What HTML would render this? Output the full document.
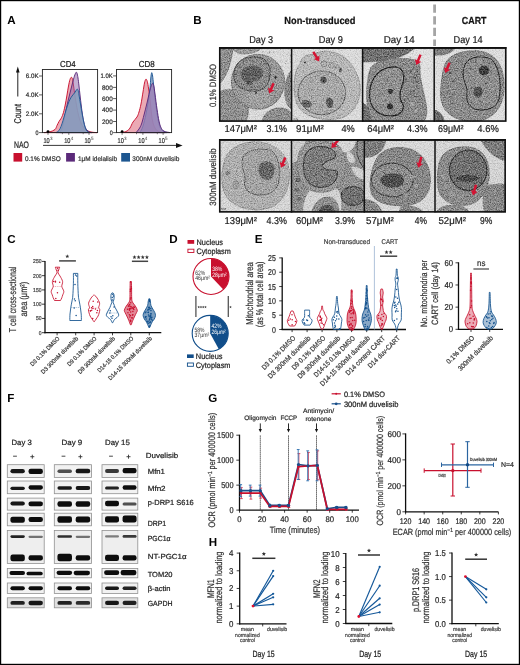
<!DOCTYPE html><html><head><meta charset="utf-8"><style>html,body{margin:0;padding:0;background:#fff;overflow:hidden;}svg{display:block;will-change:transform;}text{font-family:"Liberation Sans", sans-serif;text-rendering:geometricPrecision;}</style></head><body>
<svg width="520" height="665" viewBox="0 0 520 665">
<rect x="0.00" y="0.00" width="520.00" height="665.00" fill="#fff" stroke="none" stroke-width="1"/>
<text x="7.2" y="23.8" font-size="11.6" font-weight="bold" fill="#000">A</text>
<line x1="17.80" y1="71.00" x2="17.80" y2="96.50" stroke="#222" stroke-width="1"/>
<path d="M16.0,72.6 L17.8,66.4 L19.6,72.6 Z" fill="#111"/>
<text x="20.90" y="113.80" font-size="9.8" fill="#222" stroke="#222" stroke-width="0.22" text-anchor="middle" textLength="19.60" lengthAdjust="spacingAndGlyphs" transform="rotate(-90 20.90 113.80)" dy="0">Count</text>
<path d="M44,132.6 C45.00,132.47 48.17,132.32 50.00,131.80 C51.83,131.28 53.83,130.55 55.00,129.50 C56.17,128.45 56.33,126.83 57.00,125.50 C57.67,124.17 58.33,122.67 59.00,121.50 C59.67,120.33 60.33,119.75 61.00,118.50 C61.67,117.25 62.33,116.08 63.00,114.00 C63.67,111.92 64.33,109.17 65.00,106.00 C65.67,102.83 66.42,98.33 67.00,95.00 C67.58,91.67 68.00,88.58 68.50,86.00 C69.00,83.42 69.52,80.95 70.00,79.50 C70.48,78.05 70.97,77.30 71.40,77.30 C71.83,77.30 72.23,78.05 72.60,79.50 C72.97,80.95 73.20,83.25 73.60,86.00 C74.00,88.75 74.43,92.33 75.00,96.00 C75.57,99.67 76.33,104.50 77.00,108.00 C77.67,111.50 78.33,114.50 79.00,117.00 C79.67,119.50 80.17,121.17 81.00,123.00 C81.83,124.83 82.83,126.67 84.00,128.00 C85.17,129.33 86.67,130.30 88.00,131.00 C89.33,131.70 90.50,131.93 92.00,132.20 C93.50,132.47 96.17,132.53 97.00,132.60 Z" fill="rgba(200,16,46,0.36)" stroke="#c8102e" stroke-width="0.95" stroke-linejoin="round"/>
<path d="M60,132.6 C60.33,131.83 61.33,130.10 62.00,128.00 C62.67,125.90 63.33,123.00 64.00,120.00 C64.67,117.00 65.33,113.17 66.00,110.00 C66.67,106.83 67.33,103.83 68.00,101.00 C68.67,98.17 69.33,95.67 70.00,93.00 C70.67,90.33 71.33,87.58 72.00,85.00 C72.67,82.42 73.42,79.45 74.00,77.50 C74.58,75.55 75.13,74.17 75.50,73.30 C75.87,72.43 75.95,72.32 76.20,72.30 C76.45,72.28 76.70,72.25 77.00,73.20 C77.30,74.15 77.67,75.87 78.00,78.00 C78.33,80.13 78.67,83.17 79.00,86.00 C79.33,88.83 79.62,91.67 80.00,95.00 C80.38,98.33 80.88,102.67 81.30,106.00 C81.72,109.33 82.05,112.17 82.50,115.00 C82.95,117.83 83.42,120.67 84.00,123.00 C84.58,125.33 85.17,127.50 86.00,129.00 C86.83,130.50 88.00,131.40 89.00,132.00 C90.00,132.60 91.50,132.50 92.00,132.60 Z" fill="rgba(140,95,165,0.5)" stroke="#5b2a7a" stroke-width="0.95" stroke-linejoin="round"/>
<path d="M56,132.6 C56.50,132.25 58.17,131.52 59.00,130.50 C59.83,129.48 60.33,128.17 61.00,126.50 C61.67,124.83 62.33,122.67 63.00,120.50 C63.67,118.33 64.33,115.75 65.00,113.50 C65.67,111.25 66.33,109.00 67.00,107.00 C67.67,105.00 68.33,103.08 69.00,101.50 C69.67,99.92 70.33,98.62 71.00,97.50 C71.67,96.38 72.33,95.67 73.00,94.80 C73.67,93.93 74.42,93.13 75.00,92.30 C75.58,91.47 76.12,90.32 76.50,89.80 C76.88,89.28 77.02,89.08 77.30,89.20 C77.58,89.32 77.92,89.53 78.20,90.50 C78.48,91.47 78.62,92.75 79.00,95.00 C79.38,97.25 80.00,101.00 80.50,104.00 C81.00,107.00 81.50,110.17 82.00,113.00 C82.50,115.83 83.00,118.67 83.50,121.00 C84.00,123.33 84.42,125.33 85.00,127.00 C85.58,128.67 86.17,130.07 87.00,131.00 C87.83,131.93 89.50,132.33 90.00,132.60 Z" fill="rgba(135,158,190,0.88)" stroke="#1f5896" stroke-width="0.95" stroke-linejoin="round"/>
<path d="M122,132.6 C122.83,132.33 125.67,131.77 127.00,131.00 C128.33,130.23 129.00,129.50 130.00,128.00 C131.00,126.50 131.83,123.83 133.00,122.00 C134.17,120.17 136.00,118.67 137.00,117.00 C138.00,115.33 138.33,114.17 139.00,112.00 C139.67,109.83 140.33,107.33 141.00,104.00 C141.67,100.67 142.42,95.50 143.00,92.00 C143.58,88.50 144.02,85.13 144.50,83.00 C144.98,80.87 145.43,79.45 145.90,79.20 C146.37,78.95 146.87,80.03 147.30,81.50 C147.73,82.97 148.13,85.75 148.50,88.00 C148.87,90.25 149.17,92.33 149.50,95.00 C149.83,97.67 150.17,100.83 150.50,104.00 C150.83,107.17 151.08,110.83 151.50,114.00 C151.92,117.17 152.25,120.42 153.00,123.00 C153.75,125.58 154.83,128.00 156.00,129.50 C157.17,131.00 158.50,131.48 160.00,132.00 C161.50,132.52 164.17,132.50 165.00,132.60 Z" fill="rgba(200,16,46,0.36)" stroke="#c8102e" stroke-width="0.95" stroke-linejoin="round"/>
<path d="M140,132.6 C140.50,131.50 142.00,129.10 143.00,126.00 C144.00,122.90 145.08,118.33 146.00,114.00 C146.92,109.67 147.83,104.33 148.50,100.00 C149.17,95.67 149.62,91.67 150.00,88.00 C150.38,84.33 150.52,80.55 150.80,78.00 C151.08,75.45 151.40,73.03 151.70,72.70 C152.00,72.37 152.30,74.12 152.60,76.00 C152.90,77.88 153.18,81.17 153.50,84.00 C153.82,86.83 154.08,89.33 154.50,93.00 C154.92,96.67 155.42,101.67 156.00,106.00 C156.58,110.33 157.33,115.50 158.00,119.00 C158.67,122.50 159.17,125.00 160.00,127.00 C160.83,129.00 161.83,130.07 163.00,131.00 C164.17,131.93 166.33,132.33 167.00,132.60 Z" fill="rgba(120,150,190,0.8)" stroke="#1f5896" stroke-width="0.95" stroke-linejoin="round"/>
<path d="M136,132.6 C136.50,132.00 138.08,130.43 139.00,129.00 C139.92,127.57 140.67,126.33 141.50,124.00 C142.33,121.67 143.08,118.50 144.00,115.00 C144.92,111.50 146.08,106.83 147.00,103.00 C147.92,99.17 148.83,94.75 149.50,92.00 C150.17,89.25 150.52,87.92 151.00,86.50 C151.48,85.08 151.95,83.67 152.40,83.50 C152.85,83.33 153.27,83.75 153.70,85.50 C154.13,87.25 154.45,90.08 155.00,94.00 C155.55,97.92 156.33,104.50 157.00,109.00 C157.67,113.50 158.33,117.92 159.00,121.00 C159.67,124.08 160.17,125.80 161.00,127.50 C161.83,129.20 162.50,130.35 164.00,131.20 C165.50,132.05 169.00,132.37 170.00,132.60 Z" fill="rgba(160,125,180,0.72)" stroke="#5b2a7a" stroke-width="0.95" stroke-linejoin="round"/>
<rect x="42.40" y="69.50" width="55.20" height="63.10" fill="none" stroke="#222" stroke-width="0.9"/>
<text x="60.00" y="66.80" font-size="8.7" fill="#222" stroke="#222" stroke-width="0.22" textLength="15.70" lengthAdjust="spacingAndGlyphs">CD4</text>
<line x1="39.00" y1="76.00" x2="42.40" y2="76.00" stroke="#333" stroke-width="0.8"/>
<text x="38.60" y="78.20" font-size="6.4" fill="#333" stroke="#333" stroke-width="0.22" text-anchor="end" textLength="12.80" lengthAdjust="spacingAndGlyphs">6.0K</text>
<line x1="39.00" y1="94.90" x2="42.40" y2="94.90" stroke="#333" stroke-width="0.8"/>
<text x="38.60" y="97.10" font-size="6.4" fill="#333" stroke="#333" stroke-width="0.22" text-anchor="end" textLength="12.80" lengthAdjust="spacingAndGlyphs">4.0K</text>
<line x1="39.00" y1="113.80" x2="42.40" y2="113.80" stroke="#333" stroke-width="0.8"/>
<text x="38.60" y="116.00" font-size="6.4" fill="#333" stroke="#333" stroke-width="0.22" text-anchor="end" textLength="12.80" lengthAdjust="spacingAndGlyphs">2.0K</text>
<line x1="39.00" y1="132.60" x2="42.40" y2="132.60" stroke="#333" stroke-width="0.8"/>
<text x="38.60" y="134.80" font-size="6.4" fill="#333" stroke="#333" stroke-width="0.22" text-anchor="end" textLength="3.00" lengthAdjust="spacingAndGlyphs">0</text>
<line x1="48.00" y1="132.60" x2="48.00" y2="134.80" stroke="#333" stroke-width="0.7"/>
<line x1="68.80" y1="132.60" x2="68.80" y2="134.80" stroke="#333" stroke-width="0.7"/>
<line x1="89.00" y1="132.60" x2="89.00" y2="134.80" stroke="#333" stroke-width="0.7"/>
<line x1="62.40" y1="132.60" x2="62.40" y2="134.20" stroke="#333" stroke-width="0.6"/>
<line x1="83.20" y1="132.60" x2="83.20" y2="134.20" stroke="#333" stroke-width="0.6"/>
<text x="43.40" y="143.10" font-size="7.0" fill="#333" stroke="#333" stroke-width="0.22" textLength="6.30" lengthAdjust="spacingAndGlyphs">10</text>
<text x="49.90" y="140.0" font-size="4.6" fill="#333">3</text>
<text x="64.20" y="143.10" font-size="7.0" fill="#333" stroke="#333" stroke-width="0.22" textLength="6.30" lengthAdjust="spacingAndGlyphs">10</text>
<text x="70.70" y="140.0" font-size="4.6" fill="#333">4</text>
<text x="84.40" y="143.10" font-size="7.0" fill="#333" stroke="#333" stroke-width="0.22" textLength="6.30" lengthAdjust="spacingAndGlyphs">10</text>
<text x="90.90" y="140.0" font-size="4.6" fill="#333">5</text>
<circle cx="48.0" cy="131.6" r="1.4" fill="#000"/>
<rect x="116.50" y="69.50" width="55.10" height="63.10" fill="none" stroke="#222" stroke-width="0.9"/>
<text x="138.80" y="66.80" font-size="8.7" fill="#222" stroke="#222" stroke-width="0.22" textLength="16.00" lengthAdjust="spacingAndGlyphs">CD8</text>
<line x1="113.10" y1="75.90" x2="116.50" y2="75.90" stroke="#333" stroke-width="0.8"/>
<text x="112.70" y="78.10" font-size="6.4" fill="#333" stroke="#333" stroke-width="0.22" text-anchor="end" textLength="12.20" lengthAdjust="spacingAndGlyphs">1.0K</text>
<line x1="113.10" y1="87.40" x2="116.50" y2="87.40" stroke="#333" stroke-width="0.8"/>
<text x="112.70" y="89.60" font-size="6.4" fill="#333" stroke="#333" stroke-width="0.22" text-anchor="end" textLength="10.60" lengthAdjust="spacingAndGlyphs">800</text>
<line x1="113.10" y1="98.60" x2="116.50" y2="98.60" stroke="#333" stroke-width="0.8"/>
<text x="112.70" y="100.80" font-size="6.4" fill="#333" stroke="#333" stroke-width="0.22" text-anchor="end" textLength="10.60" lengthAdjust="spacingAndGlyphs">600</text>
<line x1="113.10" y1="110.10" x2="116.50" y2="110.10" stroke="#333" stroke-width="0.8"/>
<text x="112.70" y="112.30" font-size="6.4" fill="#333" stroke="#333" stroke-width="0.22" text-anchor="end" textLength="10.60" lengthAdjust="spacingAndGlyphs">400</text>
<line x1="113.10" y1="121.50" x2="116.50" y2="121.50" stroke="#333" stroke-width="0.8"/>
<text x="112.70" y="123.70" font-size="6.4" fill="#333" stroke="#333" stroke-width="0.22" text-anchor="end" textLength="10.60" lengthAdjust="spacingAndGlyphs">200</text>
<line x1="113.10" y1="132.60" x2="116.50" y2="132.60" stroke="#333" stroke-width="0.8"/>
<text x="112.70" y="134.80" font-size="6.4" fill="#333" stroke="#333" stroke-width="0.22" text-anchor="end" textLength="3.00" lengthAdjust="spacingAndGlyphs">0</text>
<line x1="122.10" y1="132.60" x2="122.10" y2="134.80" stroke="#333" stroke-width="0.7"/>
<line x1="142.90" y1="132.60" x2="142.90" y2="134.80" stroke="#333" stroke-width="0.7"/>
<line x1="163.10" y1="132.60" x2="163.10" y2="134.80" stroke="#333" stroke-width="0.7"/>
<line x1="136.50" y1="132.60" x2="136.50" y2="134.20" stroke="#333" stroke-width="0.6"/>
<line x1="157.30" y1="132.60" x2="157.30" y2="134.20" stroke="#333" stroke-width="0.6"/>
<text x="117.50" y="143.10" font-size="7.0" fill="#333" stroke="#333" stroke-width="0.22" textLength="6.30" lengthAdjust="spacingAndGlyphs">10</text>
<text x="124.00" y="140.0" font-size="4.6" fill="#333">3</text>
<text x="138.30" y="143.10" font-size="7.0" fill="#333" stroke="#333" stroke-width="0.22" textLength="6.30" lengthAdjust="spacingAndGlyphs">10</text>
<text x="144.80" y="140.0" font-size="4.6" fill="#333">4</text>
<text x="158.50" y="143.10" font-size="7.0" fill="#333" stroke="#333" stroke-width="0.22" textLength="6.30" lengthAdjust="spacingAndGlyphs">10</text>
<text x="165.00" y="140.0" font-size="4.6" fill="#333">5</text>
<circle cx="122.1" cy="131.6" r="1.4" fill="#000"/>
<text x="14.00" y="148.00" font-size="9.4" fill="#222" stroke="#222" stroke-width="0.22" textLength="15.00" lengthAdjust="spacingAndGlyphs">NAO</text>
<line x1="43.00" y1="145.40" x2="177.00" y2="145.40" stroke="#222" stroke-width="0.9"/>
<path d="M176,142.9 L182.6,145.4 L176,147.9 Z" fill="#111"/>
<rect x="13.50" y="153.00" width="8.70" height="8.60" fill="#c8102e" stroke="none" stroke-width="1"/>
<text x="25.00" y="160.50" font-size="6.7" fill="#333" stroke="#333" stroke-width="0.22" textLength="35.70" lengthAdjust="spacingAndGlyphs">0.1% DMSO</text>
<rect x="66.10" y="153.00" width="8.80" height="8.60" fill="#5b2a7a" stroke="none" stroke-width="1"/>
<text x="78.00" y="160.50" font-size="6.7" fill="#333" stroke="#333" stroke-width="0.22" textLength="39.00" lengthAdjust="spacingAndGlyphs">1μM idelalisib</text>
<rect x="121.20" y="153.00" width="8.80" height="8.60" fill="#1d5690" stroke="none" stroke-width="1"/>
<text x="132.30" y="160.50" font-size="6.7" fill="#333" stroke="#333" stroke-width="0.22" textLength="47.10" lengthAdjust="spacingAndGlyphs">300nM duvelisib</text>
<text x="193.2" y="23.6" font-size="11.6" font-weight="bold" fill="#000">B</text>
<text x="284.30" y="23.60" font-size="10.2" font-weight="bold" fill="#111" stroke="#111" stroke-width="0.22" textLength="71.10" lengthAdjust="spacingAndGlyphs">Non-transduced</text>
<text x="461.80" y="23.60" font-size="10.2" font-weight="bold" fill="#111" stroke="#111" stroke-width="0.22" textLength="24.70" lengthAdjust="spacingAndGlyphs">CART</text>
<line x1="434.60" y1="4.60" x2="434.60" y2="46.00" stroke="#a5a5a5" stroke-width="2.8" stroke-dasharray="8.2 3.4"/>
<text x="249.20" y="42.60" font-size="10.0" fill="#222" stroke="#222" stroke-width="0.22" textLength="23.90" lengthAdjust="spacingAndGlyphs">Day 3</text>
<text x="318.80" y="42.60" font-size="10.0" fill="#222" stroke="#222" stroke-width="0.22" textLength="24.00" lengthAdjust="spacingAndGlyphs">Day 9</text>
<text x="383.80" y="42.60" font-size="10.0" fill="#222" stroke="#222" stroke-width="0.22" textLength="30.90" lengthAdjust="spacingAndGlyphs">Day 14</text>
<text x="453.50" y="42.60" font-size="10.0" fill="#222" stroke="#222" stroke-width="0.22" textLength="29.10" lengthAdjust="spacingAndGlyphs">Day 14</text>
<text x="215.60" y="85.45" font-size="9.2" fill="#333" stroke="#333" stroke-width="0.22" text-anchor="middle" textLength="43.30" lengthAdjust="spacingAndGlyphs" transform="rotate(-90 215.60 85.45)" dy="0">0.1% DMSO</text>
<text x="215.60" y="177.00" font-size="9.2" fill="#333" stroke="#333" stroke-width="0.22" text-anchor="middle" textLength="57.40" lengthAdjust="spacingAndGlyphs" transform="rotate(-90 215.60 177.00)" dy="0">300nM duvelisib</text>
<text x="224.60" y="132.40" font-size="10.0" fill="#222" stroke="#222" stroke-width="0.22" textLength="32.30" lengthAdjust="spacingAndGlyphs">147μM²</text>
<text x="266.50" y="132.40" font-size="10.0" fill="#222" stroke="#222" stroke-width="0.22" textLength="20.40" lengthAdjust="spacingAndGlyphs">3.1%</text>
<text x="296.00" y="132.40" font-size="10.0" fill="#222" stroke="#222" stroke-width="0.22" textLength="27.70" lengthAdjust="spacingAndGlyphs">91μM²</text>
<text x="341.50" y="132.40" font-size="10.0" fill="#222" stroke="#222" stroke-width="0.22" textLength="13.30" lengthAdjust="spacingAndGlyphs">4%</text>
<text x="367.20" y="132.40" font-size="10.0" fill="#222" stroke="#222" stroke-width="0.22" textLength="26.80" lengthAdjust="spacingAndGlyphs">64μM²</text>
<text x="407.00" y="132.40" font-size="10.0" fill="#222" stroke="#222" stroke-width="0.22" textLength="20.70" lengthAdjust="spacingAndGlyphs">4.3%</text>
<text x="438.00" y="132.40" font-size="10.0" fill="#222" stroke="#222" stroke-width="0.22" textLength="25.50" lengthAdjust="spacingAndGlyphs">69μM²</text>
<text x="477.30" y="132.40" font-size="10.0" fill="#222" stroke="#222" stroke-width="0.22" textLength="21.50" lengthAdjust="spacingAndGlyphs">4.6%</text>
<text x="224.60" y="223.50" font-size="10.0" fill="#222" stroke="#222" stroke-width="0.22" textLength="32.30" lengthAdjust="spacingAndGlyphs">139μM²</text>
<text x="266.50" y="223.50" font-size="10.0" fill="#222" stroke="#222" stroke-width="0.22" textLength="20.40" lengthAdjust="spacingAndGlyphs">4.3%</text>
<text x="296.00" y="223.50" font-size="10.0" fill="#222" stroke="#222" stroke-width="0.22" textLength="27.00" lengthAdjust="spacingAndGlyphs">60μM²</text>
<text x="335.00" y="223.50" font-size="10.0" fill="#222" stroke="#222" stroke-width="0.22" textLength="20.00" lengthAdjust="spacingAndGlyphs">3.9%</text>
<text x="366.00" y="223.50" font-size="10.0" fill="#222" stroke="#222" stroke-width="0.22" textLength="27.80" lengthAdjust="spacingAndGlyphs">57μM²</text>
<text x="414.80" y="223.50" font-size="10.0" fill="#222" stroke="#222" stroke-width="0.22" textLength="12.20" lengthAdjust="spacingAndGlyphs">4%</text>
<text x="438.50" y="223.50" font-size="10.0" fill="#222" stroke="#222" stroke-width="0.22" textLength="27.50" lengthAdjust="spacingAndGlyphs">52μM²</text>
<text x="480.00" y="223.50" font-size="10.0" fill="#222" stroke="#222" stroke-width="0.22" textLength="12.30" lengthAdjust="spacingAndGlyphs">9%</text>
<defs>
<filter id="emtex" x="0" y="0" width="100%" height="100%" filterUnits="objectBoundingBox" color-interpolation-filters="sRGB">
 <feGaussianBlur in="SourceGraphic" stdDeviation="0.45" result="b"/>
 <feTurbulence type="fractalNoise" baseFrequency="0.85" numOctaves="2" seed="7" result="n"/>
 <feColorMatrix in="n" type="matrix" values="1.45 0 0 0 -0.225  1.45 0 0 0 -0.225  1.45 0 0 0 -0.225  0 0 0 0 1" result="g"/>
 <feBlend in="g" in2="b" mode="soft-light" result="bl"/>
 <feComposite in="bl" in2="SourceAlpha" operator="in"/>
</filter>
</defs>
<clipPath id="c1"><rect x="219" y="47" width="72.60000000000002" height="74.8"/></clipPath>
<clipPath id="c2"><rect x="291.6" y="47" width="71.0" height="74.8"/></clipPath>
<clipPath id="c3"><rect x="362.6" y="47" width="71.59999999999997" height="74.8"/></clipPath>
<clipPath id="c4"><rect x="434.2" y="47" width="72.30000000000001" height="74.8"/></clipPath>
<clipPath id="c5"><rect x="219" y="139" width="72.5" height="73.6"/></clipPath>
<clipPath id="c6"><rect x="291.5" y="139" width="72.80000000000001" height="73.6"/></clipPath>
<clipPath id="c7"><rect x="364.3" y="139" width="70.69999999999999" height="73.6"/></clipPath>
<clipPath id="c8"><rect x="435" y="139" width="70.89999999999998" height="73.6"/></clipPath>
<g clip-path="url(#c1)"><g filter="url(#emtex)">
<rect x="218.00" y="46.00" width="74.60" height="76.80" fill="#dadada" stroke="none" stroke-width="1"/>
<g opacity="0.6">
<circle cx="280.5" cy="47.6" r="0.44" fill="#8a8a8a"/>
<circle cx="268.5" cy="63.9" r="0.64" fill="#8a8a8a"/>
<circle cx="287.9" cy="49.0" r="0.51" fill="#8a8a8a"/>
<circle cx="262.9" cy="52.0" r="0.55" fill="#8a8a8a"/>
<circle cx="262.8" cy="51.6" r="0.62" fill="#8a8a8a"/>
<circle cx="277.8" cy="52.1" r="0.59" fill="#8a8a8a"/>
<circle cx="285.5" cy="47.1" r="0.70" fill="#8a8a8a"/>
<circle cx="282.2" cy="54.8" r="0.38" fill="#8a8a8a"/>
<circle cx="289.8" cy="54.7" r="0.35" fill="#8a8a8a"/>
<circle cx="264.8" cy="66.5" r="0.60" fill="#8a8a8a"/>
<circle cx="285.4" cy="63.8" r="0.57" fill="#8a8a8a"/>
<circle cx="290.2" cy="55.7" r="0.58" fill="#8a8a8a"/>
<circle cx="286.1" cy="61.2" r="0.73" fill="#8a8a8a"/>
<circle cx="278.7" cy="63.2" r="0.32" fill="#8a8a8a"/>
<circle cx="268.6" cy="53.7" r="0.34" fill="#8a8a8a"/>
<circle cx="268.8" cy="49.3" r="0.44" fill="#8a8a8a"/>
<circle cx="280.4" cy="55.4" r="0.49" fill="#8a8a8a"/>
<circle cx="268.1" cy="53.1" r="0.77" fill="#8a8a8a"/>
<circle cx="280.8" cy="61.0" r="0.39" fill="#8a8a8a"/>
<circle cx="283.1" cy="50.8" r="0.49" fill="#8a8a8a"/>
<circle cx="290.7" cy="61.7" r="0.58" fill="#8a8a8a"/>
<circle cx="281.9" cy="66.4" r="0.69" fill="#8a8a8a"/>
<circle cx="268.6" cy="47.7" r="0.46" fill="#8a8a8a"/>
<circle cx="269.8" cy="51.9" r="0.77" fill="#8a8a8a"/>
<circle cx="287.4" cy="54.2" r="0.63" fill="#8a8a8a"/>
<circle cx="273.5" cy="68.0" r="0.53" fill="#8a8a8a"/>
<circle cx="269.7" cy="52.7" r="0.58" fill="#8a8a8a"/>
<circle cx="269.6" cy="60.4" r="0.75" fill="#8a8a8a"/>
<circle cx="273.6" cy="52.0" r="0.80" fill="#8a8a8a"/>
<circle cx="276.8" cy="49.1" r="0.32" fill="#8a8a8a"/>
<circle cx="265.2" cy="61.4" r="0.70" fill="#8a8a8a"/>
<circle cx="274.2" cy="48.5" r="0.49" fill="#8a8a8a"/>
<circle cx="290.9" cy="59.2" r="0.79" fill="#8a8a8a"/>
<circle cx="287.0" cy="47.3" r="0.66" fill="#8a8a8a"/>
<circle cx="281.8" cy="59.4" r="0.43" fill="#8a8a8a"/>
<circle cx="280.6" cy="49.6" r="0.52" fill="#8a8a8a"/>
<circle cx="275.2" cy="68.9" r="0.74" fill="#8a8a8a"/>
<circle cx="269.6" cy="58.5" r="0.39" fill="#8a8a8a"/>
<circle cx="288.5" cy="67.0" r="0.45" fill="#8a8a8a"/>
<circle cx="280.5" cy="61.0" r="0.38" fill="#8a8a8a"/>
</g>
<path d="M219,47 L233,47 C232,58 229,70 224,78 C222,81 220,83 219,84 Z" fill="#8f8f8f" stroke="#6a6a6a" stroke-width="0.7"/>
<path d="M230,46 L263,46 C260,51 252,54 244,54 C238,54 233,51 230,46 Z" fill="#9a9a9a" stroke="#707070" stroke-width="0.6"/>
<path d="M219,92 C225,88 238,89 245,96 C250,102 249,113 246,122 L219,122 Z" fill="#909090" stroke="#707070" stroke-width="0.7"/>
<path d="M262,122 C263,114 270,108 280,108 C287,108 292,112 292,115 L292,122 Z" fill="#8e8e8e" stroke="#707070" stroke-width="0.7"/>
<path d="M292,70 C287,74 284,86 285,96 C286,104 289,108 292,109 Z" fill="#888" stroke="#666" stroke-width="0.6"/>
<ellipse cx="258" cy="81.8" rx="26.6" ry="27.4" fill="#989898" stroke="#707070" stroke-width="0.8"/>
<path d="M248,90 C255,88 266,89 270,95 C272,101 268,106 262,107 C255,108 249,104 247,99 Z" fill="#a2a2a2"/>
<path d="M236,66 C239,59 249,56 258,57 C266,58 271,65 270,74 C270,82 266,89 257,91 C247,92 238,88 235,81 C233,76 234,70 236,66 Z" fill="#8c8c8c" stroke="#3e3e3e" stroke-width="0.9"/>
<clipPath id="nc1"><path d="M236,66 C239,59 249,56 258,57 C266,58 271,65 270,74 C270,82 266,89 257,91 C247,92 238,88 235,81 C233,76 234,70 236,66 Z"/></clipPath><g clip-path="url(#nc1)" opacity="0.55">
<circle cx="262.2" cy="75.4" r="0.95" fill="#555"/>
<circle cx="256.2" cy="73.6" r="0.48" fill="#777"/>
<circle cx="266.5" cy="85.9" r="0.62" fill="#555"/>
<circle cx="242.9" cy="76.4" r="0.46" fill="#4a4a4a"/>
<circle cx="264.2" cy="91.2" r="0.77" fill="#666"/>
<circle cx="238.8" cy="73.1" r="0.78" fill="#777"/>
<circle cx="253.5" cy="77.8" r="1.08" fill="#666"/>
<circle cx="260.4" cy="70.4" r="0.87" fill="#777"/>
<circle cx="250.2" cy="74.6" r="0.48" fill="#666"/>
<circle cx="236.4" cy="56.8" r="0.79" fill="#666"/>
<circle cx="234.3" cy="81.5" r="0.44" fill="#555"/>
<circle cx="267.5" cy="86.9" r="0.45" fill="#666"/>
<circle cx="244.3" cy="73.5" r="0.78" fill="#4a4a4a"/>
<circle cx="243.0" cy="73.0" r="0.68" fill="#555"/>
<circle cx="237.6" cy="71.5" r="0.70" fill="#4a4a4a"/>
<circle cx="266.0" cy="58.0" r="0.86" fill="#555"/>
<circle cx="236.2" cy="82.2" r="0.96" fill="#555"/>
<circle cx="243.2" cy="62.8" r="0.71" fill="#4a4a4a"/>
<circle cx="240.8" cy="72.7" r="1.01" fill="#555"/>
<circle cx="250.4" cy="87.0" r="0.79" fill="#555"/>
<circle cx="258.1" cy="75.5" r="0.41" fill="#555"/>
<circle cx="268.3" cy="86.6" r="0.52" fill="#4a4a4a"/>
<circle cx="251.8" cy="87.1" r="1.03" fill="#666"/>
<circle cx="248.0" cy="91.5" r="0.59" fill="#4a4a4a"/>
<circle cx="244.6" cy="81.1" r="0.91" fill="#4a4a4a"/>
<circle cx="239.7" cy="66.7" r="1.08" fill="#555"/>
<circle cx="261.7" cy="58.1" r="0.81" fill="#666"/>
<circle cx="236.1" cy="74.3" r="1.00" fill="#555"/>
<circle cx="256.0" cy="80.3" r="0.56" fill="#555"/>
<circle cx="268.8" cy="76.5" r="0.81" fill="#555"/>
<circle cx="256.9" cy="71.1" r="0.81" fill="#777"/>
<circle cx="268.6" cy="63.4" r="0.90" fill="#666"/>
<circle cx="243.8" cy="60.7" r="0.85" fill="#4a4a4a"/>
<circle cx="245.7" cy="83.1" r="0.45" fill="#4a4a4a"/>
<circle cx="257.0" cy="76.3" r="0.47" fill="#666"/>
<circle cx="252.7" cy="60.8" r="0.64" fill="#555"/>
<circle cx="266.5" cy="69.3" r="0.51" fill="#777"/>
<circle cx="256.6" cy="91.5" r="0.86" fill="#555"/>
<circle cx="258.7" cy="76.0" r="1.05" fill="#555"/>
<circle cx="268.7" cy="60.8" r="0.48" fill="#555"/>
<circle cx="261.5" cy="61.6" r="0.60" fill="#666"/>
<circle cx="260.6" cy="63.3" r="0.84" fill="#777"/>
<circle cx="252.7" cy="65.0" r="1.04" fill="#555"/>
<circle cx="237.4" cy="71.2" r="0.59" fill="#555"/>
<circle cx="246.3" cy="60.7" r="1.09" fill="#666"/>
<circle cx="261.4" cy="75.9" r="0.70" fill="#555"/>
<circle cx="238.1" cy="90.0" r="0.88" fill="#666"/>
<circle cx="254.2" cy="86.0" r="0.81" fill="#666"/>
<circle cx="249.9" cy="57.5" r="0.66" fill="#555"/>
<circle cx="267.3" cy="63.6" r="0.57" fill="#555"/>
<circle cx="247.1" cy="76.2" r="1.01" fill="#666"/>
<circle cx="268.3" cy="64.5" r="0.51" fill="#666"/>
<circle cx="266.6" cy="56.9" r="0.92" fill="#777"/>
<circle cx="262.9" cy="70.8" r="0.87" fill="#666"/>
<circle cx="243.9" cy="84.3" r="0.48" fill="#555"/>
<circle cx="265.8" cy="64.0" r="0.97" fill="#4a4a4a"/>
<circle cx="246.9" cy="85.5" r="1.01" fill="#666"/>
<circle cx="234.9" cy="63.0" r="0.63" fill="#555"/>
<circle cx="269.8" cy="66.0" r="0.85" fill="#4a4a4a"/>
<circle cx="259.1" cy="86.4" r="0.63" fill="#555"/>
</g>
<path d="M241,72 C244,66 253,65 259,67 C265,70 264,77 258,80 C252,83 245,82 242,79 Z" fill="#5e5e5e"/>
<path d="M246,82 C249,80 253,81 253,84 C251,86 247,86 246,82 Z" fill="#5e5e5e"/>
<circle cx="275.5" cy="77.5" r="1.2" fill="#222"/><circle cx="256" cy="93" r="1" fill="#333"/>
</g>
<g transform="translate(269.2 93.5) rotate(23)"><path d="M0,0 L-3.5,-5.0 L-1.25,-4.5 L-1.25,-11.2 L1.25,-11.2 L1.25,-4.5 L3.5,-5.0 Z" fill="#d41433"/></g>
</g>
<g clip-path="url(#c2)"><g filter="url(#emtex)">
<rect x="290.60" y="46.00" width="73.00" height="76.80" fill="#dadada" stroke="none" stroke-width="1"/>
<path d="M300,64 C301,57 307,54 312,55 C318,51 328,50 336,53 C348,57 356,68 359.5,82 C362,97 357,111 343,117.5 C328,122 308,119 299,108 C293,99 293,82 296,72 C297,68 298,66 300,64 Z" fill="#b8b8b8" stroke="#8a8a8a" stroke-width="0.7"/>
<ellipse cx="321.8" cy="92.8" rx="23.8" ry="21.9" fill="#ababab" stroke="#555" stroke-width="0.8"/>
<clipPath id="nc2"><path d="M298,92.8 A23.8,21.9 0 1 0 345.6,92.8 A23.8,21.9 0 1 0 298,92.8 Z"/></clipPath><g clip-path="url(#nc2)" opacity="0.6">
<circle cx="303.5" cy="113.7" r="0.52" fill="#949494"/>
<circle cx="299.8" cy="97.2" r="0.64" fill="#949494"/>
<circle cx="318.9" cy="114.3" r="0.48" fill="#7e7e7e"/>
<circle cx="307.1" cy="73.0" r="0.71" fill="#7e7e7e"/>
<circle cx="342.4" cy="94.7" r="0.90" fill="#7e7e7e"/>
<circle cx="333.4" cy="79.7" r="0.70" fill="#7e7e7e"/>
<circle cx="342.2" cy="98.4" r="0.86" fill="#8a8a8a"/>
<circle cx="332.5" cy="84.2" r="0.62" fill="#949494"/>
<circle cx="313.7" cy="101.7" r="0.79" fill="#8a8a8a"/>
<circle cx="318.2" cy="112.4" r="0.87" fill="#8a8a8a"/>
<circle cx="327.5" cy="84.2" r="0.78" fill="#8a8a8a"/>
<circle cx="312.6" cy="80.2" r="0.95" fill="#7e7e7e"/>
<circle cx="329.4" cy="91.5" r="0.71" fill="#8a8a8a"/>
<circle cx="322.5" cy="105.9" r="1.07" fill="#7e7e7e"/>
<circle cx="306.1" cy="74.7" r="0.76" fill="#7e7e7e"/>
<circle cx="327.7" cy="75.1" r="1.07" fill="#8a8a8a"/>
<circle cx="330.3" cy="80.9" r="0.54" fill="#8a8a8a"/>
<circle cx="300.2" cy="114.3" r="0.83" fill="#8a8a8a"/>
<circle cx="319.9" cy="110.0" r="0.80" fill="#7e7e7e"/>
<circle cx="331.4" cy="92.8" r="0.57" fill="#7e7e7e"/>
<circle cx="331.0" cy="110.3" r="1.00" fill="#8a8a8a"/>
<circle cx="335.4" cy="80.6" r="0.96" fill="#7e7e7e"/>
<circle cx="322.9" cy="73.2" r="0.57" fill="#8a8a8a"/>
<circle cx="319.9" cy="106.3" r="0.87" fill="#7e7e7e"/>
<circle cx="326.6" cy="112.8" r="1.02" fill="#7e7e7e"/>
<circle cx="337.1" cy="110.2" r="0.70" fill="#7e7e7e"/>
<circle cx="319.4" cy="78.0" r="1.00" fill="#949494"/>
<circle cx="310.4" cy="81.9" r="0.85" fill="#7e7e7e"/>
<circle cx="321.3" cy="81.5" r="0.71" fill="#7e7e7e"/>
<circle cx="311.7" cy="83.0" r="0.62" fill="#7e7e7e"/>
<circle cx="301.9" cy="77.6" r="0.67" fill="#8a8a8a"/>
<circle cx="331.9" cy="73.8" r="0.69" fill="#7e7e7e"/>
<circle cx="320.4" cy="73.7" r="0.98" fill="#949494"/>
<circle cx="341.4" cy="96.7" r="0.89" fill="#7e7e7e"/>
<circle cx="316.3" cy="71.3" r="0.65" fill="#949494"/>
<circle cx="339.0" cy="113.0" r="0.69" fill="#7e7e7e"/>
<circle cx="333.3" cy="106.2" r="1.03" fill="#949494"/>
<circle cx="308.5" cy="90.2" r="0.42" fill="#949494"/>
<circle cx="330.1" cy="106.1" r="0.91" fill="#949494"/>
<circle cx="342.1" cy="114.2" r="0.77" fill="#949494"/>
<circle cx="326.4" cy="100.2" r="0.46" fill="#949494"/>
<circle cx="304.5" cy="91.3" r="0.44" fill="#949494"/>
<circle cx="313.7" cy="91.0" r="0.64" fill="#949494"/>
<circle cx="311.4" cy="112.9" r="0.70" fill="#8a8a8a"/>
<circle cx="320.6" cy="104.0" r="0.44" fill="#949494"/>
<circle cx="308.8" cy="74.0" r="1.07" fill="#8a8a8a"/>
<circle cx="334.2" cy="112.8" r="0.54" fill="#8a8a8a"/>
<circle cx="327.8" cy="81.5" r="0.73" fill="#8a8a8a"/>
<circle cx="325.1" cy="80.6" r="0.89" fill="#949494"/>
<circle cx="306.1" cy="97.7" r="0.92" fill="#8a8a8a"/>
<circle cx="335.3" cy="78.2" r="0.62" fill="#7e7e7e"/>
<circle cx="299.2" cy="84.7" r="0.87" fill="#949494"/>
<circle cx="317.0" cy="102.5" r="0.45" fill="#7e7e7e"/>
<circle cx="337.9" cy="81.7" r="0.89" fill="#949494"/>
<circle cx="338.8" cy="97.4" r="0.48" fill="#7e7e7e"/>
<circle cx="335.6" cy="86.3" r="0.70" fill="#949494"/>
<circle cx="301.3" cy="99.5" r="0.41" fill="#949494"/>
<circle cx="337.5" cy="75.6" r="1.07" fill="#7e7e7e"/>
<circle cx="340.8" cy="91.2" r="0.51" fill="#8a8a8a"/>
<circle cx="333.2" cy="113.5" r="0.59" fill="#7e7e7e"/>
<circle cx="335.2" cy="91.5" r="0.98" fill="#7e7e7e"/>
<circle cx="310.9" cy="108.5" r="0.98" fill="#8a8a8a"/>
<circle cx="311.4" cy="90.8" r="0.93" fill="#7e7e7e"/>
<circle cx="327.3" cy="87.7" r="0.42" fill="#949494"/>
<circle cx="306.7" cy="80.3" r="0.96" fill="#949494"/>
<circle cx="311.4" cy="97.2" r="1.02" fill="#7e7e7e"/>
<circle cx="298.5" cy="112.7" r="0.46" fill="#7e7e7e"/>
<circle cx="317.5" cy="95.4" r="0.57" fill="#949494"/>
<circle cx="329.0" cy="92.6" r="0.96" fill="#8a8a8a"/>
<circle cx="312.1" cy="88.8" r="0.57" fill="#7e7e7e"/>
</g>
<path d="M320.5,79 C321,76.5 325,76 326.5,78.5 C327.5,81 325.5,83.5 323,83.2 C321,83 320,81 320.5,79 Z" fill="#505050"/>
<path d="M326.5,99 C328,96.5 332,97.5 333,101 C334,105 332,108.5 329,108 C326.5,107.5 325.5,102 326.5,99 Z" fill="#575757"/>
<path d="M302,101 C305,99 310,100 312,104 C312,107 309,108 305,107.5 C302.5,106 301.5,103 302,101 Z" fill="#636363"/>
<circle cx="324" cy="64" r="3" fill="#b0b0b0" stroke="#6e6e6e" stroke-width="0.6"/><circle cx="331.5" cy="65.5" r="2.8" fill="#b0b0b0" stroke="#777" stroke-width="0.6"/><circle cx="337.5" cy="67" r="1.8" fill="#b0b0b0" stroke="#777" stroke-width="0.5"/>
<ellipse cx="340.5" cy="70" rx="1.6" ry="2.6" fill="#666"/><circle cx="305" cy="62.5" r="0.9" fill="#222"/>
<path d="M293,119 L298,119 L297,121" stroke="#555" stroke-width="0.6" fill="none"/>
</g>
<g transform="translate(319.2 61.4) rotate(-32)"><path d="M0,0 L-3.5,-5.0 L-1.25,-4.5 L-1.25,-11.2 L1.25,-11.2 L1.25,-4.5 L3.5,-5.0 Z" fill="#d41433"/></g>
</g>
<g clip-path="url(#c3)"><g filter="url(#emtex)">
<rect x="361.60" y="46.00" width="73.60" height="76.80" fill="#e0e0e0" stroke="none" stroke-width="1"/>
<path d="M362,46 L416,46 C412,52 402,57 392,59 C384,61 376,62 362,62 Z" fill="#727272" stroke="#555" stroke-width="0.6"/>
<g opacity="0.5">
<circle cx="392.7" cy="53.2" r="0.57" fill="#4a4a4a"/>
<circle cx="384.7" cy="56.7" r="0.47" fill="#4a4a4a"/>
<circle cx="398.8" cy="50.5" r="0.43" fill="#4a4a4a"/>
<circle cx="369.2" cy="49.5" r="0.36" fill="#4a4a4a"/>
<circle cx="390.3" cy="56.9" r="0.39" fill="#4a4a4a"/>
<circle cx="374.0" cy="53.3" r="0.66" fill="#4a4a4a"/>
<circle cx="412.8" cy="53.8" r="0.44" fill="#4a4a4a"/>
<circle cx="368.1" cy="49.5" r="0.41" fill="#4a4a4a"/>
<circle cx="372.2" cy="47.2" r="0.57" fill="#4a4a4a"/>
<circle cx="377.0" cy="59.7" r="0.58" fill="#4a4a4a"/>
<circle cx="398.6" cy="48.6" r="0.73" fill="#4a4a4a"/>
<circle cx="388.0" cy="58.3" r="0.59" fill="#4a4a4a"/>
<circle cx="386.9" cy="52.7" r="0.39" fill="#4a4a4a"/>
<circle cx="365.6" cy="59.2" r="0.54" fill="#4a4a4a"/>
<circle cx="404.9" cy="52.2" r="0.34" fill="#4a4a4a"/>
<circle cx="395.1" cy="47.7" r="0.37" fill="#4a4a4a"/>
<circle cx="391.7" cy="50.9" r="0.80" fill="#4a4a4a"/>
<circle cx="369.0" cy="56.9" r="0.60" fill="#4a4a4a"/>
<circle cx="403.3" cy="49.9" r="0.56" fill="#4a4a4a"/>
<circle cx="386.0" cy="52.8" r="0.73" fill="#4a4a4a"/>
<circle cx="413.5" cy="51.0" r="0.61" fill="#4a4a4a"/>
<circle cx="394.1" cy="56.6" r="0.77" fill="#4a4a4a"/>
<circle cx="373.6" cy="49.7" r="0.63" fill="#4a4a4a"/>
<circle cx="371.0" cy="49.3" r="0.34" fill="#4a4a4a"/>
<circle cx="363.1" cy="52.9" r="0.60" fill="#4a4a4a"/>
<circle cx="377.9" cy="50.0" r="0.65" fill="#4a4a4a"/>
<circle cx="398.9" cy="52.9" r="0.64" fill="#4a4a4a"/>
<circle cx="410.1" cy="57.2" r="0.61" fill="#4a4a4a"/>
<circle cx="396.7" cy="59.1" r="0.51" fill="#4a4a4a"/>
<circle cx="390.8" cy="55.4" r="0.75" fill="#4a4a4a"/>
</g>
<path d="M372,66 C380,59 396,57 410,59 C418,60 421,64 420,70 C420,80 424,92 426,104 C428,114 426,122 420,123 L371,123 C367,112 366,96 367,86 C368,76 369,70 372,66 Z" fill="#8b8b8b" stroke="#6a6a6a" stroke-width="0.7"/>
<path d="M362,102 C367,104 371,111 372,123 L362,123 Z" fill="#6e6e6e"/>
<path d="M373,80 C377,71 387,66 396,67 C403,68 405,75 403,83 C400,91 398,98 403,104 C405,110 400,116 390,116 C380,116 372,110 370,100 C369,93 370,86 373,80 Z" fill="#939393" stroke="#222" stroke-width="1.2"/>
<clipPath id="nc3"><path d="M373,80 C377,71 387,66 396,67 C403,68 405,75 403,83 C400,91 398,98 403,104 C405,110 400,116 390,116 C380,116 372,110 370,100 C369,93 370,86 373,80 Z"/></clipPath><g clip-path="url(#nc3)" opacity="0.55">
<circle cx="398.8" cy="69.6" r="0.52" fill="#777"/>
<circle cx="390.4" cy="108.0" r="1.04" fill="#4a4a4a"/>
<circle cx="373.5" cy="101.1" r="0.89" fill="#777"/>
<circle cx="387.0" cy="91.2" r="0.46" fill="#555"/>
<circle cx="401.0" cy="103.5" r="0.82" fill="#555"/>
<circle cx="372.3" cy="115.1" r="0.99" fill="#555"/>
<circle cx="405.0" cy="100.3" r="0.59" fill="#555"/>
<circle cx="396.5" cy="74.9" r="0.76" fill="#4a4a4a"/>
<circle cx="402.0" cy="75.3" r="0.81" fill="#4a4a4a"/>
<circle cx="403.9" cy="90.0" r="0.69" fill="#777"/>
<circle cx="393.1" cy="109.7" r="0.63" fill="#4a4a4a"/>
<circle cx="379.4" cy="114.2" r="0.97" fill="#555"/>
<circle cx="385.4" cy="82.0" r="0.63" fill="#4a4a4a"/>
<circle cx="400.1" cy="108.1" r="0.40" fill="#4a4a4a"/>
<circle cx="383.9" cy="75.6" r="0.65" fill="#4a4a4a"/>
<circle cx="391.5" cy="104.8" r="0.54" fill="#666"/>
<circle cx="402.4" cy="88.3" r="0.89" fill="#555"/>
<circle cx="370.0" cy="98.1" r="0.96" fill="#666"/>
<circle cx="380.2" cy="66.7" r="0.69" fill="#666"/>
<circle cx="404.7" cy="112.6" r="0.72" fill="#555"/>
<circle cx="392.3" cy="73.9" r="1.05" fill="#777"/>
<circle cx="387.3" cy="79.9" r="0.98" fill="#4a4a4a"/>
<circle cx="377.8" cy="94.1" r="0.67" fill="#666"/>
<circle cx="400.1" cy="80.1" r="0.95" fill="#4a4a4a"/>
<circle cx="381.2" cy="106.2" r="0.59" fill="#555"/>
<circle cx="379.2" cy="81.2" r="0.81" fill="#4a4a4a"/>
<circle cx="400.1" cy="88.8" r="0.74" fill="#777"/>
<circle cx="388.9" cy="93.7" r="0.72" fill="#777"/>
<circle cx="400.3" cy="116.0" r="0.57" fill="#4a4a4a"/>
<circle cx="377.4" cy="105.6" r="0.43" fill="#4a4a4a"/>
<circle cx="394.4" cy="107.4" r="0.67" fill="#666"/>
<circle cx="386.8" cy="67.9" r="0.75" fill="#777"/>
<circle cx="400.3" cy="110.6" r="0.71" fill="#4a4a4a"/>
<circle cx="369.6" cy="73.4" r="1.01" fill="#666"/>
<circle cx="371.7" cy="105.9" r="0.59" fill="#4a4a4a"/>
<circle cx="392.4" cy="109.4" r="1.00" fill="#4a4a4a"/>
<circle cx="403.3" cy="98.0" r="1.02" fill="#4a4a4a"/>
<circle cx="400.4" cy="67.8" r="0.45" fill="#777"/>
<circle cx="404.9" cy="104.1" r="0.70" fill="#555"/>
<circle cx="396.4" cy="101.9" r="0.47" fill="#666"/>
<circle cx="394.0" cy="112.1" r="0.43" fill="#555"/>
<circle cx="379.6" cy="85.1" r="0.50" fill="#4a4a4a"/>
<circle cx="389.4" cy="106.4" r="0.52" fill="#555"/>
<circle cx="390.9" cy="85.5" r="0.88" fill="#4a4a4a"/>
<circle cx="401.9" cy="73.3" r="0.72" fill="#777"/>
<circle cx="385.5" cy="100.0" r="1.03" fill="#4a4a4a"/>
<circle cx="401.4" cy="100.6" r="0.51" fill="#4a4a4a"/>
<circle cx="403.0" cy="116.4" r="0.61" fill="#4a4a4a"/>
<circle cx="393.9" cy="89.3" r="0.61" fill="#4a4a4a"/>
<circle cx="399.7" cy="71.4" r="0.67" fill="#777"/>
<circle cx="389.7" cy="116.6" r="0.61" fill="#4a4a4a"/>
<circle cx="378.9" cy="94.9" r="0.88" fill="#555"/>
<circle cx="401.8" cy="104.0" r="0.98" fill="#777"/>
<circle cx="396.9" cy="77.7" r="0.96" fill="#666"/>
<circle cx="391.9" cy="97.7" r="0.87" fill="#666"/>
<circle cx="391.6" cy="112.1" r="0.85" fill="#777"/>
<circle cx="397.4" cy="67.7" r="0.66" fill="#666"/>
<circle cx="372.2" cy="81.1" r="0.92" fill="#666"/>
<circle cx="376.2" cy="106.1" r="1.01" fill="#777"/>
<circle cx="388.1" cy="112.6" r="0.98" fill="#777"/>
<circle cx="401.9" cy="114.2" r="1.08" fill="#777"/>
<circle cx="395.9" cy="83.3" r="0.48" fill="#555"/>
<circle cx="374.1" cy="115.3" r="1.00" fill="#4a4a4a"/>
<circle cx="403.8" cy="107.0" r="0.66" fill="#4a4a4a"/>
<circle cx="369.5" cy="93.4" r="0.72" fill="#777"/>
<circle cx="390.0" cy="107.9" r="1.06" fill="#555"/>
<circle cx="393.3" cy="90.0" r="0.83" fill="#777"/>
<circle cx="401.9" cy="77.3" r="0.44" fill="#4a4a4a"/>
<circle cx="401.7" cy="81.4" r="0.69" fill="#666"/>
<circle cx="370.6" cy="67.9" r="1.10" fill="#555"/>
<circle cx="372.5" cy="111.3" r="0.49" fill="#4a4a4a"/>
<circle cx="382.4" cy="114.4" r="0.89" fill="#4a4a4a"/>
<circle cx="390.1" cy="103.1" r="1.02" fill="#555"/>
<circle cx="399.0" cy="97.4" r="1.06" fill="#777"/>
<circle cx="370.2" cy="84.9" r="0.71" fill="#666"/>
<circle cx="399.8" cy="71.1" r="0.88" fill="#777"/>
<circle cx="371.2" cy="80.1" r="1.08" fill="#4a4a4a"/>
<circle cx="372.3" cy="76.8" r="0.85" fill="#555"/>
<circle cx="370.8" cy="83.0" r="1.09" fill="#666"/>
<circle cx="371.5" cy="105.0" r="0.55" fill="#666"/>
</g>
<circle cx="390.5" cy="91.5" r="2.4" fill="#333"/><circle cx="390" cy="106.5" r="3" fill="#2e2e2e"/>
<g opacity="0.6">
<circle cx="417.0" cy="75.5" r="0.96" fill="#3a3a3a"/>
<circle cx="416.6" cy="87.1" r="0.67" fill="#3a3a3a"/>
<circle cx="419.7" cy="99.6" r="0.82" fill="#3a3a3a"/>
<circle cx="416.8" cy="71.5" r="1.02" fill="#3a3a3a"/>
<circle cx="406.1" cy="79.5" r="0.97" fill="#3a3a3a"/>
<circle cx="413.4" cy="68.5" r="0.66" fill="#3a3a3a"/>
<circle cx="406.0" cy="81.5" r="0.57" fill="#3a3a3a"/>
<circle cx="405.0" cy="82.3" r="0.72" fill="#3a3a3a"/>
<circle cx="413.5" cy="82.5" r="0.63" fill="#3a3a3a"/>
<circle cx="413.8" cy="91.3" r="1.05" fill="#3a3a3a"/>
<circle cx="414.5" cy="77.7" r="0.89" fill="#3a3a3a"/>
<circle cx="404.5" cy="100.0" r="1.01" fill="#3a3a3a"/>
<circle cx="410.8" cy="71.5" r="0.93" fill="#3a3a3a"/>
<circle cx="411.1" cy="96.8" r="0.69" fill="#3a3a3a"/>
<circle cx="406.4" cy="72.0" r="0.87" fill="#3a3a3a"/>
<circle cx="413.4" cy="90.8" r="0.73" fill="#3a3a3a"/>
<circle cx="413.6" cy="77.4" r="0.80" fill="#3a3a3a"/>
<circle cx="410.9" cy="93.4" r="0.57" fill="#3a3a3a"/>
<circle cx="414.5" cy="96.1" r="0.83" fill="#3a3a3a"/>
<circle cx="417.8" cy="81.8" r="1.03" fill="#3a3a3a"/>
<circle cx="410.6" cy="94.5" r="0.74" fill="#3a3a3a"/>
<circle cx="415.7" cy="78.0" r="0.69" fill="#3a3a3a"/>
<circle cx="408.1" cy="98.5" r="0.91" fill="#3a3a3a"/>
<circle cx="411.6" cy="70.9" r="0.55" fill="#3a3a3a"/>
<circle cx="410.9" cy="91.8" r="0.72" fill="#3a3a3a"/>
</g>
<circle cx="412" cy="104" r="2.5" fill="#a9a9a9" stroke="#777" stroke-width="0.5"/><circle cx="416" cy="111" r="2.2" fill="#a9a9a9" stroke="#777" stroke-width="0.5"/>
</g>
<g transform="translate(416.3 65) rotate(22)"><path d="M0,0 L-3.5,-5.0 L-1.25,-4.5 L-1.25,-11.2 L1.25,-11.2 L1.25,-4.5 L3.5,-5.0 Z" fill="#d41433"/></g>
</g>
<g clip-path="url(#c4)"><g filter="url(#emtex)">
<rect x="433.20" y="46.00" width="74.30" height="76.80" fill="#dcdcdc" stroke="none" stroke-width="1"/>
<path d="M434,46 L457,46 C455,51 448,55 440,55.5 L434,55.5 Z" fill="#7b7b7b"/>
<path d="M446,62 C452,53 466,50 478,51 C494,52 503,64 504,82 C505,100 499,115 483,120 C467,124 451,119 444,108 C440,100 440,92 441,86 C442,76 443,68 446,62 Z" fill="#8c8c8c" stroke="#6a6a6a" stroke-width="0.7"/>
<path d="M466,63 C469,57 482,55 491,59 C499,65 502,84 499,99 C497,108 486,112 475,109 C468,106 466,100 467,93 C468,87 463,81 463,75 C463,70 464,66 466,63 Z" fill="#8f8f8f" stroke="#262626" stroke-width="1.0"/>
<clipPath id="nc4"><path d="M466,63 C469,57 482,55 491,59 C499,65 502,84 499,99 C497,108 486,112 475,109 C468,106 466,100 467,93 C468,87 463,81 463,75 C463,70 464,66 466,63 Z"/></clipPath><g clip-path="url(#nc4)" opacity="0.55">
<circle cx="467.1" cy="58.4" r="1.07" fill="#777"/>
<circle cx="488.1" cy="78.4" r="1.01" fill="#4a4a4a"/>
<circle cx="495.9" cy="96.1" r="1.08" fill="#777"/>
<circle cx="475.7" cy="87.9" r="0.55" fill="#4a4a4a"/>
<circle cx="470.7" cy="61.2" r="0.99" fill="#777"/>
<circle cx="466.5" cy="70.9" r="0.56" fill="#4a4a4a"/>
<circle cx="495.0" cy="110.5" r="0.97" fill="#555"/>
<circle cx="485.8" cy="92.5" r="0.89" fill="#555"/>
<circle cx="469.0" cy="95.1" r="0.62" fill="#777"/>
<circle cx="475.7" cy="65.3" r="0.50" fill="#4a4a4a"/>
<circle cx="464.7" cy="97.2" r="1.08" fill="#555"/>
<circle cx="491.1" cy="67.3" r="0.69" fill="#777"/>
<circle cx="468.1" cy="72.8" r="0.63" fill="#555"/>
<circle cx="496.5" cy="63.9" r="0.93" fill="#555"/>
<circle cx="488.3" cy="70.5" r="0.86" fill="#4a4a4a"/>
<circle cx="485.7" cy="78.6" r="0.55" fill="#555"/>
<circle cx="475.5" cy="61.3" r="0.87" fill="#4a4a4a"/>
<circle cx="482.6" cy="72.6" r="0.55" fill="#555"/>
<circle cx="462.3" cy="72.2" r="0.55" fill="#666"/>
<circle cx="491.8" cy="71.5" r="0.48" fill="#4a4a4a"/>
<circle cx="491.1" cy="65.0" r="0.67" fill="#666"/>
<circle cx="481.5" cy="102.5" r="0.96" fill="#555"/>
<circle cx="477.5" cy="97.3" r="0.71" fill="#4a4a4a"/>
<circle cx="497.9" cy="104.1" r="0.80" fill="#4a4a4a"/>
<circle cx="489.7" cy="78.8" r="0.48" fill="#555"/>
<circle cx="499.7" cy="64.8" r="1.06" fill="#4a4a4a"/>
<circle cx="494.4" cy="107.4" r="0.46" fill="#555"/>
<circle cx="471.5" cy="88.6" r="0.77" fill="#4a4a4a"/>
<circle cx="496.0" cy="97.5" r="0.56" fill="#666"/>
<circle cx="465.0" cy="91.1" r="0.77" fill="#666"/>
<circle cx="497.3" cy="74.9" r="0.91" fill="#666"/>
<circle cx="471.2" cy="63.3" r="0.54" fill="#666"/>
<circle cx="491.6" cy="92.4" r="0.52" fill="#4a4a4a"/>
<circle cx="480.1" cy="87.1" r="0.81" fill="#777"/>
<circle cx="495.7" cy="90.8" r="0.51" fill="#555"/>
<circle cx="480.3" cy="91.0" r="0.96" fill="#555"/>
<circle cx="475.7" cy="59.2" r="0.72" fill="#555"/>
<circle cx="464.2" cy="102.4" r="0.45" fill="#555"/>
<circle cx="486.0" cy="83.9" r="0.72" fill="#555"/>
<circle cx="479.5" cy="101.2" r="0.86" fill="#777"/>
<circle cx="485.6" cy="83.6" r="1.07" fill="#4a4a4a"/>
<circle cx="466.0" cy="106.3" r="0.64" fill="#555"/>
<circle cx="481.7" cy="64.8" r="0.57" fill="#4a4a4a"/>
<circle cx="500.6" cy="84.9" r="0.83" fill="#777"/>
<circle cx="476.5" cy="71.1" r="0.69" fill="#777"/>
<circle cx="488.5" cy="58.0" r="0.84" fill="#777"/>
<circle cx="464.6" cy="60.4" r="0.87" fill="#777"/>
<circle cx="471.8" cy="103.5" r="1.08" fill="#666"/>
<circle cx="475.0" cy="88.2" r="0.50" fill="#777"/>
<circle cx="474.1" cy="92.4" r="0.86" fill="#666"/>
<circle cx="485.2" cy="108.5" r="0.62" fill="#4a4a4a"/>
<circle cx="487.1" cy="73.7" r="0.49" fill="#555"/>
<circle cx="487.2" cy="79.1" r="0.65" fill="#777"/>
<circle cx="474.0" cy="109.2" r="0.64" fill="#4a4a4a"/>
<circle cx="469.5" cy="112.0" r="0.51" fill="#777"/>
<circle cx="494.9" cy="60.8" r="0.94" fill="#555"/>
<circle cx="487.8" cy="105.0" r="0.83" fill="#4a4a4a"/>
<circle cx="468.0" cy="65.3" r="0.88" fill="#666"/>
<circle cx="490.1" cy="57.5" r="0.66" fill="#666"/>
<circle cx="499.8" cy="89.8" r="0.93" fill="#4a4a4a"/>
<circle cx="471.1" cy="68.6" r="1.08" fill="#4a4a4a"/>
<circle cx="497.3" cy="66.1" r="0.87" fill="#4a4a4a"/>
<circle cx="480.0" cy="71.1" r="0.67" fill="#4a4a4a"/>
<circle cx="499.7" cy="101.6" r="0.96" fill="#666"/>
<circle cx="496.0" cy="58.0" r="0.74" fill="#777"/>
<circle cx="483.6" cy="60.8" r="0.99" fill="#555"/>
<circle cx="473.1" cy="98.5" r="0.59" fill="#666"/>
<circle cx="494.4" cy="60.2" r="1.04" fill="#4a4a4a"/>
<circle cx="496.5" cy="108.0" r="0.69" fill="#4a4a4a"/>
<circle cx="481.6" cy="68.4" r="1.10" fill="#777"/>
<circle cx="470.8" cy="73.2" r="0.47" fill="#777"/>
<circle cx="492.9" cy="62.8" r="0.60" fill="#4a4a4a"/>
<circle cx="489.1" cy="62.9" r="0.89" fill="#4a4a4a"/>
<circle cx="486.0" cy="106.6" r="0.41" fill="#666"/>
<circle cx="494.6" cy="86.3" r="0.91" fill="#4a4a4a"/>
<circle cx="466.3" cy="71.4" r="0.61" fill="#555"/>
<circle cx="471.3" cy="91.4" r="0.84" fill="#555"/>
<circle cx="466.3" cy="106.6" r="0.82" fill="#555"/>
<circle cx="486.6" cy="87.8" r="0.90" fill="#777"/>
<circle cx="478.7" cy="90.0" r="0.57" fill="#4a4a4a"/>
</g>
<ellipse cx="484" cy="70.5" rx="5.2" ry="5" fill="#3c3c3c"/><ellipse cx="478" cy="92" rx="4.6" ry="5.3" fill="#515151"/>
<g opacity="0.6">
<circle cx="448.7" cy="90.7" r="0.71" fill="#555"/>
<circle cx="452.2" cy="103.0" r="0.73" fill="#555"/>
<circle cx="460.7" cy="83.8" r="0.41" fill="#555"/>
<circle cx="462.5" cy="63.9" r="0.63" fill="#555"/>
<circle cx="452.5" cy="94.1" r="0.61" fill="#555"/>
<circle cx="446.4" cy="72.4" r="0.79" fill="#555"/>
<circle cx="447.1" cy="87.0" r="0.85" fill="#555"/>
<circle cx="447.7" cy="77.1" r="0.60" fill="#555"/>
<circle cx="457.9" cy="97.7" r="0.81" fill="#555"/>
<circle cx="464.6" cy="82.6" r="0.51" fill="#555"/>
<circle cx="447.7" cy="92.8" r="0.97" fill="#555"/>
<circle cx="445.7" cy="70.7" r="0.87" fill="#555"/>
<circle cx="462.7" cy="75.6" r="0.59" fill="#555"/>
<circle cx="453.0" cy="97.1" r="0.68" fill="#555"/>
<circle cx="445.7" cy="89.8" r="0.57" fill="#555"/>
<circle cx="462.2" cy="64.1" r="0.79" fill="#555"/>
<circle cx="450.5" cy="96.4" r="0.66" fill="#555"/>
<circle cx="453.0" cy="80.9" r="0.97" fill="#555"/>
<circle cx="451.8" cy="70.0" r="0.82" fill="#555"/>
<circle cx="452.3" cy="96.3" r="0.56" fill="#555"/>
<circle cx="446.7" cy="80.3" r="0.66" fill="#555"/>
<circle cx="464.9" cy="69.8" r="0.58" fill="#555"/>
<circle cx="447.1" cy="76.1" r="0.58" fill="#555"/>
<circle cx="453.9" cy="92.9" r="0.50" fill="#555"/>
<circle cx="453.9" cy="81.2" r="0.84" fill="#555"/>
<circle cx="463.2" cy="88.4" r="0.66" fill="#555"/>
<circle cx="457.8" cy="96.0" r="0.43" fill="#555"/>
<circle cx="458.4" cy="79.5" r="0.71" fill="#555"/>
<circle cx="460.0" cy="68.9" r="0.42" fill="#555"/>
<circle cx="462.0" cy="91.2" r="0.66" fill="#555"/>
</g>
<circle cx="450" cy="73" r="1" fill="#222"/>
<path d="M434,110 C439,110 444,115 445,123 L434,123 Z" fill="#6b6b6b"/>
</g>
<g transform="translate(445.2 73) rotate(23)"><path d="M0,0 L-3.5,-5.0 L-1.25,-4.5 L-1.25,-11.2 L1.25,-11.2 L1.25,-4.5 L3.5,-5.0 Z" fill="#d41433"/></g>
</g>
<g clip-path="url(#c5)"><g filter="url(#emtex)">
<rect x="218.00" y="138.00" width="74.50" height="75.60" fill="#d5d5d5" stroke="none" stroke-width="1"/>
<path d="M223,166 C225,151 237,143 252,142 C268,141 283,148 288,164 C292,180 288,197 274,206 C260,213 238,210 228,199 C221,190 221,177 223,166 Z" fill="#afafaf" stroke="#8e8e8e" stroke-width="0.7"/>
<path d="M243,157 C248,149 262,147 272,151 C279,157 280,168 279,180 C278,190 270,196 258,195 C248,194 243,188 245,180 C246,174 240,167 243,157 Z" fill="#a5a5a5" stroke="#555" stroke-width="0.8"/>
<clipPath id="nc5"><path d="M243,157 C248,149 262,147 272,151 C279,157 280,168 279,180 C278,190 270,196 258,195 C248,194 243,188 245,180 C246,174 240,167 243,157 Z"/></clipPath><g clip-path="url(#nc5)" opacity="0.55">
<circle cx="245.2" cy="158.6" r="0.85" fill="#8e8e8e"/>
<circle cx="255.7" cy="174.8" r="0.82" fill="#7a7a7a"/>
<circle cx="258.4" cy="165.2" r="0.71" fill="#888"/>
<circle cx="263.5" cy="172.9" r="0.68" fill="#7a7a7a"/>
<circle cx="251.4" cy="194.1" r="0.42" fill="#888"/>
<circle cx="260.5" cy="166.0" r="0.79" fill="#8e8e8e"/>
<circle cx="271.8" cy="181.5" r="0.55" fill="#7a7a7a"/>
<circle cx="251.7" cy="191.9" r="0.74" fill="#888"/>
<circle cx="245.6" cy="150.6" r="0.52" fill="#7a7a7a"/>
<circle cx="258.2" cy="151.3" r="0.88" fill="#8e8e8e"/>
<circle cx="267.4" cy="181.8" r="0.78" fill="#8e8e8e"/>
<circle cx="276.5" cy="188.7" r="0.90" fill="#7a7a7a"/>
<circle cx="266.1" cy="185.9" r="0.76" fill="#888"/>
<circle cx="280.4" cy="185.8" r="0.57" fill="#8e8e8e"/>
<circle cx="241.1" cy="174.1" r="0.66" fill="#7a7a7a"/>
<circle cx="245.3" cy="190.3" r="0.45" fill="#8e8e8e"/>
<circle cx="281.0" cy="182.2" r="0.77" fill="#8e8e8e"/>
<circle cx="273.8" cy="150.6" r="1.08" fill="#7a7a7a"/>
<circle cx="243.0" cy="169.8" r="0.76" fill="#888"/>
<circle cx="276.0" cy="185.2" r="0.85" fill="#888"/>
<circle cx="271.5" cy="153.3" r="0.75" fill="#888"/>
<circle cx="274.1" cy="172.4" r="0.61" fill="#888"/>
<circle cx="253.2" cy="181.8" r="0.64" fill="#7a7a7a"/>
<circle cx="276.7" cy="188.5" r="0.58" fill="#7a7a7a"/>
<circle cx="279.2" cy="160.4" r="0.84" fill="#7a7a7a"/>
<circle cx="261.9" cy="171.6" r="0.52" fill="#7a7a7a"/>
<circle cx="246.3" cy="179.3" r="0.90" fill="#7a7a7a"/>
<circle cx="253.8" cy="192.3" r="0.43" fill="#888"/>
<circle cx="243.3" cy="193.5" r="0.94" fill="#8e8e8e"/>
<circle cx="266.7" cy="184.6" r="0.69" fill="#7a7a7a"/>
<circle cx="241.2" cy="190.6" r="0.78" fill="#7a7a7a"/>
<circle cx="279.2" cy="170.7" r="0.96" fill="#7a7a7a"/>
<circle cx="256.6" cy="169.2" r="0.88" fill="#888"/>
<circle cx="258.0" cy="170.7" r="0.54" fill="#7a7a7a"/>
<circle cx="245.9" cy="189.2" r="0.62" fill="#8e8e8e"/>
<circle cx="280.0" cy="153.4" r="0.66" fill="#7a7a7a"/>
<circle cx="244.4" cy="158.8" r="0.49" fill="#8e8e8e"/>
<circle cx="250.2" cy="151.7" r="0.60" fill="#8e8e8e"/>
<circle cx="275.4" cy="167.5" r="1.07" fill="#888"/>
<circle cx="273.4" cy="192.8" r="0.90" fill="#888"/>
<circle cx="271.3" cy="171.4" r="0.76" fill="#8e8e8e"/>
<circle cx="276.0" cy="171.4" r="0.46" fill="#8e8e8e"/>
<circle cx="260.7" cy="194.4" r="0.55" fill="#8e8e8e"/>
<circle cx="242.0" cy="160.8" r="0.82" fill="#7a7a7a"/>
<circle cx="267.6" cy="161.0" r="0.41" fill="#888"/>
<circle cx="257.7" cy="190.2" r="0.91" fill="#8e8e8e"/>
<circle cx="255.0" cy="166.6" r="0.80" fill="#888"/>
<circle cx="254.9" cy="161.1" r="0.67" fill="#8e8e8e"/>
<circle cx="271.3" cy="160.7" r="1.09" fill="#7a7a7a"/>
<circle cx="265.1" cy="153.3" r="0.47" fill="#8e8e8e"/>
</g>
<path d="M259,166 C261,160 271,160 274,166 C276,172 273,180 267,180 C261,180 257,173 259,166 Z" fill="#666"/>
<ellipse cx="228" cy="173" rx="2.5" ry="2.5" fill="#8a8a8a"/><ellipse cx="236" cy="185" rx="3" ry="4" fill="#a0a0a0" stroke="#888" stroke-width="0.6"/>
<path d="M221,209 L226,209" stroke="#444" stroke-width="0.8"/>
</g>
<g transform="translate(281 167.7) rotate(23)"><path d="M0,0 L-3.5,-5.0 L-1.25,-4.5 L-1.25,-11.2 L1.25,-11.2 L1.25,-4.5 L3.5,-5.0 Z" fill="#d41433"/></g>
</g>
<g clip-path="url(#c6)"><g filter="url(#emtex)">
<rect x="290.50" y="138.00" width="74.80" height="75.60" fill="#919191" stroke="none" stroke-width="1"/>
<path d="M291,139 L306,139 C304,146 302,152 300,158 C297,162 293,163 291,163 Z" fill="#c9c9c9"/>
<path d="M326,139 L356,139 C356,144 353,150 348,152 C343,153 336,151 331,148 C328,146 326,142 326,139 Z" fill="#d6d6d6"/>
<path d="M347,151 C350,151 354,155 355,160 C355,163 352,164 349,162 C347,159 346,155 347,151 Z" fill="#d0d0d0"/>
<path d="M351,167 C356,166 362,169 365,172 L365,179 C360,180 354,176 351,167 Z" fill="#d0d0d0"/>
<path d="M303,213 C303,203 306,193 312,188 C320,184 332,185 338,190 C342,195 342,205 341,213 Z" fill="#d2d2d2"/>
<path d="M312,213 C313,204 320,197 328,197 C335,197 339,204 339,213 Z" fill="#8e8e8e" stroke="#666" stroke-width="0.6"/>
<path d="M318,213 C319,207 324,204 329,205 C334,206 335,210 335,213 Z" fill="#555"/>
<path d="M300,150 C305,142 318,139 330,141 C342,144 346,156 345,168 C344,180 338,190 326,192 C312,194 302,188 299,176 C297,166 297,157 300,150 Z" fill="#979797" stroke="#707070" stroke-width="0.6"/>
<path d="M305,156 C307,148 317,145 326,147 C334,149 337,154 335,158 C330,160 324,162 322,166 C324,170 331,170 337,171 C339,178 334,185 325,187 C314,189 306,183 304,173 C303,167 303,161 305,156 Z" fill="#7e7e7e" stroke="#2e2e2e" stroke-width="0.9"/>
<clipPath id="nc6"><path d="M305,156 C307,148 317,145 326,147 C334,149 337,154 335,158 C330,160 324,162 322,166 C324,170 331,170 337,171 C339,178 334,185 325,187 C314,189 306,183 304,173 C303,167 303,161 305,156 Z"/></clipPath><g clip-path="url(#nc6)" opacity="0.55">
<circle cx="331.6" cy="159.9" r="1.06" fill="#666"/>
<circle cx="310.2" cy="167.4" r="0.75" fill="#555"/>
<circle cx="304.4" cy="176.4" r="0.96" fill="#4a4a4a"/>
<circle cx="308.4" cy="184.3" r="0.50" fill="#777"/>
<circle cx="308.9" cy="188.6" r="0.92" fill="#777"/>
<circle cx="324.4" cy="167.3" r="0.76" fill="#4a4a4a"/>
<circle cx="328.5" cy="158.2" r="0.97" fill="#777"/>
<circle cx="314.9" cy="149.8" r="0.69" fill="#777"/>
<circle cx="331.7" cy="176.9" r="0.88" fill="#555"/>
<circle cx="324.5" cy="156.7" r="0.86" fill="#666"/>
<circle cx="329.0" cy="170.7" r="0.52" fill="#4a4a4a"/>
<circle cx="308.3" cy="175.0" r="0.42" fill="#555"/>
<circle cx="309.9" cy="164.4" r="0.69" fill="#4a4a4a"/>
<circle cx="327.9" cy="163.1" r="0.94" fill="#4a4a4a"/>
<circle cx="334.4" cy="177.4" r="0.44" fill="#666"/>
<circle cx="321.7" cy="169.7" r="1.10" fill="#4a4a4a"/>
<circle cx="321.9" cy="158.8" r="0.52" fill="#777"/>
<circle cx="322.7" cy="174.7" r="1.01" fill="#777"/>
<circle cx="325.0" cy="153.5" r="0.57" fill="#777"/>
<circle cx="311.1" cy="187.8" r="0.61" fill="#777"/>
<circle cx="328.4" cy="175.4" r="0.74" fill="#4a4a4a"/>
<circle cx="315.6" cy="186.1" r="0.96" fill="#777"/>
<circle cx="313.4" cy="170.2" r="0.78" fill="#4a4a4a"/>
<circle cx="332.5" cy="187.0" r="0.96" fill="#777"/>
<circle cx="304.5" cy="187.0" r="0.46" fill="#4a4a4a"/>
<circle cx="326.6" cy="177.9" r="0.55" fill="#777"/>
<circle cx="336.6" cy="175.6" r="0.50" fill="#666"/>
<circle cx="311.7" cy="174.5" r="0.77" fill="#666"/>
<circle cx="304.9" cy="163.2" r="0.90" fill="#555"/>
<circle cx="327.5" cy="151.0" r="1.08" fill="#666"/>
<circle cx="317.6" cy="186.1" r="1.01" fill="#4a4a4a"/>
<circle cx="326.4" cy="178.3" r="0.60" fill="#777"/>
<circle cx="326.3" cy="184.9" r="0.46" fill="#666"/>
<circle cx="322.3" cy="176.8" r="1.06" fill="#666"/>
<circle cx="318.0" cy="181.9" r="1.05" fill="#555"/>
<circle cx="338.9" cy="162.5" r="0.75" fill="#777"/>
<circle cx="334.6" cy="145.4" r="0.80" fill="#555"/>
<circle cx="336.4" cy="159.7" r="0.72" fill="#4a4a4a"/>
<circle cx="335.0" cy="150.9" r="0.75" fill="#777"/>
<circle cx="309.9" cy="150.0" r="0.51" fill="#4a4a4a"/>
<circle cx="326.3" cy="176.6" r="0.41" fill="#777"/>
<circle cx="331.5" cy="170.0" r="0.93" fill="#666"/>
<circle cx="325.0" cy="173.1" r="0.68" fill="#4a4a4a"/>
<circle cx="321.6" cy="148.8" r="0.87" fill="#666"/>
<circle cx="338.3" cy="166.0" r="1.06" fill="#555"/>
<circle cx="312.4" cy="155.4" r="0.93" fill="#777"/>
<circle cx="313.9" cy="176.8" r="0.41" fill="#777"/>
<circle cx="327.9" cy="147.7" r="0.48" fill="#777"/>
<circle cx="308.7" cy="175.2" r="1.05" fill="#777"/>
<circle cx="327.9" cy="173.1" r="1.06" fill="#777"/>
<circle cx="325.1" cy="154.6" r="0.49" fill="#666"/>
<circle cx="319.4" cy="188.5" r="0.66" fill="#4a4a4a"/>
<circle cx="330.3" cy="180.3" r="0.98" fill="#666"/>
<circle cx="327.5" cy="171.2" r="0.95" fill="#4a4a4a"/>
<circle cx="322.0" cy="160.9" r="1.04" fill="#555"/>
<circle cx="305.2" cy="169.1" r="0.75" fill="#666"/>
<circle cx="308.9" cy="182.6" r="0.71" fill="#666"/>
<circle cx="328.8" cy="166.5" r="1.03" fill="#4a4a4a"/>
<circle cx="332.1" cy="165.0" r="0.76" fill="#4a4a4a"/>
<circle cx="323.3" cy="169.6" r="0.87" fill="#777"/>
<circle cx="329.0" cy="162.4" r="0.97" fill="#666"/>
<circle cx="323.8" cy="147.0" r="0.64" fill="#555"/>
<circle cx="322.5" cy="147.7" r="1.03" fill="#4a4a4a"/>
<circle cx="304.1" cy="163.0" r="0.94" fill="#4a4a4a"/>
<circle cx="316.5" cy="184.2" r="0.71" fill="#4a4a4a"/>
<circle cx="316.5" cy="175.0" r="0.86" fill="#666"/>
<circle cx="326.5" cy="160.3" r="0.52" fill="#4a4a4a"/>
<circle cx="322.0" cy="177.0" r="0.56" fill="#555"/>
<circle cx="330.2" cy="188.1" r="0.72" fill="#4a4a4a"/>
<circle cx="322.1" cy="181.2" r="0.57" fill="#777"/>
</g>
<path d="M358,139 L365,139 L365,168 C361,166 358,160 357,152 C357,146 357,142 358,139 Z" fill="#8a8a8a" stroke="#333" stroke-width="0.8"/>
<ellipse cx="353" cy="196" rx="12" ry="9.5" fill="#737373" stroke="#333" stroke-width="0.9"/>
<clipPath id="nc7"><path d="M341,196 A12,9.5 0 1 0 365,196 A12,9.5 0 1 0 341,196 Z"/></clipPath><g clip-path="url(#nc7)" opacity="0.55">
<circle cx="344.7" cy="189.8" r="1.01" fill="#555"/>
<circle cx="341.8" cy="199.2" r="0.83" fill="#555"/>
<circle cx="346.8" cy="187.3" r="0.82" fill="#4a4a4a"/>
<circle cx="355.3" cy="200.1" r="0.43" fill="#555"/>
<circle cx="350.7" cy="190.7" r="0.55" fill="#555"/>
<circle cx="344.4" cy="205.9" r="0.56" fill="#777"/>
<circle cx="354.9" cy="201.5" r="0.97" fill="#666"/>
<circle cx="348.2" cy="188.9" r="0.86" fill="#666"/>
<circle cx="350.9" cy="191.5" r="0.79" fill="#666"/>
<circle cx="356.0" cy="194.5" r="0.75" fill="#777"/>
<circle cx="363.6" cy="199.4" r="0.95" fill="#777"/>
<circle cx="357.7" cy="194.2" r="0.61" fill="#666"/>
<circle cx="359.1" cy="195.5" r="0.99" fill="#777"/>
<circle cx="361.6" cy="188.9" r="0.72" fill="#555"/>
<circle cx="354.5" cy="205.4" r="0.79" fill="#666"/>
<circle cx="350.3" cy="191.1" r="0.63" fill="#555"/>
<circle cx="363.1" cy="202.9" r="0.46" fill="#666"/>
<circle cx="342.2" cy="193.5" r="0.82" fill="#555"/>
<circle cx="362.0" cy="189.8" r="0.93" fill="#666"/>
<circle cx="352.5" cy="203.4" r="0.63" fill="#555"/>
<circle cx="346.1" cy="189.8" r="0.92" fill="#4a4a4a"/>
<circle cx="362.9" cy="199.9" r="0.89" fill="#4a4a4a"/>
<circle cx="363.0" cy="197.0" r="0.94" fill="#4a4a4a"/>
<circle cx="352.2" cy="199.0" r="0.62" fill="#777"/>
<circle cx="353.3" cy="195.9" r="0.47" fill="#4a4a4a"/>
<circle cx="359.3" cy="192.4" r="0.54" fill="#777"/>
<circle cx="350.9" cy="197.3" r="0.55" fill="#666"/>
<circle cx="341.4" cy="197.1" r="0.81" fill="#4a4a4a"/>
<circle cx="348.1" cy="189.9" r="0.56" fill="#666"/>
<circle cx="353.0" cy="199.1" r="0.88" fill="#777"/>
<circle cx="359.3" cy="195.8" r="0.91" fill="#4a4a4a"/>
<circle cx="352.1" cy="200.7" r="0.65" fill="#666"/>
<circle cx="358.3" cy="195.8" r="1.04" fill="#555"/>
<circle cx="353.6" cy="202.8" r="0.45" fill="#555"/>
<circle cx="359.3" cy="194.2" r="0.99" fill="#666"/>
<circle cx="342.6" cy="189.0" r="0.55" fill="#4a4a4a"/>
<circle cx="350.0" cy="198.4" r="0.87" fill="#4a4a4a"/>
<circle cx="356.8" cy="186.3" r="0.77" fill="#4a4a4a"/>
<circle cx="341.3" cy="196.6" r="0.59" fill="#777"/>
<circle cx="341.4" cy="202.3" r="0.87" fill="#666"/>
</g>
<ellipse cx="298" cy="180" rx="2.6" ry="2.2" fill="#666"/><ellipse cx="297" cy="190" rx="2.5" ry="2" fill="#666"/><ellipse cx="299" cy="199" rx="2" ry="2" fill="#666"/>
</g>
<g transform="translate(331.4 148) rotate(41)"><path d="M0,0 L-3.5,-5.0 L-1.25,-4.5 L-1.25,-11.2 L1.25,-11.2 L1.25,-4.5 L3.5,-5.0 Z" fill="#d41433"/></g>
</g>
<g clip-path="url(#c7)"><g filter="url(#emtex)">
<rect x="363.30" y="138.00" width="72.70" height="75.60" fill="#d8d8d8" stroke="none" stroke-width="1"/>
<path d="M364,139 L386,139 C386,147 380,154 372,157 L364,158 Z" fill="#7d7d7d"/>
<path d="M377,158 C382,149 395,146 406,148 C419,150 428,160 430,175 C432,191 425,202 410,205 C395,207 378,205 372,195 C368,186 371,168 377,158 Z" fill="#888" stroke="#666" stroke-width="0.7"/>
<ellipse cx="392.3" cy="180.1" rx="20.8" ry="16.8" fill="#909090" stroke="#2e2e2e" stroke-width="0.9"/>
<clipPath id="nc8"><path d="M371.5,180.1 A20.8,16.8 0 1 0 413.1,180.1 A20.8,16.8 0 1 0 371.5,180.1 Z"/></clipPath><g clip-path="url(#nc8)" opacity="0.55">
<circle cx="375.6" cy="166.3" r="0.50" fill="#666"/>
<circle cx="397.7" cy="171.6" r="0.65" fill="#4a4a4a"/>
<circle cx="374.4" cy="195.6" r="0.72" fill="#666"/>
<circle cx="413.6" cy="170.7" r="0.88" fill="#555"/>
<circle cx="399.1" cy="192.2" r="0.93" fill="#555"/>
<circle cx="388.4" cy="175.8" r="0.73" fill="#555"/>
<circle cx="401.2" cy="165.8" r="0.99" fill="#777"/>
<circle cx="395.3" cy="192.2" r="0.47" fill="#555"/>
<circle cx="380.9" cy="193.6" r="0.88" fill="#4a4a4a"/>
<circle cx="382.7" cy="194.4" r="0.88" fill="#777"/>
<circle cx="409.7" cy="182.2" r="0.42" fill="#777"/>
<circle cx="371.7" cy="170.0" r="0.50" fill="#4a4a4a"/>
<circle cx="410.9" cy="173.2" r="0.79" fill="#4a4a4a"/>
<circle cx="400.1" cy="181.4" r="0.67" fill="#666"/>
<circle cx="405.0" cy="186.4" r="0.45" fill="#777"/>
<circle cx="373.3" cy="177.9" r="0.99" fill="#777"/>
<circle cx="397.0" cy="183.9" r="0.82" fill="#777"/>
<circle cx="372.3" cy="172.3" r="1.09" fill="#4a4a4a"/>
<circle cx="380.8" cy="181.8" r="0.66" fill="#666"/>
<circle cx="400.2" cy="185.5" r="0.46" fill="#777"/>
<circle cx="405.3" cy="187.2" r="0.46" fill="#666"/>
<circle cx="387.3" cy="189.7" r="0.51" fill="#4a4a4a"/>
<circle cx="384.6" cy="166.6" r="0.40" fill="#777"/>
<circle cx="390.1" cy="188.9" r="0.47" fill="#555"/>
<circle cx="379.1" cy="178.3" r="0.79" fill="#4a4a4a"/>
<circle cx="375.4" cy="166.0" r="0.79" fill="#777"/>
<circle cx="408.1" cy="163.4" r="0.69" fill="#555"/>
<circle cx="402.2" cy="182.0" r="1.09" fill="#666"/>
<circle cx="395.6" cy="168.8" r="0.67" fill="#666"/>
<circle cx="382.6" cy="172.1" r="0.50" fill="#666"/>
<circle cx="389.7" cy="177.3" r="0.74" fill="#555"/>
<circle cx="386.5" cy="195.1" r="0.90" fill="#4a4a4a"/>
<circle cx="396.5" cy="169.6" r="0.47" fill="#777"/>
<circle cx="371.3" cy="176.5" r="0.99" fill="#4a4a4a"/>
<circle cx="405.6" cy="174.2" r="0.63" fill="#666"/>
<circle cx="383.9" cy="183.5" r="0.89" fill="#4a4a4a"/>
<circle cx="384.5" cy="195.8" r="1.08" fill="#777"/>
<circle cx="402.6" cy="184.5" r="1.08" fill="#666"/>
<circle cx="385.0" cy="172.5" r="0.95" fill="#777"/>
<circle cx="375.9" cy="182.2" r="0.81" fill="#666"/>
<circle cx="400.3" cy="181.7" r="1.07" fill="#4a4a4a"/>
<circle cx="411.5" cy="170.1" r="0.96" fill="#555"/>
<circle cx="406.2" cy="190.1" r="0.69" fill="#4a4a4a"/>
<circle cx="377.0" cy="173.3" r="0.58" fill="#666"/>
<circle cx="401.8" cy="189.8" r="0.45" fill="#4a4a4a"/>
<circle cx="396.0" cy="181.2" r="1.05" fill="#4a4a4a"/>
<circle cx="394.4" cy="189.9" r="0.65" fill="#555"/>
<circle cx="375.7" cy="171.4" r="0.87" fill="#666"/>
<circle cx="398.8" cy="164.5" r="1.09" fill="#4a4a4a"/>
<circle cx="412.6" cy="174.3" r="0.96" fill="#555"/>
<circle cx="371.5" cy="171.8" r="0.76" fill="#666"/>
<circle cx="390.2" cy="176.3" r="0.94" fill="#666"/>
<circle cx="385.8" cy="163.8" r="0.47" fill="#4a4a4a"/>
<circle cx="410.6" cy="165.9" r="0.98" fill="#666"/>
<circle cx="386.0" cy="174.7" r="0.95" fill="#4a4a4a"/>
<circle cx="386.0" cy="166.3" r="0.91" fill="#4a4a4a"/>
<circle cx="384.7" cy="173.2" r="0.97" fill="#555"/>
<circle cx="372.0" cy="174.7" r="0.48" fill="#666"/>
<circle cx="411.0" cy="188.2" r="0.76" fill="#666"/>
<circle cx="385.2" cy="177.5" r="0.72" fill="#4a4a4a"/>
<circle cx="398.1" cy="169.3" r="0.86" fill="#4a4a4a"/>
<circle cx="372.3" cy="183.9" r="0.54" fill="#4a4a4a"/>
<circle cx="387.7" cy="187.0" r="0.54" fill="#555"/>
<circle cx="395.8" cy="190.2" r="0.78" fill="#777"/>
<circle cx="385.0" cy="178.6" r="0.58" fill="#4a4a4a"/>
<circle cx="393.7" cy="184.7" r="0.82" fill="#4a4a4a"/>
<circle cx="396.2" cy="174.8" r="0.99" fill="#666"/>
<circle cx="406.0" cy="187.0" r="0.61" fill="#555"/>
<circle cx="399.9" cy="173.6" r="0.57" fill="#555"/>
<circle cx="378.9" cy="186.6" r="0.76" fill="#4a4a4a"/>
<circle cx="396.6" cy="182.5" r="0.70" fill="#4a4a4a"/>
<circle cx="398.3" cy="186.6" r="0.85" fill="#666"/>
<circle cx="394.9" cy="179.6" r="0.50" fill="#777"/>
<circle cx="407.2" cy="184.1" r="1.01" fill="#555"/>
<circle cx="391.8" cy="169.6" r="0.67" fill="#4a4a4a"/>
<circle cx="388.6" cy="179.7" r="0.90" fill="#4a4a4a"/>
<circle cx="392.0" cy="165.8" r="0.42" fill="#666"/>
<circle cx="383.6" cy="172.3" r="0.78" fill="#666"/>
<circle cx="404.6" cy="182.2" r="0.94" fill="#4a4a4a"/>
<circle cx="394.6" cy="166.8" r="0.48" fill="#777"/>
</g>
<path d="M380,180 C382,174 392,172 401,175 C406,177 405,185 398,187 C390,189 382,187 380,180 Z" fill="#4d4d4d"/>
<path d="M364,199 C372,199 380,204 383,213 L364,213 Z" fill="#868686"/>
<path d="M401,206 C411,204 420,207 425,213 L398,213 Z" fill="#868686"/>
<circle cx="412" cy="177" r="2.6" fill="#9c9c9c" stroke="#777" stroke-width="0.5"/><circle cx="416" cy="186" r="2.6" fill="#9c9c9c" stroke="#777" stroke-width="0.5"/><circle cx="406" cy="195" r="2.4" fill="#9c9c9c" stroke="#777" stroke-width="0.5"/>
</g>
<g transform="translate(418.3 167.7) rotate(16)"><path d="M0,0 L-3.5,-5.0 L-1.25,-4.5 L-1.25,-11.2 L1.25,-11.2 L1.25,-4.5 L3.5,-5.0 Z" fill="#d41433"/></g>
</g>
<g clip-path="url(#c8)"><g filter="url(#emtex)">
<rect x="434.00" y="138.00" width="72.90" height="75.60" fill="#d4d4d4" stroke="none" stroke-width="1"/>
<path d="M480,139 L506,139 L506,161 C498,160 488,154 480,139 Z" fill="#7d7d7d"/>
<path d="M486,186 C493,183 506,184 506,184 L506,213 L484,213 C482,204 482,192 486,186 Z" fill="#888"/>
<path d="M436,213 C438,206 448,203 462,206 C468,208 470,213 470,213 Z" fill="#8a8a8a"/>
<path d="M440,160 C444,150 456,146 468,147 C480,148 488,156 489,170 C490,184 486,196 474,203 C462,208 446,205 440,194 C436,186 437,170 440,160 Z" fill="#8b8b8b" stroke="#666" stroke-width="0.7"/>
<path d="M449.5,170.3 A18.7,20.1 0 1 0 486.9,170.3 A18.7,20.1 0 1 0 449.5,170.3 Z" fill="#727272" stroke="#222" stroke-width="1.0"/>
<clipPath id="nc9"><path d="M449.5,170.3 A18.7,20.1 0 1 0 486.9,170.3 A18.7,20.1 0 1 0 449.5,170.3 Z"/></clipPath><g clip-path="url(#nc9)" opacity="0.55">
<circle cx="469.6" cy="181.0" r="0.93" fill="#555"/>
<circle cx="469.8" cy="190.6" r="0.47" fill="#5e5e5e"/>
<circle cx="477.6" cy="162.2" r="1.10" fill="#555"/>
<circle cx="459.0" cy="185.4" r="0.46" fill="#4a4a4a"/>
<circle cx="478.5" cy="159.7" r="0.97" fill="#5e5e5e"/>
<circle cx="475.2" cy="185.3" r="0.83" fill="#555"/>
<circle cx="455.3" cy="155.7" r="0.54" fill="#4a4a4a"/>
<circle cx="479.6" cy="173.4" r="0.77" fill="#5e5e5e"/>
<circle cx="469.5" cy="163.3" r="0.89" fill="#555"/>
<circle cx="470.8" cy="189.0" r="0.76" fill="#5e5e5e"/>
<circle cx="480.0" cy="155.6" r="0.93" fill="#555"/>
<circle cx="483.9" cy="190.7" r="1.01" fill="#4a4a4a"/>
<circle cx="475.7" cy="155.4" r="0.50" fill="#555"/>
<circle cx="480.5" cy="181.2" r="0.87" fill="#555"/>
<circle cx="454.4" cy="175.9" r="0.84" fill="#555"/>
<circle cx="466.2" cy="176.0" r="1.02" fill="#4a4a4a"/>
<circle cx="464.3" cy="180.7" r="0.89" fill="#555"/>
<circle cx="466.3" cy="170.0" r="0.81" fill="#5e5e5e"/>
<circle cx="452.5" cy="189.9" r="0.84" fill="#5e5e5e"/>
<circle cx="462.6" cy="152.6" r="0.77" fill="#4a4a4a"/>
<circle cx="485.8" cy="183.8" r="0.75" fill="#555"/>
<circle cx="480.5" cy="163.8" r="0.80" fill="#5e5e5e"/>
<circle cx="481.4" cy="182.3" r="1.03" fill="#4a4a4a"/>
<circle cx="450.7" cy="175.7" r="0.99" fill="#4a4a4a"/>
<circle cx="453.7" cy="185.2" r="0.71" fill="#4a4a4a"/>
<circle cx="486.7" cy="167.5" r="1.10" fill="#4a4a4a"/>
<circle cx="482.5" cy="162.4" r="1.01" fill="#555"/>
<circle cx="452.5" cy="164.8" r="0.46" fill="#5e5e5e"/>
<circle cx="483.3" cy="156.8" r="0.68" fill="#555"/>
<circle cx="476.6" cy="181.0" r="0.70" fill="#4a4a4a"/>
<circle cx="475.7" cy="150.0" r="0.73" fill="#4a4a4a"/>
<circle cx="471.6" cy="171.3" r="0.71" fill="#4a4a4a"/>
<circle cx="475.4" cy="183.5" r="1.09" fill="#555"/>
<circle cx="475.4" cy="169.6" r="0.56" fill="#4a4a4a"/>
<circle cx="476.8" cy="154.2" r="0.62" fill="#555"/>
<circle cx="454.2" cy="181.7" r="0.93" fill="#4a4a4a"/>
<circle cx="473.4" cy="177.8" r="0.45" fill="#5e5e5e"/>
<circle cx="449.3" cy="176.7" r="0.71" fill="#5e5e5e"/>
<circle cx="457.1" cy="180.7" r="1.04" fill="#5e5e5e"/>
<circle cx="475.1" cy="185.3" r="0.46" fill="#4a4a4a"/>
<circle cx="454.3" cy="155.0" r="0.91" fill="#555"/>
<circle cx="485.6" cy="162.9" r="0.50" fill="#555"/>
<circle cx="473.5" cy="160.2" r="0.82" fill="#5e5e5e"/>
<circle cx="472.1" cy="181.9" r="0.88" fill="#5e5e5e"/>
<circle cx="482.3" cy="158.4" r="0.82" fill="#4a4a4a"/>
<circle cx="477.4" cy="162.1" r="0.44" fill="#4a4a4a"/>
<circle cx="467.8" cy="154.6" r="0.75" fill="#5e5e5e"/>
<circle cx="451.7" cy="186.4" r="0.41" fill="#555"/>
<circle cx="484.5" cy="155.4" r="1.00" fill="#5e5e5e"/>
<circle cx="465.0" cy="172.4" r="0.52" fill="#555"/>
<circle cx="485.3" cy="181.6" r="0.41" fill="#4a4a4a"/>
<circle cx="449.5" cy="158.8" r="1.05" fill="#555"/>
<circle cx="468.3" cy="175.8" r="0.75" fill="#555"/>
<circle cx="465.1" cy="166.5" r="0.85" fill="#5e5e5e"/>
<circle cx="472.4" cy="161.4" r="0.62" fill="#5e5e5e"/>
<circle cx="484.0" cy="189.9" r="0.51" fill="#555"/>
<circle cx="463.8" cy="176.0" r="0.98" fill="#5e5e5e"/>
<circle cx="473.4" cy="162.7" r="0.71" fill="#4a4a4a"/>
<circle cx="451.2" cy="153.5" r="0.70" fill="#555"/>
<circle cx="472.3" cy="152.3" r="0.87" fill="#5e5e5e"/>
<circle cx="477.1" cy="154.9" r="0.90" fill="#5e5e5e"/>
<circle cx="449.4" cy="170.4" r="0.64" fill="#5e5e5e"/>
<circle cx="478.8" cy="179.6" r="0.52" fill="#4a4a4a"/>
<circle cx="477.5" cy="185.8" r="0.91" fill="#4a4a4a"/>
<circle cx="478.3" cy="151.2" r="0.96" fill="#555"/>
<circle cx="468.9" cy="160.8" r="1.08" fill="#5e5e5e"/>
<circle cx="451.9" cy="168.7" r="0.65" fill="#555"/>
<circle cx="481.7" cy="156.8" r="0.51" fill="#4a4a4a"/>
<circle cx="483.0" cy="177.6" r="0.48" fill="#5e5e5e"/>
<circle cx="468.3" cy="151.8" r="1.00" fill="#4a4a4a"/>
<circle cx="450.7" cy="164.9" r="1.04" fill="#4a4a4a"/>
<circle cx="484.4" cy="185.2" r="0.79" fill="#5e5e5e"/>
<circle cx="477.1" cy="167.2" r="0.63" fill="#555"/>
<circle cx="483.8" cy="163.1" r="0.98" fill="#5e5e5e"/>
<circle cx="463.2" cy="170.6" r="1.03" fill="#4a4a4a"/>
<circle cx="457.5" cy="171.1" r="0.43" fill="#555"/>
<circle cx="451.6" cy="169.1" r="0.60" fill="#555"/>
<circle cx="461.4" cy="172.7" r="0.41" fill="#4a4a4a"/>
<circle cx="460.1" cy="182.2" r="0.92" fill="#4a4a4a"/>
<circle cx="466.6" cy="174.3" r="0.75" fill="#4a4a4a"/>
</g>
<path d="M455,178 C462,174 472,174 481,178 C474,182 462,183 455,178 Z" fill="#444"/>
<circle cx="452" cy="194" r="2.5" fill="#9a9a9a"/><circle cx="446" cy="186" r="2.5" fill="#999"/><circle cx="443" cy="176" r="2.2" fill="#999"/>
</g>
<g transform="translate(472.9 195.5) rotate(16)"><path d="M0,0 L-3.5,-5.0 L-1.25,-4.5 L-1.25,-11.2 L1.25,-11.2 L1.25,-4.5 L3.5,-5.0 Z" fill="#d41433"/></g>
</g>
<rect x="219.75" y="47.90" width="286.00" height="73.15" fill="none" stroke="#111" stroke-width="1.6"/>
<line x1="219.00" y1="47.90" x2="506.50" y2="47.90" stroke="#111" stroke-width="1.8"/>
<line x1="291.60" y1="47.00" x2="291.60" y2="121.80" stroke="#111" stroke-width="1.5"/>
<line x1="362.60" y1="47.00" x2="362.60" y2="121.80" stroke="#111" stroke-width="1.5"/>
<line x1="434.20" y1="47.00" x2="434.20" y2="121.80" stroke="#111" stroke-width="1.5"/>
<rect x="219.75" y="139.90" width="285.40" height="71.95" fill="none" stroke="#111" stroke-width="1.6"/>
<line x1="219.00" y1="139.90" x2="505.90" y2="139.90" stroke="#111" stroke-width="1.8"/>
<line x1="291.50" y1="139.00" x2="291.50" y2="212.60" stroke="#111" stroke-width="1.5"/>
<line x1="364.30" y1="139.00" x2="364.30" y2="212.60" stroke="#111" stroke-width="1.5"/>
<line x1="435.00" y1="139.00" x2="435.00" y2="212.60" stroke="#111" stroke-width="1.5"/>
<text x="7.2" y="243.3" font-size="11.6" font-weight="bold" fill="#000">C</text>
<line x1="45.00" y1="260.90" x2="45.00" y2="333.30" stroke="#0e0e0e" stroke-width="1.3"/>
<line x1="44.40" y1="332.70" x2="161.30" y2="332.70" stroke="#0e0e0e" stroke-width="1.3"/>
<line x1="42.00" y1="332.70" x2="45.00" y2="332.70" stroke="#0e0e0e" stroke-width="0.8"/>
<text x="41.50" y="334.70" font-size="5.7" fill="#444" stroke="#444" stroke-width="0.22" text-anchor="end" textLength="2.80" lengthAdjust="spacingAndGlyphs">0</text>
<line x1="42.00" y1="318.44" x2="45.00" y2="318.44" stroke="#0e0e0e" stroke-width="0.8"/>
<text x="41.50" y="320.44" font-size="5.7" fill="#444" stroke="#444" stroke-width="0.22" text-anchor="end" textLength="5.60" lengthAdjust="spacingAndGlyphs">50</text>
<line x1="42.00" y1="304.18" x2="45.00" y2="304.18" stroke="#0e0e0e" stroke-width="0.8"/>
<text x="41.50" y="306.18" font-size="5.7" fill="#444" stroke="#444" stroke-width="0.22" text-anchor="end" textLength="8.40" lengthAdjust="spacingAndGlyphs">100</text>
<line x1="42.00" y1="289.92" x2="45.00" y2="289.92" stroke="#0e0e0e" stroke-width="0.8"/>
<text x="41.50" y="291.92" font-size="5.7" fill="#444" stroke="#444" stroke-width="0.22" text-anchor="end" textLength="8.40" lengthAdjust="spacingAndGlyphs">150</text>
<line x1="42.00" y1="275.66" x2="45.00" y2="275.66" stroke="#0e0e0e" stroke-width="0.8"/>
<text x="41.50" y="277.66" font-size="5.7" fill="#444" stroke="#444" stroke-width="0.22" text-anchor="end" textLength="8.40" lengthAdjust="spacingAndGlyphs">200</text>
<line x1="42.00" y1="261.40" x2="45.00" y2="261.40" stroke="#0e0e0e" stroke-width="0.8"/>
<text x="41.50" y="263.40" font-size="5.7" fill="#444" stroke="#444" stroke-width="0.22" text-anchor="end" textLength="8.40" lengthAdjust="spacingAndGlyphs">250</text>
<line x1="57.10" y1="332.70" x2="57.10" y2="335.30" stroke="#0e0e0e" stroke-width="0.8"/>
<line x1="75.70" y1="332.70" x2="75.70" y2="335.30" stroke="#0e0e0e" stroke-width="0.8"/>
<line x1="94.10" y1="332.70" x2="94.10" y2="335.30" stroke="#0e0e0e" stroke-width="0.8"/>
<line x1="112.50" y1="332.70" x2="112.50" y2="335.30" stroke="#0e0e0e" stroke-width="0.8"/>
<line x1="130.80" y1="332.70" x2="130.80" y2="335.30" stroke="#0e0e0e" stroke-width="0.8"/>
<line x1="149.30" y1="332.70" x2="149.30" y2="335.30" stroke="#0e0e0e" stroke-width="0.8"/>
<text x="60.10" y="338.90" font-size="6.0" fill="#3a3a3a" stroke="#3a3a3a" stroke-width="0.22" text-anchor="end" textLength="39.00" lengthAdjust="spacingAndGlyphs" transform="rotate(-45 60.10 338.90)">D3 0.1% DMSO</text>
<text x="78.70" y="338.90" font-size="6.0" fill="#3a3a3a" stroke="#3a3a3a" stroke-width="0.22" text-anchor="end" textLength="50.00" lengthAdjust="spacingAndGlyphs" transform="rotate(-45 78.70 338.90)">D3 300nM duvelisib</text>
<text x="97.10" y="338.90" font-size="6.0" fill="#3a3a3a" stroke="#3a3a3a" stroke-width="0.22" text-anchor="end" textLength="39.00" lengthAdjust="spacingAndGlyphs" transform="rotate(-45 97.10 338.90)">D9 0.1% DMSO</text>
<text x="115.50" y="338.90" font-size="6.0" fill="#3a3a3a" stroke="#3a3a3a" stroke-width="0.22" text-anchor="end" textLength="50.00" lengthAdjust="spacingAndGlyphs" transform="rotate(-45 115.50 338.90)">D9 300nM duvelisib</text>
<text x="133.80" y="338.90" font-size="6.0" fill="#3a3a3a" stroke="#3a3a3a" stroke-width="0.22" text-anchor="end" textLength="48.00" lengthAdjust="spacingAndGlyphs" transform="rotate(-45 133.80 338.90)">D14-15 0.1% DMSO</text>
<text x="152.30" y="338.90" font-size="6.0" fill="#3a3a3a" stroke="#3a3a3a" stroke-width="0.22" text-anchor="end" textLength="59.00" lengthAdjust="spacingAndGlyphs" transform="rotate(-45 152.30 338.90)">D14-15 300nM duvelisib</text>
<text x="16.40" y="299.40" font-size="10" fill="#333" stroke="#333" stroke-width="0.22" text-anchor="middle" textLength="65.60" lengthAdjust="spacingAndGlyphs" transform="rotate(-90 16.40 299.40)" dy="0">T cell cross-sectional</text>
<text x="27.30" y="299.15" font-size="10" fill="#333" stroke="#333" stroke-width="0.22" text-anchor="middle" textLength="34.90" lengthAdjust="spacingAndGlyphs" transform="rotate(-90 27.30 299.15)" dy="0">area (μm²)</text>
<line x1="59.10" y1="260.90" x2="75.90" y2="260.90" stroke="#444" stroke-width="1.5"/>
<polygon points="67.30,254.30 67.86,255.64 69.30,255.75 68.20,256.69 68.53,258.10 67.30,257.34 66.07,258.10 66.40,256.69 65.30,255.75 66.74,255.64" fill="#333"/>
<line x1="131.90" y1="261.30" x2="148.10" y2="261.30" stroke="#444" stroke-width="1.5"/>
<polygon points="134.47,255.10 135.03,256.44 136.47,256.55 135.37,257.49 135.71,258.90 134.47,258.14 133.24,258.90 133.58,257.49 132.48,256.55 133.92,256.44" fill="#333"/>
<polygon points="138.62,255.10 139.18,256.44 140.62,256.55 139.52,257.49 139.86,258.90 138.62,258.14 137.39,258.90 137.73,257.49 136.63,256.55 138.07,256.44" fill="#333"/>
<polygon points="142.78,255.10 143.33,256.44 144.77,256.55 143.67,257.49 144.01,258.90 142.78,258.14 141.54,258.90 141.88,257.49 140.78,256.55 142.22,256.44" fill="#333"/>
<polygon points="146.92,255.10 147.48,256.44 148.92,256.55 147.82,257.49 148.16,258.90 146.92,258.14 145.69,258.90 146.03,257.49 144.93,256.55 146.37,256.44" fill="#333"/>
<path d="M59.70,267.20 C59.53,267.67 58.98,269.07 58.70,270.00 C58.42,270.93 57.78,271.80 58.00,272.80 C58.22,273.80 59.23,274.55 60.00,276.00 C60.77,277.45 62.30,279.77 62.60,281.50 C62.90,283.23 61.60,284.77 61.80,286.40 C62.00,288.03 63.65,289.87 63.80,291.30 C63.95,292.73 63.03,293.92 62.70,295.00 C62.37,296.08 62.17,296.88 61.80,297.80 C61.43,298.72 60.72,300.05 60.50,300.50 L54.50,300.50 C54.28,300.05 53.57,298.72 53.20,297.80 C52.83,296.88 52.63,296.08 52.30,295.00 C51.97,293.92 51.05,292.73 51.20,291.30 C51.35,289.87 53.00,288.03 53.20,286.40 C53.40,284.77 52.10,283.23 52.40,281.50 C52.70,279.77 54.23,277.45 55.00,276.00 C55.77,274.55 56.78,273.80 57.00,272.80 C57.22,271.80 56.58,270.93 56.30,270.00 C56.02,269.07 55.47,267.67 55.30,267.20 Z" fill="none" stroke="#c8102e" stroke-width="0.85" stroke-linejoin="round"/>
<circle cx="57.46" cy="292.63" r="0.75" fill="#c8102e"/>
<circle cx="59.66" cy="282.17" r="0.75" fill="#c8102e"/>
<circle cx="58.06" cy="270.33" r="0.75" fill="#c8102e"/>
<circle cx="53.70" cy="281.61" r="0.75" fill="#c8102e"/>
<circle cx="55.46" cy="282.03" r="0.75" fill="#c8102e"/>
<circle cx="57.61" cy="268.22" r="0.75" fill="#c8102e"/>
<circle cx="55.81" cy="298.47" r="0.75" fill="#c8102e"/>
<circle cx="55.42" cy="281.26" r="0.75" fill="#c8102e"/>
<line x1="53.16" y1="286.50" x2="61.84" y2="286.50" stroke="#c8102e" stroke-width="0.5" stroke-dasharray="1 0.8" opacity="0.7"/>
<path d="M77.80,273.40 C77.80,275.12 77.70,279.93 77.80,283.70 C77.90,287.47 78.17,293.12 78.40,296.00 C78.63,298.88 78.87,299.08 79.20,301.00 C79.53,302.92 80.07,305.33 80.40,307.50 C80.73,309.67 81.03,311.83 81.20,314.00 C81.37,316.17 81.37,319.42 81.40,320.50 L69.80,320.50 C69.83,319.42 69.83,316.17 70.00,314.00 C70.17,311.83 70.47,309.67 70.80,307.50 C71.13,305.33 71.67,302.92 72.00,301.00 C72.33,299.08 72.57,298.88 72.80,296.00 C73.03,293.12 73.30,287.47 73.40,283.70 C73.50,279.93 73.40,275.12 73.40,273.40 Z" fill="none" stroke="#11508d" stroke-width="0.85" stroke-linejoin="round"/>
<circle cx="76.71" cy="276.06" r="0.75" fill="#11508d"/>
<circle cx="74.20" cy="308.06" r="0.75" fill="#11508d"/>
<circle cx="75.23" cy="300.77" r="0.75" fill="#11508d"/>
<circle cx="74.46" cy="299.03" r="0.75" fill="#11508d"/>
<circle cx="75.48" cy="275.09" r="0.75" fill="#11508d"/>
<circle cx="76.11" cy="315.40" r="0.75" fill="#11508d"/>
<circle cx="75.01" cy="284.52" r="0.75" fill="#11508d"/>
<line x1="70.80" y1="307.50" x2="80.40" y2="307.50" stroke="#11508d" stroke-width="0.5" stroke-dasharray="1 0.8" opacity="0.7"/>
<path d="M94.40,295.00 C94.85,295.50 96.23,296.63 97.10,298.00 C97.97,299.37 99.33,301.62 99.60,303.20 C99.87,304.78 98.67,306.42 98.70,307.50 C98.73,308.58 99.73,308.78 99.80,309.70 C99.87,310.62 99.38,311.95 99.10,313.00 C98.82,314.05 98.60,315.00 98.10,316.00 C97.60,317.00 96.72,318.07 96.10,319.00 C95.48,319.93 94.68,321.17 94.40,321.60 L93.80,321.60 C93.52,321.17 92.72,319.93 92.10,319.00 C91.48,318.07 90.60,317.00 90.10,316.00 C89.60,315.00 89.38,314.05 89.10,313.00 C88.82,311.95 88.33,310.62 88.40,309.70 C88.47,308.78 89.47,308.58 89.50,307.50 C89.53,306.42 88.33,304.78 88.60,303.20 C88.87,301.62 90.23,299.37 91.10,298.00 C91.97,296.63 93.35,295.50 93.80,295.00 Z" fill="none" stroke="#c8102e" stroke-width="0.85" stroke-linejoin="round"/>
<circle cx="93.20" cy="301.33" r="0.75" fill="#c8102e"/>
<circle cx="90.57" cy="311.06" r="0.75" fill="#c8102e"/>
<circle cx="97.72" cy="301.90" r="0.75" fill="#c8102e"/>
<circle cx="91.64" cy="307.67" r="0.75" fill="#c8102e"/>
<circle cx="95.46" cy="308.92" r="0.75" fill="#c8102e"/>
<circle cx="90.24" cy="310.72" r="0.75" fill="#c8102e"/>
<circle cx="92.78" cy="318.38" r="0.75" fill="#c8102e"/>
<circle cx="92.67" cy="306.60" r="0.75" fill="#c8102e"/>
<circle cx="92.96" cy="308.49" r="0.75" fill="#c8102e"/>
<circle cx="97.44" cy="310.56" r="0.75" fill="#c8102e"/>
<circle cx="96.82" cy="312.86" r="0.75" fill="#c8102e"/>
<circle cx="91.67" cy="310.14" r="0.75" fill="#c8102e"/>
<line x1="89.25" y1="308.00" x2="98.95" y2="308.00" stroke="#c8102e" stroke-width="0.5" stroke-dasharray="1 0.8" opacity="0.7"/>
<path d="M113.00,292.90 C113.13,293.08 113.62,293.32 113.80,294.00 C113.98,294.68 114.10,296.00 114.10,297.00 C114.10,298.00 113.98,299.17 113.80,300.00 C113.62,300.83 113.00,301.33 113.00,302.00 C113.00,302.67 113.45,303.08 113.80,304.00 C114.15,304.92 114.57,306.33 115.10,307.50 C115.63,308.67 116.40,309.75 117.00,311.00 C117.60,312.25 118.70,313.92 118.70,315.00 C118.70,316.08 117.70,316.77 117.00,317.50 C116.30,318.23 115.20,318.53 114.50,319.40 C113.80,320.27 113.08,322.15 112.80,322.70 L112.20,322.70 C111.92,322.15 111.20,320.27 110.50,319.40 C109.80,318.53 108.70,318.23 108.00,317.50 C107.30,316.77 106.30,316.08 106.30,315.00 C106.30,313.92 107.40,312.25 108.00,311.00 C108.60,309.75 109.37,308.67 109.90,307.50 C110.43,306.33 110.85,304.92 111.20,304.00 C111.55,303.08 112.00,302.67 112.00,302.00 C112.00,301.33 111.38,300.83 111.20,300.00 C111.02,299.17 110.90,298.00 110.90,297.00 C110.90,296.00 111.02,294.68 111.20,294.00 C111.38,293.32 111.87,293.08 112.00,292.90 Z" fill="none" stroke="#11508d" stroke-width="0.85" stroke-linejoin="round"/>
<circle cx="112.30" cy="299.93" r="0.75" fill="#11508d"/>
<circle cx="112.27" cy="297.52" r="0.75" fill="#11508d"/>
<circle cx="112.81" cy="315.70" r="0.75" fill="#11508d"/>
<circle cx="113.47" cy="296.06" r="0.75" fill="#11508d"/>
<circle cx="111.07" cy="316.75" r="0.75" fill="#11508d"/>
<circle cx="109.93" cy="312.92" r="0.75" fill="#11508d"/>
<circle cx="114.08" cy="307.01" r="0.75" fill="#11508d"/>
<circle cx="112.03" cy="318.17" r="0.75" fill="#11508d"/>
<circle cx="110.28" cy="310.75" r="0.75" fill="#11508d"/>
<circle cx="112.75" cy="294.19" r="0.75" fill="#11508d"/>
<line x1="107.15" y1="313.00" x2="117.85" y2="313.00" stroke="#11508d" stroke-width="0.5" stroke-dasharray="1 0.8" opacity="0.7"/>
<path d="M131.40,281.50 C131.43,282.92 131.55,287.25 131.60,290.00 C131.65,292.75 131.57,296.00 131.70,298.00 C131.83,300.00 131.80,300.67 132.40,302.00 C133.00,303.33 134.48,304.63 135.30,306.00 C136.12,307.37 137.13,309.03 137.30,310.20 C137.47,311.37 136.72,312.03 136.30,313.00 C135.88,313.97 135.38,314.75 134.80,316.00 C134.22,317.25 133.40,319.03 132.80,320.50 C132.20,321.97 131.47,324.08 131.20,324.80 L130.40,324.80 C130.13,324.08 129.40,321.97 128.80,320.50 C128.20,319.03 127.38,317.25 126.80,316.00 C126.22,314.75 125.72,313.97 125.30,313.00 C124.88,312.03 124.13,311.37 124.30,310.20 C124.47,309.03 125.48,307.37 126.30,306.00 C127.12,304.63 128.60,303.33 129.20,302.00 C129.80,300.67 129.77,300.00 129.90,298.00 C130.03,296.00 129.95,292.75 130.00,290.00 C130.05,287.25 130.17,282.92 130.20,281.50 Z" fill="#c8102e" fill-opacity="0.5" stroke="#c8102e" stroke-width="0.85" stroke-linejoin="round"/>
<circle cx="133.31" cy="308.47" r="0.75" fill="#c8102e"/>
<circle cx="130.71" cy="321.44" r="0.75" fill="#c8102e"/>
<circle cx="130.71" cy="320.51" r="0.75" fill="#c8102e"/>
<circle cx="128.82" cy="306.35" r="0.75" fill="#c8102e"/>
<circle cx="132.88" cy="314.66" r="0.75" fill="#c8102e"/>
<circle cx="131.21" cy="286.99" r="0.75" fill="#c8102e"/>
<circle cx="130.36" cy="320.20" r="0.75" fill="#c8102e"/>
<circle cx="132.21" cy="307.61" r="0.75" fill="#c8102e"/>
<circle cx="129.81" cy="316.94" r="0.75" fill="#c8102e"/>
<circle cx="132.13" cy="318.08" r="0.75" fill="#c8102e"/>
<circle cx="130.51" cy="281.89" r="0.75" fill="#c8102e"/>
<circle cx="132.46" cy="315.08" r="0.75" fill="#c8102e"/>
<circle cx="129.74" cy="305.10" r="0.75" fill="#c8102e"/>
<circle cx="130.39" cy="289.18" r="0.75" fill="#c8102e"/>
<circle cx="131.36" cy="288.49" r="0.75" fill="#c8102e"/>
<circle cx="129.43" cy="304.60" r="0.75" fill="#c8102e"/>
<circle cx="131.91" cy="317.80" r="0.75" fill="#c8102e"/>
<circle cx="130.39" cy="315.62" r="0.75" fill="#c8102e"/>
<circle cx="130.60" cy="298.98" r="0.75" fill="#c8102e"/>
<circle cx="129.40" cy="308.65" r="0.75" fill="#c8102e"/>
<circle cx="129.47" cy="310.25" r="0.75" fill="#c8102e"/>
<circle cx="130.67" cy="312.00" r="0.75" fill="#c8102e"/>
<circle cx="129.38" cy="314.83" r="0.75" fill="#c8102e"/>
<circle cx="131.14" cy="306.64" r="0.75" fill="#c8102e"/>
<circle cx="129.39" cy="309.53" r="0.75" fill="#c8102e"/>
<circle cx="133.81" cy="309.39" r="0.75" fill="#c8102e"/>
<circle cx="132.89" cy="311.44" r="0.75" fill="#c8102e"/>
<circle cx="130.23" cy="306.65" r="0.75" fill="#c8102e"/>
<circle cx="131.97" cy="308.51" r="0.75" fill="#c8102e"/>
<circle cx="127.94" cy="312.69" r="0.75" fill="#c8102e"/>
<circle cx="130.55" cy="308.82" r="0.75" fill="#c8102e"/>
<circle cx="130.35" cy="291.30" r="0.75" fill="#c8102e"/>
<circle cx="130.76" cy="289.87" r="0.75" fill="#c8102e"/>
<circle cx="133.83" cy="307.05" r="0.75" fill="#c8102e"/>
<circle cx="130.95" cy="297.69" r="0.75" fill="#c8102e"/>
<circle cx="127.54" cy="309.31" r="0.75" fill="#c8102e"/>
<circle cx="134.31" cy="307.30" r="0.75" fill="#c8102e"/>
<circle cx="128.37" cy="306.00" r="0.75" fill="#c8102e"/>
<circle cx="129.72" cy="308.76" r="0.75" fill="#c8102e"/>
<circle cx="130.72" cy="302.79" r="0.75" fill="#c8102e"/>
<path d="M149.80,298.80 C149.92,299.33 150.32,300.92 150.50,302.00 C150.68,303.08 150.52,304.13 150.90,305.30 C151.28,306.47 152.15,307.80 152.80,309.00 C153.45,310.20 154.35,311.40 154.80,312.50 C155.25,313.60 155.58,314.52 155.50,315.60 C155.42,316.68 154.80,318.02 154.30,319.00 C153.80,319.98 153.00,320.70 152.50,321.50 C152.00,322.30 151.77,322.80 151.30,323.80 C150.83,324.80 149.97,326.88 149.70,327.50 L148.90,327.50 C148.63,326.88 147.77,324.80 147.30,323.80 C146.83,322.80 146.60,322.30 146.10,321.50 C145.60,320.70 144.80,319.98 144.30,319.00 C143.80,318.02 143.18,316.68 143.10,315.60 C143.02,314.52 143.35,313.60 143.80,312.50 C144.25,311.40 145.15,310.20 145.80,309.00 C146.45,307.80 147.32,306.47 147.70,305.30 C148.08,304.13 147.92,303.08 148.10,302.00 C148.28,300.92 148.68,299.33 148.80,298.80 Z" fill="#11508d" fill-opacity="0.55" stroke="#11508d" stroke-width="0.85" stroke-linejoin="round"/>
<circle cx="145.14" cy="312.72" r="0.75" fill="#11508d"/>
<circle cx="151.41" cy="317.82" r="0.75" fill="#11508d"/>
<circle cx="149.56" cy="319.75" r="0.75" fill="#11508d"/>
<circle cx="149.72" cy="318.37" r="0.75" fill="#11508d"/>
<circle cx="150.66" cy="321.91" r="0.75" fill="#11508d"/>
<circle cx="150.74" cy="308.43" r="0.75" fill="#11508d"/>
<circle cx="147.48" cy="321.90" r="0.75" fill="#11508d"/>
<circle cx="150.74" cy="315.69" r="0.75" fill="#11508d"/>
<circle cx="151.87" cy="317.30" r="0.75" fill="#11508d"/>
<circle cx="149.16" cy="326.82" r="0.75" fill="#11508d"/>
<circle cx="150.11" cy="316.07" r="0.75" fill="#11508d"/>
<circle cx="150.72" cy="313.88" r="0.75" fill="#11508d"/>
<circle cx="149.23" cy="307.76" r="0.75" fill="#11508d"/>
<circle cx="148.84" cy="307.59" r="0.75" fill="#11508d"/>
<circle cx="152.27" cy="320.22" r="0.75" fill="#11508d"/>
<circle cx="151.08" cy="313.63" r="0.75" fill="#11508d"/>
<circle cx="150.92" cy="310.54" r="0.75" fill="#11508d"/>
<circle cx="146.90" cy="321.30" r="0.75" fill="#11508d"/>
<circle cx="149.04" cy="309.16" r="0.75" fill="#11508d"/>
<circle cx="149.08" cy="316.37" r="0.75" fill="#11508d"/>
<circle cx="148.29" cy="312.53" r="0.75" fill="#11508d"/>
<circle cx="149.25" cy="307.99" r="0.75" fill="#11508d"/>
<circle cx="149.11" cy="307.15" r="0.75" fill="#11508d"/>
<circle cx="149.65" cy="300.44" r="0.75" fill="#11508d"/>
<circle cx="148.26" cy="323.30" r="0.75" fill="#11508d"/>
<circle cx="148.19" cy="312.26" r="0.75" fill="#11508d"/>
<circle cx="150.45" cy="316.21" r="0.75" fill="#11508d"/>
<circle cx="149.54" cy="301.59" r="0.75" fill="#11508d"/>
<circle cx="146.08" cy="316.86" r="0.75" fill="#11508d"/>
<circle cx="149.76" cy="322.70" r="0.75" fill="#11508d"/>
<circle cx="148.14" cy="321.14" r="0.75" fill="#11508d"/>
<circle cx="151.47" cy="319.25" r="0.75" fill="#11508d"/>
<circle cx="149.92" cy="325.77" r="0.75" fill="#11508d"/>
<circle cx="149.63" cy="299.72" r="0.75" fill="#11508d"/>
<circle cx="145.33" cy="317.13" r="0.75" fill="#11508d"/>
<circle cx="146.11" cy="318.91" r="0.75" fill="#11508d"/>
<circle cx="149.61" cy="319.79" r="0.75" fill="#11508d"/>
<circle cx="145.93" cy="312.12" r="0.75" fill="#11508d"/>
<circle cx="147.61" cy="309.94" r="0.75" fill="#11508d"/>
<circle cx="148.56" cy="314.99" r="0.75" fill="#11508d"/>
<circle cx="148.70" cy="309.74" r="0.75" fill="#11508d"/>
<circle cx="150.48" cy="317.80" r="0.75" fill="#11508d"/>
<circle cx="150.05" cy="321.91" r="0.75" fill="#11508d"/>
<circle cx="145.49" cy="316.75" r="0.75" fill="#11508d"/>
<text x="169.3" y="243.3" font-size="11.6" font-weight="bold" fill="#000">D</text>
<rect x="187.50" y="240.00" width="6.70" height="3.80" fill="#c8102e" stroke="none" stroke-width="1"/>
<text x="196.50" y="244.90" font-size="8.0" fill="#222" stroke="#222" stroke-width="0.22" textLength="26.50" lengthAdjust="spacingAndGlyphs">Nucleus</text>
<rect x="187.90" y="249.20" width="6.00" height="3.30" fill="#fff" stroke="#c8102e" stroke-width="0.9"/>
<text x="196.50" y="253.60" font-size="8.0" fill="#222" stroke="#222" stroke-width="0.22" textLength="34.30" lengthAdjust="spacingAndGlyphs">Cytoplasm</text>
<circle cx="211" cy="276.5" r="18" fill="#fff" stroke="#c8102e" stroke-width="1.1"/>
<path d="M211,276.5 L211,258.5 A18,18 0 0 1 223.32,289.62 Z" fill="#c8102e"/>
<text x="212.20" y="271.20" font-size="6.3" fill="#fff" textLength="10.20" lengthAdjust="spacingAndGlyphs">38%</text>
<text x="212.20" y="276.70" font-size="6.3" fill="#fff" textLength="14.40" lengthAdjust="spacingAndGlyphs">28μm²</text>
<text x="195.20" y="274.60" font-size="6.3" fill="#333" textLength="10.00" lengthAdjust="spacingAndGlyphs">62%</text>
<text x="195.20" y="280.30" font-size="6.3" fill="#333" textLength="14.90" lengthAdjust="spacingAndGlyphs">46μm²</text>
<circle cx="210.2" cy="333.4" r="18" fill="#fff" stroke="#114e8a" stroke-width="1.1"/>
<path d="M210.2,333.4 L210.2,315.4 A18,18 0 0 1 218.87,349.17 Z" fill="#114e8a"/>
<text x="211.40" y="328.10" font-size="6.3" fill="#fff" textLength="10.20" lengthAdjust="spacingAndGlyphs">42%</text>
<text x="211.40" y="333.60" font-size="6.3" fill="#fff" textLength="14.40" lengthAdjust="spacingAndGlyphs">26μm²</text>
<text x="194.40" y="331.50" font-size="6.3" fill="#333" textLength="10.00" lengthAdjust="spacingAndGlyphs">58%</text>
<text x="194.40" y="337.20" font-size="6.3" fill="#333" textLength="14.90" lengthAdjust="spacingAndGlyphs">37μm²</text>
<line x1="195.90" y1="296.00" x2="195.90" y2="317.00" stroke="#555" stroke-width="1.3"/>
<line x1="228.30" y1="296.00" x2="228.30" y2="317.00" stroke="#555" stroke-width="1.3"/>
<polygon points="198.72,305.75 199.08,306.61 200.01,306.68 199.30,307.29 199.52,308.19 198.72,307.71 197.93,308.19 198.15,307.29 197.44,306.68 198.37,306.61" fill="#444"/>
<polygon points="200.97,305.75 201.33,306.61 202.26,306.68 201.55,307.29 201.77,308.19 200.97,307.71 200.18,308.19 200.40,307.29 199.69,306.68 200.62,306.61" fill="#444"/>
<polygon points="203.22,305.75 203.58,306.61 204.51,306.68 203.80,307.29 204.02,308.19 203.22,307.71 202.43,308.19 202.65,307.29 201.94,306.68 202.87,306.61" fill="#444"/>
<polygon points="205.47,305.75 205.83,306.61 206.76,306.68 206.05,307.29 206.27,308.19 205.47,307.71 204.68,308.19 204.90,307.29 204.19,306.68 205.12,306.61" fill="#444"/>
<polygon points="230.50,305.75 230.86,306.61 231.78,306.68 231.08,307.29 231.29,308.19 230.50,307.71 229.71,308.19 229.92,307.29 229.22,306.68 230.14,306.61" fill="#444"/>
<rect x="187.00" y="354.40" width="6.70" height="3.60" fill="#114e8a" stroke="none" stroke-width="1"/>
<text x="195.80" y="359.00" font-size="8.0" fill="#222" stroke="#222" stroke-width="0.22" textLength="26.70" lengthAdjust="spacingAndGlyphs">Nucleus</text>
<rect x="187.40" y="363.00" width="6.00" height="3.30" fill="#fff" stroke="#114e8a" stroke-width="0.9"/>
<text x="195.80" y="367.50" font-size="8.0" fill="#222" stroke="#222" stroke-width="0.22" textLength="34.70" lengthAdjust="spacingAndGlyphs">Cytoplasm</text>
<text x="254.8" y="242.9" font-size="11.6" font-weight="bold" fill="#000">E</text>
<line x1="282.20" y1="257.40" x2="282.20" y2="330.10" stroke="#0e0e0e" stroke-width="1.3"/>
<line x1="281.60" y1="329.50" x2="406.00" y2="329.50" stroke="#0e0e0e" stroke-width="1.3"/>
<line x1="279.20" y1="329.50" x2="282.20" y2="329.50" stroke="#0e0e0e" stroke-width="0.8"/>
<text x="275.80" y="332.50" font-size="8.6" fill="#2a2a2a" stroke="#2a2a2a" stroke-width="0.22" text-anchor="end" textLength="3.90" lengthAdjust="spacingAndGlyphs">0</text>
<line x1="279.20" y1="315.18" x2="282.20" y2="315.18" stroke="#0e0e0e" stroke-width="0.8"/>
<text x="275.80" y="318.18" font-size="8.6" fill="#2a2a2a" stroke="#2a2a2a" stroke-width="0.22" text-anchor="end" textLength="3.90" lengthAdjust="spacingAndGlyphs">5</text>
<line x1="279.20" y1="300.86" x2="282.20" y2="300.86" stroke="#0e0e0e" stroke-width="0.8"/>
<text x="275.80" y="303.86" font-size="8.6" fill="#2a2a2a" stroke="#2a2a2a" stroke-width="0.22" text-anchor="end" textLength="7.80" lengthAdjust="spacingAndGlyphs">10</text>
<line x1="279.20" y1="286.54" x2="282.20" y2="286.54" stroke="#0e0e0e" stroke-width="0.8"/>
<text x="275.80" y="289.54" font-size="8.6" fill="#2a2a2a" stroke="#2a2a2a" stroke-width="0.22" text-anchor="end" textLength="7.80" lengthAdjust="spacingAndGlyphs">15</text>
<line x1="279.20" y1="272.22" x2="282.20" y2="272.22" stroke="#0e0e0e" stroke-width="0.8"/>
<text x="275.80" y="275.22" font-size="8.6" fill="#2a2a2a" stroke="#2a2a2a" stroke-width="0.22" text-anchor="end" textLength="7.80" lengthAdjust="spacingAndGlyphs">20</text>
<line x1="279.20" y1="257.90" x2="282.20" y2="257.90" stroke="#0e0e0e" stroke-width="0.8"/>
<text x="275.80" y="260.90" font-size="8.6" fill="#2a2a2a" stroke="#2a2a2a" stroke-width="0.22" text-anchor="end" textLength="7.80" lengthAdjust="spacingAndGlyphs">25</text>
<line x1="292.10" y1="329.50" x2="292.10" y2="332.10" stroke="#0e0e0e" stroke-width="0.8"/>
<line x1="307.10" y1="329.50" x2="307.10" y2="332.10" stroke="#0e0e0e" stroke-width="0.8"/>
<line x1="322.10" y1="329.50" x2="322.10" y2="332.10" stroke="#0e0e0e" stroke-width="0.8"/>
<line x1="336.90" y1="329.50" x2="336.90" y2="332.10" stroke="#0e0e0e" stroke-width="0.8"/>
<line x1="351.60" y1="329.50" x2="351.60" y2="332.10" stroke="#0e0e0e" stroke-width="0.8"/>
<line x1="366.70" y1="329.50" x2="366.70" y2="332.10" stroke="#0e0e0e" stroke-width="0.8"/>
<line x1="381.70" y1="329.50" x2="381.70" y2="332.10" stroke="#0e0e0e" stroke-width="0.8"/>
<line x1="396.70" y1="329.50" x2="396.70" y2="332.10" stroke="#0e0e0e" stroke-width="0.8"/>
<text x="296.00" y="338.60" font-size="7.0" fill="#3a3a3a" stroke="#3a3a3a" stroke-width="0.22" text-anchor="end" textLength="44.70" lengthAdjust="spacingAndGlyphs" transform="rotate(-45 296.00 338.60)">D3 0.1% DMSO</text>
<text x="311.00" y="338.60" font-size="7.0" fill="#3a3a3a" stroke="#3a3a3a" stroke-width="0.22" text-anchor="end" textLength="57.30" lengthAdjust="spacingAndGlyphs" transform="rotate(-45 311.00 338.60)">D3 300nM duvelisib</text>
<text x="326.00" y="338.60" font-size="7.0" fill="#3a3a3a" stroke="#3a3a3a" stroke-width="0.22" text-anchor="end" textLength="44.70" lengthAdjust="spacingAndGlyphs" transform="rotate(-45 326.00 338.60)">D9 0.1% DMSO</text>
<text x="340.80" y="338.60" font-size="7.0" fill="#3a3a3a" stroke="#3a3a3a" stroke-width="0.22" text-anchor="end" textLength="57.30" lengthAdjust="spacingAndGlyphs" transform="rotate(-45 340.80 338.60)">D9 300nM duvelisib</text>
<text x="355.50" y="338.60" font-size="7.0" fill="#3a3a3a" stroke="#3a3a3a" stroke-width="0.22" text-anchor="end" textLength="55.00" lengthAdjust="spacingAndGlyphs" transform="rotate(-45 355.50 338.60)">D14-15 0.1% DMSO</text>
<text x="370.60" y="338.60" font-size="7.0" fill="#3a3a3a" stroke="#3a3a3a" stroke-width="0.22" text-anchor="end" textLength="67.60" lengthAdjust="spacingAndGlyphs" transform="rotate(-45 370.60 338.60)">D14-15 300nM duvelisib</text>
<text x="385.60" y="338.60" font-size="7.0" fill="#3a3a3a" stroke="#3a3a3a" stroke-width="0.22" text-anchor="end" textLength="52.70" lengthAdjust="spacingAndGlyphs" transform="rotate(-45 385.60 338.60)">D14 control CART</text>
<text x="400.60" y="338.60" font-size="7.0" fill="#3a3a3a" stroke="#3a3a3a" stroke-width="0.22" text-anchor="end" textLength="42.40" lengthAdjust="spacingAndGlyphs" transform="rotate(-45 400.60 338.60)">D14 duv-CART</text>
<line x1="374.40" y1="246.00" x2="374.40" y2="329.50" stroke="#9ab4d0" stroke-width="0.8"/>
<text x="323.80" y="243.80" font-size="6.9" fill="#444" stroke="#444" stroke-width="0.22" textLength="46.20" lengthAdjust="spacingAndGlyphs">Non-transduced</text>
<text x="381.50" y="243.80" font-size="6.9" fill="#444" stroke="#444" stroke-width="0.22" textLength="16.50" lengthAdjust="spacingAndGlyphs">CART</text>
<line x1="380.00" y1="256.20" x2="397.20" y2="256.20" stroke="#444" stroke-width="1.5"/>
<polygon points="386.53,250.10 387.08,251.44 388.52,251.55 387.42,252.49 387.76,253.90 386.53,253.14 385.29,253.90 385.63,252.49 384.53,251.55 385.97,251.44" fill="#333"/>
<polygon points="390.68,250.10 391.23,251.44 392.67,251.55 391.57,252.49 391.91,253.90 390.68,253.14 389.44,253.90 389.78,252.49 388.68,251.55 390.12,251.44" fill="#333"/>
<text x="252.60" y="293.50" font-size="10" fill="#333" stroke="#333" stroke-width="0.22" text-anchor="middle" textLength="62.60" lengthAdjust="spacingAndGlyphs" transform="rotate(-90 252.60 293.50)" dy="0">Mitochondrial area</text>
<text x="263.50" y="294.40" font-size="10" fill="#333" stroke="#333" stroke-width="0.22" text-anchor="middle" textLength="65.60" lengthAdjust="spacingAndGlyphs" transform="rotate(-90 263.50 294.40)" dy="0">(as % total cell area)</text>
<path d="M293.10,311.00 C293.23,311.33 293.60,312.15 293.90,313.00 C294.20,313.85 294.57,315.18 294.90,316.10 C295.23,317.02 295.57,317.73 295.90,318.50 C296.23,319.27 296.87,319.87 296.90,320.70 C296.93,321.53 296.48,322.62 296.10,323.50 C295.72,324.38 294.85,325.58 294.60,326.00 L289.60,326.00 C289.35,325.58 288.48,324.38 288.10,323.50 C287.72,322.62 287.27,321.53 287.30,320.70 C287.33,319.87 287.97,319.27 288.30,318.50 C288.63,317.73 288.97,317.02 289.30,316.10 C289.63,315.18 290.00,313.85 290.30,313.00 C290.60,312.15 290.97,311.33 291.10,311.00 Z" fill="none" stroke="#c8102e" stroke-width="0.85" stroke-linejoin="round"/>
<circle cx="292.14" cy="324.86" r="0.75" fill="#c8102e"/>
<circle cx="292.18" cy="319.81" r="0.75" fill="#c8102e"/>
<circle cx="295.43" cy="321.40" r="0.75" fill="#c8102e"/>
<circle cx="288.76" cy="320.23" r="0.75" fill="#c8102e"/>
<circle cx="290.24" cy="318.93" r="0.75" fill="#c8102e"/>
<circle cx="291.97" cy="314.63" r="0.75" fill="#c8102e"/>
<path d="M309.60,310.10 C309.60,310.67 309.58,312.30 309.60,313.50 C309.62,314.70 309.42,316.38 309.70,317.30 C309.98,318.22 310.90,318.43 311.30,319.00 C311.70,319.57 312.08,320.03 312.10,320.70 C312.12,321.37 311.73,322.27 311.40,323.00 C311.07,323.73 310.32,324.75 310.10,325.10 L304.10,325.10 C303.88,324.75 303.13,323.73 302.80,323.00 C302.47,322.27 302.08,321.37 302.10,320.70 C302.12,320.03 302.50,319.57 302.90,319.00 C303.30,318.43 304.22,318.22 304.50,317.30 C304.78,316.38 304.58,314.70 304.60,313.50 C304.62,312.30 304.60,310.67 304.60,310.10 Z" fill="none" stroke="#11508d" stroke-width="0.85" stroke-linejoin="round"/>
<circle cx="303.64" cy="320.10" r="0.75" fill="#11508d"/>
<circle cx="308.29" cy="315.72" r="0.75" fill="#11508d"/>
<circle cx="307.53" cy="320.46" r="0.75" fill="#11508d"/>
<circle cx="306.68" cy="320.02" r="0.75" fill="#11508d"/>
<circle cx="304.21" cy="322.74" r="0.75" fill="#11508d"/>
<circle cx="304.78" cy="323.83" r="0.75" fill="#11508d"/>
<path d="M322.50,306.00 C322.57,306.63 322.63,308.83 322.90,309.80 C323.17,310.77 323.80,311.13 324.10,311.80 C324.40,312.47 324.40,313.10 324.70,313.80 C325.00,314.50 325.53,315.23 325.90,316.00 C326.27,316.77 326.87,317.57 326.90,318.40 C326.93,319.23 326.43,320.07 326.10,321.00 C325.77,321.93 325.23,323.08 324.90,324.00 C324.57,324.92 324.50,325.60 324.10,326.50 C323.70,327.40 322.77,328.92 322.50,329.40 L321.70,329.40 C321.43,328.92 320.50,327.40 320.10,326.50 C319.70,325.60 319.63,324.92 319.30,324.00 C318.97,323.08 318.43,321.93 318.10,321.00 C317.77,320.07 317.27,319.23 317.30,318.40 C317.33,317.57 317.93,316.77 318.30,316.00 C318.67,315.23 319.20,314.50 319.50,313.80 C319.80,313.10 319.80,312.47 320.10,311.80 C320.40,311.13 321.03,310.77 321.30,309.80 C321.57,308.83 321.63,306.63 321.70,306.00 Z" fill="none" stroke="#c8102e" stroke-width="0.85" stroke-linejoin="round"/>
<circle cx="322.25" cy="323.18" r="0.75" fill="#c8102e"/>
<circle cx="320.68" cy="320.24" r="0.75" fill="#c8102e"/>
<circle cx="321.17" cy="319.20" r="0.75" fill="#c8102e"/>
<circle cx="319.91" cy="316.06" r="0.75" fill="#c8102e"/>
<circle cx="320.34" cy="316.38" r="0.75" fill="#c8102e"/>
<circle cx="321.81" cy="318.23" r="0.75" fill="#c8102e"/>
<circle cx="319.74" cy="320.17" r="0.75" fill="#c8102e"/>
<circle cx="320.35" cy="317.49" r="0.75" fill="#c8102e"/>
<circle cx="321.58" cy="320.95" r="0.75" fill="#c8102e"/>
<circle cx="323.45" cy="324.79" r="0.75" fill="#c8102e"/>
<circle cx="321.16" cy="319.59" r="0.75" fill="#c8102e"/>
<circle cx="321.12" cy="323.03" r="0.75" fill="#c8102e"/>
<path d="M337.30,296.50 C337.37,297.65 337.52,301.48 337.70,303.40 C337.88,305.32 338.17,306.27 338.40,308.00 C338.63,309.73 338.68,312.30 339.10,313.80 C339.52,315.30 340.43,316.03 340.90,317.00 C341.37,317.97 341.82,318.60 341.90,319.60 C341.98,320.60 341.53,321.93 341.40,323.00 C341.27,324.07 341.27,324.93 341.10,326.00 C340.93,327.07 340.52,328.83 340.40,329.40 L333.40,329.40 C333.28,328.83 332.87,327.07 332.70,326.00 C332.53,324.93 332.53,324.07 332.40,323.00 C332.27,321.93 331.82,320.60 331.90,319.60 C331.98,318.60 332.43,317.97 332.90,317.00 C333.37,316.03 334.28,315.30 334.70,313.80 C335.12,312.30 335.17,309.73 335.40,308.00 C335.63,306.27 335.92,305.32 336.10,303.40 C336.28,301.48 336.43,297.65 336.50,296.50 Z" fill="none" stroke="#11508d" stroke-width="0.85" stroke-linejoin="round"/>
<circle cx="335.47" cy="320.65" r="0.75" fill="#11508d"/>
<circle cx="338.89" cy="319.01" r="0.75" fill="#11508d"/>
<circle cx="335.40" cy="326.16" r="0.75" fill="#11508d"/>
<circle cx="334.53" cy="322.96" r="0.75" fill="#11508d"/>
<circle cx="339.58" cy="328.68" r="0.75" fill="#11508d"/>
<circle cx="334.39" cy="317.35" r="0.75" fill="#11508d"/>
<circle cx="334.94" cy="325.28" r="0.75" fill="#11508d"/>
<circle cx="337.75" cy="311.39" r="0.75" fill="#11508d"/>
<circle cx="337.90" cy="312.97" r="0.75" fill="#11508d"/>
<circle cx="336.58" cy="319.05" r="0.75" fill="#11508d"/>
<circle cx="336.77" cy="316.09" r="0.75" fill="#11508d"/>
<circle cx="334.81" cy="327.39" r="0.75" fill="#11508d"/>
<circle cx="333.30" cy="319.64" r="0.75" fill="#11508d"/>
<circle cx="336.57" cy="311.94" r="0.75" fill="#11508d"/>
<path d="M352.10,289.90 C352.13,291.58 352.13,297.15 352.30,300.00 C352.47,302.85 352.67,305.17 353.10,307.00 C353.53,308.83 354.43,309.67 354.90,311.00 C355.37,312.33 355.68,313.55 355.90,315.00 C356.12,316.45 356.22,318.20 356.20,319.70 C356.18,321.20 356.07,322.70 355.80,324.00 C355.53,325.30 355.05,326.50 354.60,327.50 C354.15,328.50 353.35,329.58 353.10,330.00 L350.10,330.00 C349.85,329.58 349.05,328.50 348.60,327.50 C348.15,326.50 347.67,325.30 347.40,324.00 C347.13,322.70 347.02,321.20 347.00,319.70 C346.98,318.20 347.08,316.45 347.30,315.00 C347.52,313.55 347.83,312.33 348.30,311.00 C348.77,309.67 349.67,308.83 350.10,307.00 C350.53,305.17 350.73,302.85 350.90,300.00 C351.07,297.15 351.07,291.58 351.10,289.90 Z" fill="#c8102e" fill-opacity="0.5" stroke="#c8102e" stroke-width="0.85" stroke-linejoin="round"/>
<circle cx="352.43" cy="328.61" r="0.75" fill="#c8102e"/>
<circle cx="351.40" cy="310.41" r="0.75" fill="#c8102e"/>
<circle cx="351.74" cy="306.74" r="0.75" fill="#c8102e"/>
<circle cx="350.08" cy="327.80" r="0.75" fill="#c8102e"/>
<circle cx="349.47" cy="325.47" r="0.75" fill="#c8102e"/>
<circle cx="350.97" cy="323.60" r="0.75" fill="#c8102e"/>
<circle cx="353.53" cy="310.03" r="0.75" fill="#c8102e"/>
<circle cx="349.06" cy="321.83" r="0.75" fill="#c8102e"/>
<circle cx="352.97" cy="309.65" r="0.75" fill="#c8102e"/>
<circle cx="352.11" cy="301.42" r="0.75" fill="#c8102e"/>
<circle cx="351.60" cy="327.77" r="0.75" fill="#c8102e"/>
<circle cx="351.88" cy="291.63" r="0.75" fill="#c8102e"/>
<circle cx="353.16" cy="312.74" r="0.75" fill="#c8102e"/>
<circle cx="351.07" cy="300.15" r="0.75" fill="#c8102e"/>
<circle cx="353.53" cy="313.78" r="0.75" fill="#c8102e"/>
<circle cx="352.52" cy="325.69" r="0.75" fill="#c8102e"/>
<circle cx="350.41" cy="310.68" r="0.75" fill="#c8102e"/>
<circle cx="351.06" cy="303.54" r="0.75" fill="#c8102e"/>
<circle cx="353.84" cy="312.99" r="0.75" fill="#c8102e"/>
<circle cx="353.75" cy="311.87" r="0.75" fill="#c8102e"/>
<circle cx="353.04" cy="313.11" r="0.75" fill="#c8102e"/>
<circle cx="349.52" cy="312.24" r="0.75" fill="#c8102e"/>
<circle cx="349.88" cy="311.16" r="0.75" fill="#c8102e"/>
<circle cx="352.55" cy="329.95" r="0.75" fill="#c8102e"/>
<circle cx="351.11" cy="324.61" r="0.75" fill="#c8102e"/>
<circle cx="351.14" cy="313.81" r="0.75" fill="#c8102e"/>
<circle cx="352.50" cy="325.95" r="0.75" fill="#c8102e"/>
<circle cx="351.45" cy="308.33" r="0.75" fill="#c8102e"/>
<circle cx="354.69" cy="320.33" r="0.75" fill="#c8102e"/>
<circle cx="350.26" cy="310.75" r="0.75" fill="#c8102e"/>
<circle cx="352.68" cy="320.40" r="0.75" fill="#c8102e"/>
<circle cx="350.41" cy="317.79" r="0.75" fill="#c8102e"/>
<circle cx="349.64" cy="324.50" r="0.75" fill="#c8102e"/>
<circle cx="352.10" cy="317.50" r="0.75" fill="#c8102e"/>
<path d="M367.10,285.50 C367.15,287.25 367.22,292.83 367.40,296.00 C367.58,299.17 367.92,302.17 368.20,304.50 C368.48,306.83 368.68,308.42 369.10,310.00 C369.52,311.58 370.32,312.58 370.70,314.00 C371.08,315.42 371.33,317.17 371.40,318.50 C371.47,319.83 371.35,320.75 371.10,322.00 C370.85,323.25 370.38,324.67 369.90,326.00 C369.42,327.33 368.48,329.33 368.20,330.00 L365.20,330.00 C364.92,329.33 363.98,327.33 363.50,326.00 C363.02,324.67 362.55,323.25 362.30,322.00 C362.05,320.75 361.93,319.83 362.00,318.50 C362.07,317.17 362.32,315.42 362.70,314.00 C363.08,312.58 363.88,311.58 364.30,310.00 C364.72,308.42 364.92,306.83 365.20,304.50 C365.48,302.17 365.82,299.17 366.00,296.00 C366.18,292.83 366.25,287.25 366.30,285.50 Z" fill="#11508d" fill-opacity="0.5" stroke="#11508d" stroke-width="0.85" stroke-linejoin="round"/>
<circle cx="367.11" cy="300.41" r="0.75" fill="#11508d"/>
<circle cx="368.07" cy="328.05" r="0.75" fill="#11508d"/>
<circle cx="363.55" cy="321.44" r="0.75" fill="#11508d"/>
<circle cx="366.18" cy="320.56" r="0.75" fill="#11508d"/>
<circle cx="367.37" cy="298.54" r="0.75" fill="#11508d"/>
<circle cx="365.56" cy="308.79" r="0.75" fill="#11508d"/>
<circle cx="369.07" cy="317.89" r="0.75" fill="#11508d"/>
<circle cx="365.62" cy="307.72" r="0.75" fill="#11508d"/>
<circle cx="365.58" cy="314.84" r="0.75" fill="#11508d"/>
<circle cx="368.86" cy="320.34" r="0.75" fill="#11508d"/>
<circle cx="366.28" cy="295.64" r="0.75" fill="#11508d"/>
<circle cx="366.80" cy="290.91" r="0.75" fill="#11508d"/>
<circle cx="367.55" cy="326.38" r="0.75" fill="#11508d"/>
<circle cx="365.10" cy="326.39" r="0.75" fill="#11508d"/>
<circle cx="366.63" cy="302.78" r="0.75" fill="#11508d"/>
<circle cx="363.50" cy="318.00" r="0.75" fill="#11508d"/>
<circle cx="365.83" cy="307.88" r="0.75" fill="#11508d"/>
<circle cx="365.86" cy="304.01" r="0.75" fill="#11508d"/>
<circle cx="365.19" cy="324.49" r="0.75" fill="#11508d"/>
<circle cx="366.10" cy="298.63" r="0.75" fill="#11508d"/>
<circle cx="364.80" cy="317.47" r="0.75" fill="#11508d"/>
<circle cx="366.72" cy="316.29" r="0.75" fill="#11508d"/>
<circle cx="368.21" cy="314.99" r="0.75" fill="#11508d"/>
<circle cx="366.95" cy="308.23" r="0.75" fill="#11508d"/>
<circle cx="367.05" cy="290.34" r="0.75" fill="#11508d"/>
<circle cx="365.74" cy="304.91" r="0.75" fill="#11508d"/>
<circle cx="366.44" cy="289.01" r="0.75" fill="#11508d"/>
<circle cx="368.44" cy="319.89" r="0.75" fill="#11508d"/>
<circle cx="366.45" cy="303.74" r="0.75" fill="#11508d"/>
<circle cx="366.11" cy="302.15" r="0.75" fill="#11508d"/>
<circle cx="367.80" cy="311.91" r="0.75" fill="#11508d"/>
<circle cx="368.51" cy="310.11" r="0.75" fill="#11508d"/>
<circle cx="366.28" cy="292.93" r="0.75" fill="#11508d"/>
<circle cx="367.06" cy="328.62" r="0.75" fill="#11508d"/>
<path d="M382.50,289.00 C382.62,289.67 383.18,291.67 383.20,293.00 C383.22,294.33 382.60,295.67 382.60,297.00 C382.60,298.33 383.20,299.67 383.20,301.00 C383.20,302.33 382.62,303.67 382.60,305.00 C382.58,306.33 382.92,307.83 383.10,309.00 C383.28,310.17 383.27,311.08 383.70,312.00 C384.13,312.92 385.23,313.75 385.70,314.50 C386.17,315.25 386.45,315.58 386.50,316.50 C386.55,317.42 386.30,318.92 386.00,320.00 C385.70,321.08 385.08,322.00 384.70,323.00 C384.32,324.00 384.10,325.00 383.70,326.00 C383.30,327.00 382.53,328.50 382.30,329.00 L381.10,329.00 C380.87,328.50 380.10,327.00 379.70,326.00 C379.30,325.00 379.08,324.00 378.70,323.00 C378.32,322.00 377.70,321.08 377.40,320.00 C377.10,318.92 376.85,317.42 376.90,316.50 C376.95,315.58 377.23,315.25 377.70,314.50 C378.17,313.75 379.27,312.92 379.70,312.00 C380.13,311.08 380.12,310.17 380.30,309.00 C380.48,307.83 380.82,306.33 380.80,305.00 C380.78,303.67 380.20,302.33 380.20,301.00 C380.20,299.67 380.80,298.33 380.80,297.00 C380.80,295.67 380.18,294.33 380.20,293.00 C380.22,291.67 380.78,289.67 380.90,289.00 Z" fill="#c8102e" fill-opacity="0.3" stroke="#c8102e" stroke-width="0.85" stroke-linejoin="round"/>
<circle cx="378.59" cy="315.46" r="0.75" fill="#c8102e"/>
<circle cx="381.99" cy="328.94" r="0.75" fill="#c8102e"/>
<circle cx="382.52" cy="324.01" r="0.75" fill="#c8102e"/>
<circle cx="382.65" cy="301.37" r="0.75" fill="#c8102e"/>
<circle cx="381.94" cy="323.71" r="0.75" fill="#c8102e"/>
<circle cx="382.34" cy="320.46" r="0.75" fill="#c8102e"/>
<circle cx="381.17" cy="325.66" r="0.75" fill="#c8102e"/>
<circle cx="382.21" cy="299.90" r="0.75" fill="#c8102e"/>
<circle cx="378.79" cy="318.16" r="0.75" fill="#c8102e"/>
<circle cx="383.36" cy="316.44" r="0.75" fill="#c8102e"/>
<circle cx="380.99" cy="299.06" r="0.75" fill="#c8102e"/>
<circle cx="381.13" cy="305.15" r="0.75" fill="#c8102e"/>
<circle cx="381.89" cy="314.46" r="0.75" fill="#c8102e"/>
<circle cx="381.30" cy="299.61" r="0.75" fill="#c8102e"/>
<circle cx="380.96" cy="317.99" r="0.75" fill="#c8102e"/>
<circle cx="381.99" cy="324.74" r="0.75" fill="#c8102e"/>
<circle cx="384.10" cy="313.52" r="0.75" fill="#c8102e"/>
<circle cx="380.74" cy="319.19" r="0.75" fill="#c8102e"/>
<path d="M397.10,269.00 C397.15,270.05 397.22,273.88 397.40,275.30 C397.58,276.72 398.07,276.63 398.20,277.50 C398.33,278.37 398.30,279.58 398.20,280.50 C398.10,281.42 397.68,282.17 397.60,283.00 C397.52,283.83 397.58,284.33 397.70,285.50 C397.82,286.67 398.13,288.42 398.30,290.00 C398.47,291.58 398.47,293.17 398.70,295.00 C398.93,296.83 399.33,299.33 399.70,301.00 C400.07,302.67 400.60,303.57 400.90,305.00 C401.20,306.43 401.43,307.93 401.50,309.60 C401.57,311.27 401.35,313.27 401.30,315.00 C401.25,316.73 401.63,318.50 401.20,320.00 C400.77,321.50 399.28,322.83 398.70,324.00 C398.12,325.17 397.97,326.00 397.70,327.00 C397.43,328.00 397.20,329.50 397.10,330.00 L396.30,330.00 C396.20,329.50 395.97,328.00 395.70,327.00 C395.43,326.00 395.28,325.17 394.70,324.00 C394.12,322.83 392.63,321.50 392.20,320.00 C391.77,318.50 392.15,316.73 392.10,315.00 C392.05,313.27 391.83,311.27 391.90,309.60 C391.97,307.93 392.20,306.43 392.50,305.00 C392.80,303.57 393.33,302.67 393.70,301.00 C394.07,299.33 394.47,296.83 394.70,295.00 C394.93,293.17 394.93,291.58 395.10,290.00 C395.27,288.42 395.58,286.67 395.70,285.50 C395.82,284.33 395.88,283.83 395.80,283.00 C395.72,282.17 395.30,281.42 395.20,280.50 C395.10,279.58 395.07,278.37 395.20,277.50 C395.33,276.63 395.82,276.72 396.00,275.30 C396.18,273.88 396.25,270.05 396.30,269.00 Z" fill="none" stroke="#11508d" stroke-width="0.85" stroke-linejoin="round"/>
<circle cx="396.68" cy="289.41" r="0.75" fill="#11508d"/>
<circle cx="395.84" cy="296.96" r="0.75" fill="#11508d"/>
<circle cx="397.94" cy="311.20" r="0.75" fill="#11508d"/>
<circle cx="397.75" cy="304.11" r="0.75" fill="#11508d"/>
<circle cx="394.23" cy="305.60" r="0.75" fill="#11508d"/>
<circle cx="394.71" cy="307.50" r="0.75" fill="#11508d"/>
<circle cx="396.04" cy="310.86" r="0.75" fill="#11508d"/>
<circle cx="397.48" cy="298.30" r="0.75" fill="#11508d"/>
<circle cx="395.70" cy="304.89" r="0.75" fill="#11508d"/>
<circle cx="394.92" cy="302.24" r="0.75" fill="#11508d"/>
<circle cx="397.03" cy="278.28" r="0.75" fill="#11508d"/>
<circle cx="398.76" cy="302.15" r="0.75" fill="#11508d"/>
<circle cx="396.88" cy="318.90" r="0.75" fill="#11508d"/>
<circle cx="395.56" cy="311.81" r="0.75" fill="#11508d"/>
<circle cx="394.39" cy="320.61" r="0.75" fill="#11508d"/>
<circle cx="397.24" cy="277.91" r="0.75" fill="#11508d"/>
<circle cx="396.80" cy="308.78" r="0.75" fill="#11508d"/>
<circle cx="394.53" cy="303.08" r="0.75" fill="#11508d"/>
<circle cx="396.15" cy="306.24" r="0.75" fill="#11508d"/>
<circle cx="397.34" cy="278.20" r="0.75" fill="#11508d"/>
<line x1="458.50" y1="262.30" x2="458.50" y2="329.90" stroke="#0e0e0e" stroke-width="1.3"/>
<line x1="457.90" y1="329.30" x2="503.00" y2="329.30" stroke="#0e0e0e" stroke-width="1.3"/>
<line x1="455.50" y1="329.30" x2="458.50" y2="329.30" stroke="#0e0e0e" stroke-width="0.8"/>
<text x="453.00" y="332.30" font-size="8.6" fill="#2a2a2a" stroke="#2a2a2a" stroke-width="0.22" text-anchor="end" textLength="4.30" lengthAdjust="spacingAndGlyphs">0</text>
<line x1="455.50" y1="307.13" x2="458.50" y2="307.13" stroke="#0e0e0e" stroke-width="0.8"/>
<text x="453.00" y="310.13" font-size="8.6" fill="#2a2a2a" stroke="#2a2a2a" stroke-width="0.22" text-anchor="end" textLength="8.60" lengthAdjust="spacingAndGlyphs">20</text>
<line x1="455.50" y1="284.97" x2="458.50" y2="284.97" stroke="#0e0e0e" stroke-width="0.8"/>
<text x="453.00" y="287.97" font-size="8.6" fill="#2a2a2a" stroke="#2a2a2a" stroke-width="0.22" text-anchor="end" textLength="8.60" lengthAdjust="spacingAndGlyphs">40</text>
<line x1="455.50" y1="262.80" x2="458.50" y2="262.80" stroke="#0e0e0e" stroke-width="0.8"/>
<text x="453.00" y="265.80" font-size="8.6" fill="#2a2a2a" stroke="#2a2a2a" stroke-width="0.22" text-anchor="end" textLength="8.60" lengthAdjust="spacingAndGlyphs">60</text>
<line x1="471.00" y1="329.30" x2="471.00" y2="331.90" stroke="#0e0e0e" stroke-width="0.8"/>
<line x1="489.70" y1="329.30" x2="489.70" y2="331.90" stroke="#0e0e0e" stroke-width="0.8"/>
<text x="474.90" y="338.40" font-size="7.0" fill="#3a3a3a" stroke="#3a3a3a" stroke-width="0.22" text-anchor="end" textLength="36.60" lengthAdjust="spacingAndGlyphs" transform="rotate(-45 474.90 338.40)">0.1% DMSO</text>
<text x="493.60" y="338.40" font-size="7.0" fill="#3a3a3a" stroke="#3a3a3a" stroke-width="0.22" text-anchor="end" textLength="46.40" lengthAdjust="spacingAndGlyphs" transform="rotate(-45 493.60 338.40)">300nM duvelisib</text>
<line x1="473.40" y1="269.00" x2="489.00" y2="269.00" stroke="#333" stroke-width="1.1"/>
<text x="477.00" y="266.00" font-size="8.6" fill="#333" stroke="#333" stroke-width="0.22" textLength="8.40" lengthAdjust="spacingAndGlyphs">ns</text>
<text x="427.00" y="293.50" font-size="9.2" fill="#333" stroke="#333" stroke-width="0.22" text-anchor="middle" textLength="67.00" lengthAdjust="spacingAndGlyphs" transform="rotate(-90 427.00 293.50)" dy="0">No. mitochondria per</text>
<text x="438.00" y="293.50" font-size="9.2" fill="#333" stroke="#333" stroke-width="0.22" text-anchor="middle" textLength="63.00" lengthAdjust="spacingAndGlyphs" transform="rotate(-90 438.00 293.50)" dy="0">CART cell (day 14)</text>
<path d="M471.40,273.10 C471.45,275.92 471.62,284.68 471.70,290.00 C471.78,295.32 471.75,301.60 471.90,305.00 C472.05,308.40 472.17,308.73 472.60,310.40 C473.03,312.07 473.93,313.73 474.50,315.00 C475.07,316.27 475.58,316.97 476.00,318.00 C476.42,319.03 476.95,320.03 477.00,321.20 C477.05,322.37 476.63,323.95 476.30,325.00 C475.97,326.05 475.55,326.83 475.00,327.50 C474.45,328.17 473.33,328.75 473.00,329.00 L469.00,329.00 C468.67,328.75 467.55,328.17 467.00,327.50 C466.45,326.83 466.03,326.05 465.70,325.00 C465.37,323.95 464.95,322.37 465.00,321.20 C465.05,320.03 465.58,319.03 466.00,318.00 C466.42,316.97 466.93,316.27 467.50,315.00 C468.07,313.73 468.97,312.07 469.40,310.40 C469.83,308.73 469.95,308.40 470.10,305.00 C470.25,301.60 470.22,295.32 470.30,290.00 C470.38,284.68 470.55,275.92 470.60,273.10 Z" fill="#c8102e" fill-opacity="0.35" stroke="#c8102e" stroke-width="0.85" stroke-linejoin="round"/>
<circle cx="471.04" cy="318.26" r="0.75" fill="#c8102e"/>
<circle cx="470.88" cy="286.30" r="0.75" fill="#c8102e"/>
<circle cx="471.44" cy="305.82" r="0.75" fill="#c8102e"/>
<circle cx="470.68" cy="307.53" r="0.75" fill="#c8102e"/>
<circle cx="471.57" cy="300.91" r="0.75" fill="#c8102e"/>
<circle cx="474.37" cy="318.80" r="0.75" fill="#c8102e"/>
<circle cx="471.32" cy="283.55" r="0.75" fill="#c8102e"/>
<circle cx="473.23" cy="323.07" r="0.75" fill="#c8102e"/>
<circle cx="474.44" cy="319.33" r="0.75" fill="#c8102e"/>
<circle cx="469.84" cy="322.71" r="0.75" fill="#c8102e"/>
<circle cx="470.54" cy="290.24" r="0.75" fill="#c8102e"/>
<circle cx="470.03" cy="318.59" r="0.75" fill="#c8102e"/>
<circle cx="473.50" cy="326.84" r="0.75" fill="#c8102e"/>
<circle cx="471.26" cy="282.17" r="0.75" fill="#c8102e"/>
<circle cx="473.11" cy="316.36" r="0.75" fill="#c8102e"/>
<circle cx="470.86" cy="282.64" r="0.75" fill="#c8102e"/>
<circle cx="469.73" cy="314.79" r="0.75" fill="#c8102e"/>
<circle cx="472.51" cy="326.70" r="0.75" fill="#c8102e"/>
<circle cx="474.21" cy="319.96" r="0.75" fill="#c8102e"/>
<circle cx="471.64" cy="326.43" r="0.75" fill="#c8102e"/>
<circle cx="467.64" cy="323.72" r="0.75" fill="#c8102e"/>
<circle cx="470.96" cy="278.35" r="0.75" fill="#c8102e"/>
<path d="M490.10,292.40 C490.17,294.50 490.27,301.80 490.50,305.00 C490.73,308.20 491.00,309.93 491.50,311.60 C492.00,313.27 492.83,313.85 493.50,315.00 C494.17,316.15 495.03,317.27 495.50,318.50 C495.97,319.73 496.35,321.23 496.30,322.40 C496.25,323.57 495.72,324.57 495.20,325.50 C494.68,326.43 493.78,327.42 493.20,328.00 C492.62,328.58 491.95,328.83 491.70,329.00 L487.70,329.00 C487.45,328.83 486.78,328.58 486.20,328.00 C485.62,327.42 484.72,326.43 484.20,325.50 C483.68,324.57 483.15,323.57 483.10,322.40 C483.05,321.23 483.43,319.73 483.90,318.50 C484.37,317.27 485.23,316.15 485.90,315.00 C486.57,313.85 487.40,313.27 487.90,311.60 C488.40,309.93 488.67,308.20 488.90,305.00 C489.13,301.80 489.23,294.50 489.30,292.40 Z" fill="#11508d" fill-opacity="0.35" stroke="#11508d" stroke-width="0.85" stroke-linejoin="round"/>
<circle cx="486.90" cy="327.47" r="0.75" fill="#11508d"/>
<circle cx="488.52" cy="328.95" r="0.75" fill="#11508d"/>
<circle cx="492.34" cy="316.24" r="0.75" fill="#11508d"/>
<circle cx="492.68" cy="326.51" r="0.75" fill="#11508d"/>
<circle cx="492.96" cy="318.32" r="0.75" fill="#11508d"/>
<circle cx="488.21" cy="313.98" r="0.75" fill="#11508d"/>
<circle cx="493.78" cy="323.50" r="0.75" fill="#11508d"/>
<circle cx="490.32" cy="320.73" r="0.75" fill="#11508d"/>
<circle cx="487.71" cy="317.96" r="0.75" fill="#11508d"/>
<circle cx="491.37" cy="327.42" r="0.75" fill="#11508d"/>
<circle cx="486.42" cy="316.83" r="0.75" fill="#11508d"/>
<circle cx="490.95" cy="311.86" r="0.75" fill="#11508d"/>
<circle cx="488.73" cy="325.94" r="0.75" fill="#11508d"/>
<circle cx="490.14" cy="313.72" r="0.75" fill="#11508d"/>
<circle cx="486.63" cy="317.04" r="0.75" fill="#11508d"/>
<circle cx="486.82" cy="321.53" r="0.75" fill="#11508d"/>
<circle cx="488.98" cy="317.79" r="0.75" fill="#11508d"/>
<circle cx="489.32" cy="322.71" r="0.75" fill="#11508d"/>
<circle cx="489.92" cy="323.38" r="0.75" fill="#11508d"/>
<circle cx="491.76" cy="319.62" r="0.75" fill="#11508d"/>
<circle cx="491.55" cy="315.94" r="0.75" fill="#11508d"/>
<circle cx="494.08" cy="322.40" r="0.75" fill="#11508d"/>
<text x="7.2" y="402.4" font-size="11.6" font-weight="bold" fill="#000">F</text>
<text x="11.50" y="445.30" font-size="7.6" fill="#222" stroke="#222" stroke-width="0.22" textLength="20.20" lengthAdjust="spacingAndGlyphs">Day 3</text>
<text x="61.50" y="445.30" font-size="7.6" fill="#222" stroke="#222" stroke-width="0.22" textLength="20.80" lengthAdjust="spacingAndGlyphs">Day 9</text>
<text x="105.00" y="445.30" font-size="7.6" fill="#222" stroke="#222" stroke-width="0.22" textLength="24.80" lengthAdjust="spacingAndGlyphs">Day 15</text>
<line x1="13.10" y1="456.20" x2="16.90" y2="456.20" stroke="#333" stroke-width="0.9"/>
<line x1="30.30" y1="456.70" x2="34.30" y2="456.70" stroke="#333" stroke-width="0.9"/>
<line x1="32.30" y1="454.70" x2="32.30" y2="458.70" stroke="#333" stroke-width="0.9"/>
<line x1="61.60" y1="456.20" x2="65.40" y2="456.20" stroke="#333" stroke-width="0.9"/>
<line x1="78.40" y1="456.70" x2="82.40" y2="456.70" stroke="#333" stroke-width="0.9"/>
<line x1="80.40" y1="454.70" x2="80.40" y2="458.70" stroke="#333" stroke-width="0.9"/>
<line x1="109.10" y1="456.20" x2="112.90" y2="456.20" stroke="#333" stroke-width="0.9"/>
<line x1="126.50" y1="456.70" x2="130.50" y2="456.70" stroke="#333" stroke-width="0.9"/>
<line x1="128.50" y1="454.70" x2="128.50" y2="458.70" stroke="#333" stroke-width="0.9"/>
<text x="145.80" y="458.40" font-size="7.4" fill="#222" stroke="#222" stroke-width="0.22" textLength="32.30" lengthAdjust="spacingAndGlyphs">Duvelisib</text>
<text x="147.70" y="474.40" font-size="7.4" fill="#222" stroke="#222" stroke-width="0.22" textLength="17.20" lengthAdjust="spacingAndGlyphs">Mfn1</text>
<text x="147.70" y="491.30" font-size="7.4" fill="#222" stroke="#222" stroke-width="0.22" textLength="17.90" lengthAdjust="spacingAndGlyphs">Mfn2</text>
<text x="147.70" y="504.50" font-size="7.4" fill="#222" stroke="#222" stroke-width="0.22" textLength="46.00" lengthAdjust="spacingAndGlyphs">p-DRP1 S616</text>
<text x="147.70" y="525.80" font-size="7.4" fill="#222" stroke="#222" stroke-width="0.22" textLength="18.50" lengthAdjust="spacingAndGlyphs">DRP1</text>
<text x="147.70" y="540.60" font-size="7.4" fill="#222" stroke="#222" stroke-width="0.22" textLength="22.80" lengthAdjust="spacingAndGlyphs">PGC1α</text>
<text x="147.70" y="559.20" font-size="7.4" fill="#222" stroke="#222" stroke-width="0.22" textLength="38.80" lengthAdjust="spacingAndGlyphs">NT-PGC1α</text>
<text x="147.70" y="576.50" font-size="7.4" fill="#222" stroke="#222" stroke-width="0.22" textLength="24.80" lengthAdjust="spacingAndGlyphs">TOM20</text>
<text x="147.70" y="590.80" font-size="7.4" fill="#222" stroke="#222" stroke-width="0.22" textLength="22.80" lengthAdjust="spacingAndGlyphs">β-actin</text>
<text x="147.70" y="606.20" font-size="7.4" fill="#222" stroke="#222" stroke-width="0.22" textLength="24.80" lengthAdjust="spacingAndGlyphs">GAPDH</text>
<defs><filter id="bb" x="-30%" y="-80%" width="160%" height="260%"><feGaussianBlur stdDeviation="0.65"/></filter></defs>
<rect x="7.30" y="464.70" width="36.90" height="12.70" fill="#f2f2f2" stroke="#909090" stroke-width="0.8"/>
<rect x="10.44" y="469.05" width="14.39" height="4.30" rx="2.15" fill="#0a0a0a" opacity="0.95" filter="url(#bb)"/>
<rect x="28.52" y="468.75" width="14.39" height="5.30" rx="2.20" fill="#0a0a0a" opacity="1.0" filter="url(#bb)"/>
<rect x="54.30" y="464.70" width="37.20" height="12.70" fill="#f2f2f2" stroke="#909090" stroke-width="0.8"/>
<rect x="57.46" y="469.45" width="14.51" height="3.50" rx="1.75" fill="#0a0a0a" opacity="0.7" filter="url(#bb)"/>
<rect x="75.69" y="468.65" width="14.51" height="4.70" rx="2.20" fill="#0a0a0a" opacity="0.95" filter="url(#bb)"/>
<rect x="102.00" y="464.70" width="35.80" height="12.70" fill="#f2f2f2" stroke="#909090" stroke-width="0.8"/>
<rect x="105.04" y="469.10" width="13.96" height="3.80" rx="1.90" fill="#0a0a0a" opacity="0.8" filter="url(#bb)"/>
<rect x="122.59" y="468.05" width="13.96" height="5.10" rx="2.20" fill="#0a0a0a" opacity="1.0" filter="url(#bb)"/>
<rect x="7.30" y="481.00" width="36.90" height="12.70" fill="#f2f2f2" stroke="#909090" stroke-width="0.8"/>
<rect x="10.44" y="486.65" width="14.39" height="3.30" rx="1.65" fill="#0a0a0a" opacity="0.95" filter="url(#bb)"/>
<rect x="28.52" y="485.35" width="14.39" height="4.30" rx="2.15" fill="#0a0a0a" opacity="1.0" filter="url(#bb)"/>
<rect x="54.30" y="481.00" width="37.20" height="12.70" fill="#f2f2f2" stroke="#909090" stroke-width="0.8"/>
<rect x="57.46" y="486.25" width="14.51" height="3.50" rx="1.75" fill="#0a0a0a" opacity="0.95" filter="url(#bb)"/>
<rect x="75.69" y="486.10" width="14.51" height="3.80" rx="1.90" fill="#0a0a0a" opacity="0.95" filter="url(#bb)"/>
<rect x="102.00" y="481.00" width="35.80" height="12.70" fill="#f2f2f2" stroke="#909090" stroke-width="0.8"/>
<rect x="105.04" y="486.45" width="13.96" height="3.10" rx="1.55" fill="#0a0a0a" opacity="0.9" filter="url(#bb)"/>
<rect x="122.59" y="485.25" width="13.96" height="4.50" rx="2.20" fill="#0a0a0a" opacity="1.0" filter="url(#bb)"/>
<rect x="7.30" y="498.10" width="36.90" height="12.00" fill="#f2f2f2" stroke="#909090" stroke-width="0.8"/>
<rect x="10.44" y="501.45" width="14.39" height="4.10" rx="2.05" fill="#0a0a0a" opacity="0.95" filter="url(#bb)"/>
<rect x="28.52" y="501.40" width="14.39" height="4.80" rx="2.20" fill="#0a0a0a" opacity="1.0" filter="url(#bb)"/>
<rect x="54.30" y="498.10" width="37.20" height="12.00" fill="#f2f2f2" stroke="#909090" stroke-width="0.8"/>
<rect x="57.46" y="501.35" width="14.51" height="5.30" rx="2.20" fill="#0a0a0a" opacity="1.0" filter="url(#bb)"/>
<rect x="75.69" y="501.35" width="14.51" height="5.30" rx="2.20" fill="#0a0a0a" opacity="1.0" filter="url(#bb)"/>
<rect x="102.00" y="498.10" width="35.80" height="12.00" fill="#f2f2f2" stroke="#909090" stroke-width="0.8"/>
<rect x="105.04" y="500.75" width="13.96" height="5.50" rx="2.20" fill="#0a0a0a" opacity="1.0" filter="url(#bb)"/>
<rect x="122.59" y="502.45" width="13.96" height="3.10" rx="1.55" fill="#0a0a0a" opacity="0.7" filter="url(#bb)"/>
<rect x="7.30" y="513.20" width="36.90" height="12.60" fill="#f2f2f2" stroke="#909090" stroke-width="0.8"/>
<rect x="10.44" y="516.65" width="14.39" height="6.10" rx="2.20" fill="#0a0a0a" opacity="1.0" filter="url(#bb)"/>
<rect x="28.52" y="517.05" width="14.39" height="4.90" rx="2.20" fill="#0a0a0a" opacity="1.0" filter="url(#bb)"/>
<rect x="54.30" y="513.20" width="37.20" height="12.60" fill="#f2f2f2" stroke="#909090" stroke-width="0.8"/>
<rect x="57.46" y="516.35" width="14.51" height="6.30" rx="2.20" fill="#0a0a0a" opacity="1.0" filter="url(#bb)"/>
<rect x="75.69" y="516.60" width="14.51" height="5.80" rx="2.20" fill="#0a0a0a" opacity="1.0" filter="url(#bb)"/>
<rect x="102.00" y="513.20" width="35.80" height="12.60" fill="#f2f2f2" stroke="#909090" stroke-width="0.8"/>
<rect x="105.04" y="516.15" width="13.96" height="6.30" rx="2.20" fill="#0a0a0a" opacity="1.0" filter="url(#bb)"/>
<rect x="122.59" y="515.60" width="13.96" height="6.80" rx="2.20" fill="#0a0a0a" opacity="1.0" filter="url(#bb)"/>
<rect x="7.30" y="530.60" width="36.90" height="32.80" fill="#eeeeee" stroke="#909090" stroke-width="0.8"/>
<rect x="10.44" y="535.15" width="14.39" height="2.90" rx="1.45" fill="#0a0a0a" opacity="0.9" filter="url(#bb)"/>
<rect x="28.52" y="535.65" width="14.39" height="2.30" rx="1.15" fill="#0a0a0a" opacity="0.55" filter="url(#bb)"/>
<rect x="10.44" y="554.50" width="14.39" height="6.80" rx="2.20" fill="#0a0a0a" opacity="1.0" filter="url(#bb)"/>
<rect x="28.52" y="555.25" width="14.39" height="5.30" rx="2.20" fill="#0a0a0a" opacity="1.0" filter="url(#bb)"/>
<rect x="54.30" y="530.60" width="37.20" height="32.80" fill="#eeeeee" stroke="#909090" stroke-width="0.8"/>
<rect x="57.46" y="535.35" width="14.51" height="2.50" rx="1.25" fill="#0a0a0a" opacity="0.85" filter="url(#bb)"/>
<rect x="75.69" y="535.65" width="14.51" height="2.30" rx="1.15" fill="#0a0a0a" opacity="0.55" filter="url(#bb)"/>
<rect x="57.46" y="553.85" width="14.51" height="7.30" rx="2.20" fill="#0a0a0a" opacity="1.0" filter="url(#bb)"/>
<rect x="75.69" y="555.25" width="14.51" height="5.30" rx="2.20" fill="#0a0a0a" opacity="1.0" filter="url(#bb)"/>
<rect x="102.00" y="530.60" width="35.80" height="32.80" fill="#eeeeee" stroke="#909090" stroke-width="0.8"/>
<rect x="105.04" y="535.25" width="13.96" height="2.30" rx="1.15" fill="#0a0a0a" opacity="0.5" filter="url(#bb)"/>
<rect x="122.59" y="535.05" width="13.96" height="2.70" rx="1.35" fill="#0a0a0a" opacity="0.8" filter="url(#bb)"/>
<rect x="105.04" y="554.75" width="13.96" height="6.30" rx="2.20" fill="#0a0a0a" opacity="1.0" filter="url(#bb)"/>
<rect x="122.59" y="555.25" width="13.96" height="5.30" rx="2.20" fill="#0a0a0a" opacity="1.0" filter="url(#bb)"/>
<rect x="7.30" y="568.40" width="36.90" height="9.40" fill="#f2f2f2" stroke="#909090" stroke-width="0.8"/>
<rect x="9.51" y="571.05" width="15.50" height="3.90" rx="1.95" fill="#0a0a0a" opacity="1.0" filter="url(#bb)"/>
<rect x="26.49" y="571.65" width="16.24" height="3.70" rx="1.85" fill="#0a0a0a" opacity="1.0" filter="url(#bb)"/>
<rect x="54.30" y="568.40" width="37.20" height="9.40" fill="#f2f2f2" stroke="#909090" stroke-width="0.8"/>
<rect x="56.53" y="570.65" width="15.62" height="4.30" rx="2.15" fill="#0a0a0a" opacity="1.0" filter="url(#bb)"/>
<rect x="73.64" y="570.85" width="16.37" height="4.30" rx="2.15" fill="#0a0a0a" opacity="1.0" filter="url(#bb)"/>
<rect x="102.00" y="568.40" width="35.80" height="9.40" fill="#f2f2f2" stroke="#909090" stroke-width="0.8"/>
<rect x="104.15" y="570.15" width="15.04" height="4.90" rx="2.20" fill="#0a0a0a" opacity="1.0" filter="url(#bb)"/>
<rect x="120.62" y="570.05" width="15.75" height="5.10" rx="2.20" fill="#0a0a0a" opacity="1.0" filter="url(#bb)"/>
<rect x="7.30" y="583.00" width="36.90" height="10.60" fill="#f2f2f2" stroke="#909090" stroke-width="0.8"/>
<rect x="10.44" y="586.15" width="14.39" height="4.10" rx="2.05" fill="#0a0a0a" opacity="1.0" filter="url(#bb)"/>
<rect x="28.52" y="586.15" width="14.39" height="4.10" rx="2.05" fill="#0a0a0a" opacity="1.0" filter="url(#bb)"/>
<rect x="54.30" y="583.00" width="37.20" height="10.60" fill="#f2f2f2" stroke="#909090" stroke-width="0.8"/>
<rect x="57.46" y="586.25" width="14.51" height="3.90" rx="1.95" fill="#0a0a0a" opacity="1.0" filter="url(#bb)"/>
<rect x="75.69" y="586.35" width="14.51" height="3.90" rx="1.95" fill="#0a0a0a" opacity="1.0" filter="url(#bb)"/>
<rect x="102.00" y="583.00" width="35.80" height="10.60" fill="#f2f2f2" stroke="#909090" stroke-width="0.8"/>
<rect x="105.04" y="586.45" width="13.96" height="3.50" rx="1.75" fill="#0a0a0a" opacity="0.95" filter="url(#bb)"/>
<rect x="122.59" y="586.55" width="13.96" height="3.50" rx="1.75" fill="#0a0a0a" opacity="0.9" filter="url(#bb)"/>
<rect x="7.30" y="597.80" width="36.90" height="10.00" fill="#e0e0e0" stroke="#909090" stroke-width="0.8"/>
<rect x="10.44" y="600.95" width="14.39" height="3.90" rx="1.95" fill="#0a0a0a" opacity="0.9" filter="url(#bb)"/>
<rect x="28.52" y="600.65" width="14.39" height="4.50" rx="2.20" fill="#0a0a0a" opacity="0.95" filter="url(#bb)"/>
<rect x="54.30" y="597.80" width="37.20" height="10.00" fill="#e0e0e0" stroke="#909090" stroke-width="0.8"/>
<rect x="57.46" y="600.95" width="14.51" height="3.90" rx="1.95" fill="#0a0a0a" opacity="0.9" filter="url(#bb)"/>
<rect x="75.69" y="600.95" width="14.51" height="3.90" rx="1.95" fill="#0a0a0a" opacity="0.85" filter="url(#bb)"/>
<rect x="102.00" y="597.80" width="35.80" height="10.00" fill="#e0e0e0" stroke="#909090" stroke-width="0.8"/>
<rect x="105.04" y="600.85" width="13.96" height="4.10" rx="2.05" fill="#0a0a0a" opacity="0.95" filter="url(#bb)"/>
<rect x="122.59" y="600.85" width="13.96" height="4.10" rx="2.05" fill="#0a0a0a" opacity="0.9" filter="url(#bb)"/>
<text x="208.2" y="402.4" font-size="11.6" font-weight="bold" fill="#000">G</text>
<line x1="239.50" y1="434.70" x2="239.50" y2="510.70" stroke="#0e0e0e" stroke-width="1.3"/>
<line x1="238.90" y1="510.10" x2="359.00" y2="510.10" stroke="#0e0e0e" stroke-width="1.3"/>
<line x1="236.30" y1="510.10" x2="239.50" y2="510.10" stroke="#0e0e0e" stroke-width="0.8"/>
<text x="233.50" y="513.10" font-size="8.4" fill="#2a2a2a" stroke="#2a2a2a" stroke-width="0.22" text-anchor="end" textLength="4.10" lengthAdjust="spacingAndGlyphs">0</text>
<line x1="236.30" y1="485.13" x2="239.50" y2="485.13" stroke="#0e0e0e" stroke-width="0.8"/>
<text x="233.50" y="488.13" font-size="8.4" fill="#2a2a2a" stroke="#2a2a2a" stroke-width="0.22" text-anchor="end" textLength="12.30" lengthAdjust="spacingAndGlyphs">500</text>
<line x1="236.30" y1="460.17" x2="239.50" y2="460.17" stroke="#0e0e0e" stroke-width="0.8"/>
<text x="233.50" y="463.17" font-size="8.4" fill="#2a2a2a" stroke="#2a2a2a" stroke-width="0.22" text-anchor="end" textLength="16.40" lengthAdjust="spacingAndGlyphs">1000</text>
<line x1="236.30" y1="435.20" x2="239.50" y2="435.20" stroke="#0e0e0e" stroke-width="0.8"/>
<text x="233.50" y="438.20" font-size="8.4" fill="#2a2a2a" stroke="#2a2a2a" stroke-width="0.22" text-anchor="end" textLength="16.40" lengthAdjust="spacingAndGlyphs">1500</text>
<line x1="239.50" y1="510.10" x2="239.50" y2="512.70" stroke="#0e0e0e" stroke-width="0.8"/>
<text x="239.50" y="522.00" font-size="8.2" fill="#2a2a2a" stroke="#2a2a2a" stroke-width="0.22" text-anchor="middle" textLength="4.30" lengthAdjust="spacingAndGlyphs">0</text>
<line x1="262.05" y1="510.10" x2="262.05" y2="512.70" stroke="#0e0e0e" stroke-width="0.8"/>
<text x="262.05" y="522.00" font-size="8.2" fill="#2a2a2a" stroke="#2a2a2a" stroke-width="0.22" text-anchor="middle" textLength="8.60" lengthAdjust="spacingAndGlyphs">20</text>
<line x1="284.60" y1="510.10" x2="284.60" y2="512.70" stroke="#0e0e0e" stroke-width="0.8"/>
<text x="284.60" y="522.00" font-size="8.2" fill="#2a2a2a" stroke="#2a2a2a" stroke-width="0.22" text-anchor="middle" textLength="8.60" lengthAdjust="spacingAndGlyphs">40</text>
<line x1="307.15" y1="510.10" x2="307.15" y2="512.70" stroke="#0e0e0e" stroke-width="0.8"/>
<text x="307.15" y="522.00" font-size="8.2" fill="#2a2a2a" stroke="#2a2a2a" stroke-width="0.22" text-anchor="middle" textLength="8.60" lengthAdjust="spacingAndGlyphs">60</text>
<line x1="329.70" y1="510.10" x2="329.70" y2="512.70" stroke="#0e0e0e" stroke-width="0.8"/>
<text x="329.70" y="522.00" font-size="8.2" fill="#2a2a2a" stroke="#2a2a2a" stroke-width="0.22" text-anchor="middle" textLength="8.60" lengthAdjust="spacingAndGlyphs">80</text>
<line x1="352.25" y1="510.10" x2="352.25" y2="512.70" stroke="#0e0e0e" stroke-width="0.8"/>
<text x="352.25" y="522.00" font-size="8.2" fill="#2a2a2a" stroke="#2a2a2a" stroke-width="0.22" text-anchor="middle" textLength="12.90" lengthAdjust="spacingAndGlyphs">100</text>
<text x="269.70" y="532.70" font-size="9.2" fill="#333" stroke="#333" stroke-width="0.22" textLength="50.30" lengthAdjust="spacingAndGlyphs">Time (minutes)</text>
<text x="214.60" y="470.25" font-size="9.4" fill="#333" stroke="#333" stroke-width="0.22" text-anchor="middle" textLength="114.70" lengthAdjust="spacingAndGlyphs" transform="rotate(-90 214.60 470.25)" dy="0">OCR (pmol min<tspan font-size="6" dy="-3">−1</tspan><tspan dy="3"> per 400000 cells)</tspan></text>
<line x1="260.30" y1="435.60" x2="260.30" y2="510.10" stroke="#111" stroke-width="1.0" stroke-dasharray="1 1"/>
<line x1="260.30" y1="423.40" x2="260.30" y2="430.00" stroke="#111" stroke-width="0.9"/>
<path d="M258.70,429 L260.30,432.6 L261.90,429 Z" fill="#111"/>
<line x1="288.50" y1="435.60" x2="288.50" y2="510.10" stroke="#111" stroke-width="1.0" stroke-dasharray="1 1"/>
<line x1="288.50" y1="423.40" x2="288.50" y2="430.00" stroke="#111" stroke-width="0.9"/>
<path d="M286.90,429 L288.50,432.6 L290.10,429 Z" fill="#111"/>
<line x1="316.50" y1="435.60" x2="316.50" y2="510.10" stroke="#111" stroke-width="1.0" stroke-dasharray="1 1"/>
<line x1="316.50" y1="423.40" x2="316.50" y2="430.00" stroke="#111" stroke-width="0.9"/>
<path d="M314.90,429 L316.50,432.6 L318.10,429 Z" fill="#111"/>
<text x="244.20" y="420.20" font-size="6.4" fill="#333" stroke="#333" stroke-width="0.22" textLength="32.30" lengthAdjust="spacingAndGlyphs">Oligomycin</text>
<text x="280.40" y="420.20" font-size="6.4" fill="#333" stroke="#333" stroke-width="0.22" textLength="16.70" lengthAdjust="spacingAndGlyphs">FCCP</text>
<text x="303.00" y="413.00" font-size="6.4" fill="#333" stroke="#333" stroke-width="0.22" textLength="31.20" lengthAdjust="spacingAndGlyphs">Antimycin/</text>
<text x="305.40" y="420.60" font-size="6.4" fill="#333" stroke="#333" stroke-width="0.22" textLength="25.90" lengthAdjust="spacingAndGlyphs">rotenone</text>
<line x1="241.40" y1="487.63" x2="241.40" y2="498.62" stroke="#d2405a" stroke-width="0.9"/>
<line x1="240.00" y1="487.63" x2="242.80" y2="487.63" stroke="#d2405a" stroke-width="0.9"/>
<line x1="240.00" y1="498.62" x2="242.80" y2="498.62" stroke="#d2405a" stroke-width="0.9"/>
<line x1="250.90" y1="487.13" x2="250.90" y2="499.11" stroke="#d2405a" stroke-width="0.9"/>
<line x1="249.50" y1="487.13" x2="252.30" y2="487.13" stroke="#d2405a" stroke-width="0.9"/>
<line x1="249.50" y1="499.11" x2="252.30" y2="499.11" stroke="#d2405a" stroke-width="0.9"/>
<line x1="260.70" y1="488.13" x2="260.70" y2="498.12" stroke="#d2405a" stroke-width="0.9"/>
<line x1="259.30" y1="488.13" x2="262.10" y2="488.13" stroke="#d2405a" stroke-width="0.9"/>
<line x1="259.30" y1="498.12" x2="262.10" y2="498.12" stroke="#d2405a" stroke-width="0.9"/>
<line x1="270.20" y1="505.46" x2="270.20" y2="507.45" stroke="#d2405a" stroke-width="0.9"/>
<line x1="268.80" y1="505.46" x2="271.60" y2="505.46" stroke="#d2405a" stroke-width="0.9"/>
<line x1="268.80" y1="507.45" x2="271.60" y2="507.45" stroke="#d2405a" stroke-width="0.9"/>
<line x1="279.70" y1="505.46" x2="279.70" y2="507.45" stroke="#d2405a" stroke-width="0.9"/>
<line x1="278.30" y1="505.46" x2="281.10" y2="505.46" stroke="#d2405a" stroke-width="0.9"/>
<line x1="278.30" y1="507.45" x2="281.10" y2="507.45" stroke="#d2405a" stroke-width="0.9"/>
<line x1="288.90" y1="505.46" x2="288.90" y2="507.45" stroke="#d2405a" stroke-width="0.9"/>
<line x1="287.50" y1="505.46" x2="290.30" y2="505.46" stroke="#d2405a" stroke-width="0.9"/>
<line x1="287.50" y1="507.45" x2="290.30" y2="507.45" stroke="#d2405a" stroke-width="0.9"/>
<line x1="298.90" y1="453.58" x2="298.90" y2="479.54" stroke="#d2405a" stroke-width="0.9"/>
<line x1="297.50" y1="453.58" x2="300.30" y2="453.58" stroke="#d2405a" stroke-width="0.9"/>
<line x1="297.50" y1="479.54" x2="300.30" y2="479.54" stroke="#d2405a" stroke-width="0.9"/>
<line x1="308.40" y1="452.53" x2="308.40" y2="479.49" stroke="#d2405a" stroke-width="0.9"/>
<line x1="307.00" y1="452.53" x2="309.80" y2="452.53" stroke="#d2405a" stroke-width="0.9"/>
<line x1="307.00" y1="479.49" x2="309.80" y2="479.49" stroke="#d2405a" stroke-width="0.9"/>
<line x1="317.70" y1="450.83" x2="317.70" y2="479.79" stroke="#d2405a" stroke-width="0.9"/>
<line x1="316.30" y1="450.83" x2="319.10" y2="450.83" stroke="#d2405a" stroke-width="0.9"/>
<line x1="316.30" y1="479.79" x2="319.10" y2="479.79" stroke="#d2405a" stroke-width="0.9"/>
<line x1="327.70" y1="508.50" x2="327.70" y2="510.50" stroke="#d2405a" stroke-width="0.9"/>
<line x1="326.30" y1="508.50" x2="329.10" y2="508.50" stroke="#d2405a" stroke-width="0.9"/>
<line x1="326.30" y1="510.50" x2="329.10" y2="510.50" stroke="#d2405a" stroke-width="0.9"/>
<line x1="337.20" y1="508.60" x2="337.20" y2="510.10" stroke="#d2405a" stroke-width="0.9"/>
<line x1="335.80" y1="508.60" x2="338.60" y2="508.60" stroke="#d2405a" stroke-width="0.9"/>
<line x1="335.80" y1="510.10" x2="338.60" y2="510.10" stroke="#d2405a" stroke-width="0.9"/>
<line x1="346.40" y1="508.60" x2="346.40" y2="510.10" stroke="#d2405a" stroke-width="0.9"/>
<line x1="345.00" y1="508.60" x2="347.80" y2="508.60" stroke="#d2405a" stroke-width="0.9"/>
<line x1="345.00" y1="510.10" x2="347.80" y2="510.10" stroke="#d2405a" stroke-width="0.9"/>
<line x1="240.70" y1="484.63" x2="240.70" y2="496.62" stroke="#2f6fae" stroke-width="0.9"/>
<line x1="239.30" y1="484.63" x2="242.10" y2="484.63" stroke="#2f6fae" stroke-width="0.9"/>
<line x1="239.30" y1="496.62" x2="242.10" y2="496.62" stroke="#2f6fae" stroke-width="0.9"/>
<line x1="250.20" y1="485.13" x2="250.20" y2="496.12" stroke="#2f6fae" stroke-width="0.9"/>
<line x1="248.80" y1="485.13" x2="251.60" y2="485.13" stroke="#2f6fae" stroke-width="0.9"/>
<line x1="248.80" y1="496.12" x2="251.60" y2="496.12" stroke="#2f6fae" stroke-width="0.9"/>
<line x1="260.00" y1="485.13" x2="260.00" y2="496.12" stroke="#2f6fae" stroke-width="0.9"/>
<line x1="258.60" y1="485.13" x2="261.40" y2="485.13" stroke="#2f6fae" stroke-width="0.9"/>
<line x1="258.60" y1="496.12" x2="261.40" y2="496.12" stroke="#2f6fae" stroke-width="0.9"/>
<line x1="269.50" y1="504.21" x2="269.50" y2="506.70" stroke="#2f6fae" stroke-width="0.9"/>
<line x1="268.10" y1="504.21" x2="270.90" y2="504.21" stroke="#2f6fae" stroke-width="0.9"/>
<line x1="268.10" y1="506.70" x2="270.90" y2="506.70" stroke="#2f6fae" stroke-width="0.9"/>
<line x1="279.00" y1="504.46" x2="279.00" y2="506.45" stroke="#2f6fae" stroke-width="0.9"/>
<line x1="277.60" y1="504.46" x2="280.40" y2="504.46" stroke="#2f6fae" stroke-width="0.9"/>
<line x1="277.60" y1="506.45" x2="280.40" y2="506.45" stroke="#2f6fae" stroke-width="0.9"/>
<line x1="288.20" y1="504.46" x2="288.20" y2="506.45" stroke="#2f6fae" stroke-width="0.9"/>
<line x1="286.80" y1="504.46" x2="289.60" y2="504.46" stroke="#2f6fae" stroke-width="0.9"/>
<line x1="286.80" y1="506.45" x2="289.60" y2="506.45" stroke="#2f6fae" stroke-width="0.9"/>
<line x1="298.20" y1="449.53" x2="298.20" y2="479.49" stroke="#2f6fae" stroke-width="0.9"/>
<line x1="296.80" y1="449.53" x2="299.60" y2="449.53" stroke="#2f6fae" stroke-width="0.9"/>
<line x1="296.80" y1="479.49" x2="299.60" y2="479.49" stroke="#2f6fae" stroke-width="0.9"/>
<line x1="307.70" y1="450.83" x2="307.70" y2="480.79" stroke="#2f6fae" stroke-width="0.9"/>
<line x1="306.30" y1="450.83" x2="309.10" y2="450.83" stroke="#2f6fae" stroke-width="0.9"/>
<line x1="306.30" y1="480.79" x2="309.10" y2="480.79" stroke="#2f6fae" stroke-width="0.9"/>
<line x1="317.00" y1="449.83" x2="317.00" y2="480.79" stroke="#2f6fae" stroke-width="0.9"/>
<line x1="315.60" y1="449.83" x2="318.40" y2="449.83" stroke="#2f6fae" stroke-width="0.9"/>
<line x1="315.60" y1="480.79" x2="318.40" y2="480.79" stroke="#2f6fae" stroke-width="0.9"/>
<line x1="327.00" y1="507.75" x2="327.00" y2="509.75" stroke="#2f6fae" stroke-width="0.9"/>
<line x1="325.60" y1="507.75" x2="328.40" y2="507.75" stroke="#2f6fae" stroke-width="0.9"/>
<line x1="325.60" y1="509.75" x2="328.40" y2="509.75" stroke="#2f6fae" stroke-width="0.9"/>
<line x1="336.50" y1="506.70" x2="336.50" y2="508.20" stroke="#2f6fae" stroke-width="0.9"/>
<line x1="335.10" y1="506.70" x2="337.90" y2="506.70" stroke="#2f6fae" stroke-width="0.9"/>
<line x1="335.10" y1="508.20" x2="337.90" y2="508.20" stroke="#2f6fae" stroke-width="0.9"/>
<line x1="345.70" y1="506.70" x2="345.70" y2="508.20" stroke="#2f6fae" stroke-width="0.9"/>
<line x1="344.30" y1="506.70" x2="347.10" y2="506.70" stroke="#2f6fae" stroke-width="0.9"/>
<line x1="344.30" y1="508.20" x2="347.10" y2="508.20" stroke="#2f6fae" stroke-width="0.9"/>
<polyline points="241.00,490.63 250.50,490.63 260.30,490.63 269.80,505.46 279.30,505.46 288.50,505.46 298.50,464.51 308.00,465.81 317.30,465.31 327.30,508.75 336.80,507.45 346.00,507.45" fill="none" stroke="#1a4f8a" stroke-width="1.7" stroke-linejoin="round"/>
<polyline points="241.00,493.12 250.50,493.12 260.30,493.12 269.80,506.45 279.30,506.45 288.50,506.45 298.50,466.56 308.00,466.01 317.30,465.31 327.30,509.50 336.80,509.35 346.00,509.35" fill="none" stroke="#c8102e" stroke-width="1.7" stroke-linejoin="round"/>
<circle cx="241.00" cy="493.12" r="1.3" fill="#c8102e"/>
<circle cx="250.50" cy="493.12" r="1.3" fill="#c8102e"/>
<circle cx="260.30" cy="493.12" r="1.3" fill="#c8102e"/>
<circle cx="269.80" cy="506.45" r="1.3" fill="#c8102e"/>
<circle cx="279.30" cy="506.45" r="1.3" fill="#c8102e"/>
<circle cx="288.50" cy="506.45" r="1.3" fill="#c8102e"/>
<circle cx="298.50" cy="466.56" r="1.3" fill="#c8102e"/>
<circle cx="308.00" cy="466.01" r="1.3" fill="#c8102e"/>
<circle cx="317.30" cy="465.31" r="1.3" fill="#c8102e"/>
<circle cx="327.30" cy="509.50" r="1.3" fill="#c8102e"/>
<circle cx="336.80" cy="509.35" r="1.3" fill="#c8102e"/>
<circle cx="346.00" cy="509.35" r="1.3" fill="#c8102e"/>
<circle cx="241.00" cy="490.63" r="1.6" fill="#1a4f8a"/>
<circle cx="250.50" cy="490.63" r="1.6" fill="#1a4f8a"/>
<circle cx="260.30" cy="490.63" r="1.6" fill="#1a4f8a"/>
<circle cx="269.80" cy="505.46" r="1.6" fill="#1a4f8a"/>
<circle cx="279.30" cy="505.46" r="1.6" fill="#1a4f8a"/>
<circle cx="288.50" cy="505.46" r="1.6" fill="#1a4f8a"/>
<circle cx="298.50" cy="464.51" r="1.6" fill="#1a4f8a"/>
<circle cx="308.00" cy="465.81" r="1.6" fill="#1a4f8a"/>
<circle cx="317.30" cy="465.31" r="1.6" fill="#1a4f8a"/>
<circle cx="327.30" cy="508.75" r="1.6" fill="#1a4f8a"/>
<circle cx="336.80" cy="507.45" r="1.6" fill="#1a4f8a"/>
<circle cx="346.00" cy="507.45" r="1.6" fill="#1a4f8a"/>
<line x1="331.60" y1="393.80" x2="340.80" y2="393.80" stroke="#c8102e" stroke-width="1.2"/>
<circle cx="336.2" cy="393.8" r="1.0" fill="#c8102e"/>
<text x="343.90" y="397.40" font-size="7.8" fill="#222" stroke="#222" stroke-width="0.22" textLength="41.00" lengthAdjust="spacingAndGlyphs">0.1% DMSO</text>
<line x1="331.60" y1="403.80" x2="340.80" y2="403.80" stroke="#1a4f8a" stroke-width="1.2"/>
<circle cx="336.2" cy="403.8" r="1.4" fill="#1a4f8a"/>
<text x="343.90" y="406.60" font-size="7.8" fill="#222" stroke="#222" stroke-width="0.22" textLength="54.50" lengthAdjust="spacingAndGlyphs">300nM duvelisib</text>
<line x1="405.60" y1="433.40" x2="405.60" y2="512.40" stroke="#0e0e0e" stroke-width="1.3"/>
<line x1="405.00" y1="511.80" x2="498.40" y2="511.80" stroke="#0e0e0e" stroke-width="1.3"/>
<line x1="402.40" y1="511.80" x2="405.60" y2="511.80" stroke="#0e0e0e" stroke-width="0.8"/>
<text x="400.90" y="514.80" font-size="8.4" fill="#2a2a2a" stroke="#2a2a2a" stroke-width="0.22" text-anchor="end" textLength="4.50" lengthAdjust="spacingAndGlyphs">0</text>
<line x1="402.40" y1="485.83" x2="405.60" y2="485.83" stroke="#0e0e0e" stroke-width="0.8"/>
<text x="400.90" y="488.83" font-size="8.4" fill="#2a2a2a" stroke="#2a2a2a" stroke-width="0.22" text-anchor="end" textLength="13.50" lengthAdjust="spacingAndGlyphs">200</text>
<line x1="402.40" y1="459.87" x2="405.60" y2="459.87" stroke="#0e0e0e" stroke-width="0.8"/>
<text x="400.90" y="462.87" font-size="8.4" fill="#2a2a2a" stroke="#2a2a2a" stroke-width="0.22" text-anchor="end" textLength="13.50" lengthAdjust="spacingAndGlyphs">400</text>
<line x1="402.40" y1="433.90" x2="405.60" y2="433.90" stroke="#0e0e0e" stroke-width="0.8"/>
<text x="400.90" y="436.90" font-size="8.4" fill="#2a2a2a" stroke="#2a2a2a" stroke-width="0.22" text-anchor="end" textLength="13.50" lengthAdjust="spacingAndGlyphs">600</text>
<line x1="405.60" y1="511.80" x2="405.60" y2="514.40" stroke="#0e0e0e" stroke-width="0.8"/>
<text x="405.60" y="524.30" font-size="8.2" fill="#2a2a2a" stroke="#2a2a2a" stroke-width="0.22" text-anchor="middle" textLength="11.80" lengthAdjust="spacingAndGlyphs">120</text>
<line x1="424.16" y1="511.80" x2="424.16" y2="514.40" stroke="#0e0e0e" stroke-width="0.8"/>
<text x="424.16" y="524.30" font-size="8.2" fill="#2a2a2a" stroke="#2a2a2a" stroke-width="0.22" text-anchor="middle" textLength="11.80" lengthAdjust="spacingAndGlyphs">140</text>
<line x1="442.72" y1="511.80" x2="442.72" y2="514.40" stroke="#0e0e0e" stroke-width="0.8"/>
<text x="442.72" y="524.30" font-size="8.2" fill="#2a2a2a" stroke="#2a2a2a" stroke-width="0.22" text-anchor="middle" textLength="11.80" lengthAdjust="spacingAndGlyphs">160</text>
<line x1="461.28" y1="511.80" x2="461.28" y2="514.40" stroke="#0e0e0e" stroke-width="0.8"/>
<text x="461.28" y="524.30" font-size="8.2" fill="#2a2a2a" stroke="#2a2a2a" stroke-width="0.22" text-anchor="middle" textLength="11.80" lengthAdjust="spacingAndGlyphs">180</text>
<line x1="479.84" y1="511.80" x2="479.84" y2="514.40" stroke="#0e0e0e" stroke-width="0.8"/>
<text x="479.84" y="524.30" font-size="8.2" fill="#2a2a2a" stroke="#2a2a2a" stroke-width="0.22" text-anchor="middle" textLength="11.80" lengthAdjust="spacingAndGlyphs">200</text>
<line x1="498.40" y1="511.80" x2="498.40" y2="514.40" stroke="#0e0e0e" stroke-width="0.8"/>
<text x="498.40" y="524.30" font-size="8.2" fill="#2a2a2a" stroke="#2a2a2a" stroke-width="0.22" text-anchor="middle" textLength="11.80" lengthAdjust="spacingAndGlyphs">220</text>
<text x="392.70" y="534.70" font-size="9.0" fill="#333" stroke="#333" stroke-width="0.22" textLength="118.60" lengthAdjust="spacingAndGlyphs">ECAR (pmol min<tspan font-size="6" dy="-3">−1</tspan><tspan dy="3"> per 400000 cells)</tspan></text>
<text x="382.60" y="470.60" font-size="9.0" fill="#333" stroke="#333" stroke-width="0.22" text-anchor="middle" textLength="109.60" lengthAdjust="spacingAndGlyphs" transform="rotate(-90 382.60 470.60)" dy="0">OCR (pmol min<tspan font-size="6" dy="-3">−1</tspan><tspan dy="3"> per 400000 cells)</tspan></text>
<line x1="424.20" y1="470.60" x2="481.00" y2="470.60" stroke="#c8102e" stroke-width="1.2"/>
<line x1="452.80" y1="444.00" x2="452.80" y2="496.00" stroke="#c8102e" stroke-width="1.2"/>
<line x1="424.20" y1="468.40" x2="424.20" y2="472.80" stroke="#c8102e" stroke-width="1.0"/>
<line x1="481.00" y1="468.40" x2="481.00" y2="472.80" stroke="#c8102e" stroke-width="1.0"/>
<line x1="450.60" y1="444.00" x2="455.00" y2="444.00" stroke="#c8102e" stroke-width="1.0"/>
<line x1="450.60" y1="496.00" x2="455.00" y2="496.00" stroke="#c8102e" stroke-width="1.0"/>
<line x1="441.50" y1="464.80" x2="493.50" y2="464.80" stroke="#2a64a0" stroke-width="1.2"/>
<line x1="467.50" y1="441.70" x2="467.50" y2="487.30" stroke="#2a64a0" stroke-width="1.2"/>
<line x1="441.50" y1="462.60" x2="441.50" y2="467.00" stroke="#2a64a0" stroke-width="1.0"/>
<line x1="493.50" y1="462.60" x2="493.50" y2="467.00" stroke="#2a64a0" stroke-width="1.0"/>
<line x1="465.30" y1="441.70" x2="469.70" y2="441.70" stroke="#2a64a0" stroke-width="1.0"/>
<line x1="465.30" y1="487.30" x2="469.70" y2="487.30" stroke="#2a64a0" stroke-width="1.0"/>
<circle cx="452.8" cy="470.6" r="1.7" fill="#c8102e"/>
<circle cx="467.5" cy="464.8" r="1.7" fill="#124a86"/>
<text x="469.80" y="461.00" font-size="4.4" fill="#333" stroke="#333" stroke-width="0.22" textLength="27.20" lengthAdjust="spacingAndGlyphs">Duvelisib 300nM</text>
<text x="438.60" y="477.00" font-size="4.4" fill="#333" stroke="#333" stroke-width="0.22" textLength="7.40" lengthAdjust="spacingAndGlyphs">DMSO</text>
<text x="501.00" y="467.20" font-size="7.0" fill="#333" stroke="#333" stroke-width="0.22" textLength="13.00" lengthAdjust="spacingAndGlyphs">N=4</text>
<text x="208.8" y="546.2" font-size="11.6" font-weight="bold" fill="#000">H</text>
<line x1="239.70" y1="552.50" x2="239.70" y2="624.40" stroke="#0e0e0e" stroke-width="1.3"/>
<line x1="239.10" y1="623.80" x2="286.50" y2="623.80" stroke="#0e0e0e" stroke-width="1.3"/>
<line x1="236.70" y1="623.80" x2="239.70" y2="623.80" stroke="#0e0e0e" stroke-width="0.8"/>
<text x="233.50" y="626.80" font-size="8.5" fill="#2a2a2a" stroke="#2a2a2a" stroke-width="0.22" text-anchor="end" textLength="4.40" lengthAdjust="spacingAndGlyphs">0</text>
<line x1="236.70" y1="606.12" x2="239.70" y2="606.12" stroke="#0e0e0e" stroke-width="0.8"/>
<text x="233.50" y="609.12" font-size="8.5" fill="#2a2a2a" stroke="#2a2a2a" stroke-width="0.22" text-anchor="end" textLength="4.40" lengthAdjust="spacingAndGlyphs">1</text>
<line x1="236.70" y1="588.45" x2="239.70" y2="588.45" stroke="#0e0e0e" stroke-width="0.8"/>
<text x="233.50" y="591.45" font-size="8.5" fill="#2a2a2a" stroke="#2a2a2a" stroke-width="0.22" text-anchor="end" textLength="4.40" lengthAdjust="spacingAndGlyphs">2</text>
<line x1="236.70" y1="570.77" x2="239.70" y2="570.77" stroke="#0e0e0e" stroke-width="0.8"/>
<text x="233.50" y="573.77" font-size="8.5" fill="#2a2a2a" stroke="#2a2a2a" stroke-width="0.22" text-anchor="end" textLength="4.40" lengthAdjust="spacingAndGlyphs">3</text>
<line x1="236.70" y1="553.10" x2="239.70" y2="553.10" stroke="#0e0e0e" stroke-width="0.8"/>
<text x="233.50" y="556.10" font-size="8.5" fill="#2a2a2a" stroke="#2a2a2a" stroke-width="0.22" text-anchor="end" textLength="4.40" lengthAdjust="spacingAndGlyphs">4</text>
<line x1="262.70" y1="623.80" x2="262.70" y2="626.40" stroke="#0e0e0e" stroke-width="0.8"/>
<line x1="253.00" y1="606.12" x2="273.20" y2="570.77" stroke="#14589a" stroke-width="1.15"/>
<circle cx="273.2" cy="570.77" r="1.1" fill="#14589a"/>
<line x1="253.00" y1="606.12" x2="273.20" y2="576.08" stroke="#14589a" stroke-width="1.15"/>
<circle cx="273.2" cy="576.08" r="1.1" fill="#14589a"/>
<line x1="253.00" y1="606.12" x2="273.20" y2="593.75" stroke="#14589a" stroke-width="1.15"/>
<circle cx="273.2" cy="593.75" r="1.1" fill="#14589a"/>
<line x1="253.00" y1="606.12" x2="273.20" y2="597.29" stroke="#14589a" stroke-width="1.15"/>
<circle cx="273.2" cy="597.29" r="1.1" fill="#14589a"/>
<line x1="253.00" y1="606.12" x2="273.20" y2="604.36" stroke="#14589a" stroke-width="1.15"/>
<circle cx="273.2" cy="604.36" r="1.1" fill="#14589a"/>
<circle cx="253" cy="606.12" r="1.4" fill="#e0102e"/>
<line x1="252.30" y1="558.30" x2="275.40" y2="558.30" stroke="#333" stroke-width="1.5"/>
<polygon points="263.85,551.70 264.43,553.10 265.94,553.22 264.79,554.21 265.14,555.68 263.85,554.89 262.56,555.68 262.91,554.21 261.76,553.22 263.27,553.10" fill="#333"/>
<text x="240.80" y="631.40" font-size="5.6" fill="#444" stroke="#444" stroke-width="0.22" textLength="13.20" lengthAdjust="spacingAndGlyphs">mean</text>
<text x="235.10" y="636.80" font-size="5.6" fill="#444" stroke="#444" stroke-width="0.22" textLength="24.60" lengthAdjust="spacingAndGlyphs">normalized</text>
<text x="240.00" y="641.90" font-size="5.6" fill="#444" stroke="#444" stroke-width="0.22" textLength="14.80" lengthAdjust="spacingAndGlyphs">control</text>
<text x="267.00" y="631.40" font-size="5.6" fill="#444" stroke="#444" stroke-width="0.22" textLength="20.20" lengthAdjust="spacingAndGlyphs">duvelisib</text>
<text x="252.55" y="656.50" font-size="9.0" fill="#222" stroke="#222" stroke-width="0.22" textLength="22.10" lengthAdjust="spacingAndGlyphs">Day 15</text>
<text x="214.30" y="588.75" font-size="9.6" fill="#333" stroke="#333" stroke-width="0.22" text-anchor="middle" textLength="18.50" lengthAdjust="spacingAndGlyphs" transform="rotate(-90 214.30 588.75)" dy="0">MFN1</text>
<text x="222.20" y="587.50" font-size="9.6" fill="#333" stroke="#333" stroke-width="0.22" text-anchor="middle" textLength="72.20" lengthAdjust="spacingAndGlyphs" transform="rotate(-90 222.20 587.50)" dy="0">normalized to loading</text>
<line x1="345.80" y1="552.90" x2="345.80" y2="624.10" stroke="#0e0e0e" stroke-width="1.3"/>
<line x1="345.20" y1="623.50" x2="392.30" y2="623.50" stroke="#0e0e0e" stroke-width="1.3"/>
<line x1="342.80" y1="623.50" x2="345.80" y2="623.50" stroke="#0e0e0e" stroke-width="0.8"/>
<text x="339.60" y="626.50" font-size="8.5" fill="#2a2a2a" stroke="#2a2a2a" stroke-width="0.22" text-anchor="end" textLength="4.40" lengthAdjust="spacingAndGlyphs">0</text>
<line x1="342.80" y1="609.50" x2="345.80" y2="609.50" stroke="#0e0e0e" stroke-width="0.8"/>
<text x="339.60" y="612.50" font-size="8.5" fill="#2a2a2a" stroke="#2a2a2a" stroke-width="0.22" text-anchor="end" textLength="4.40" lengthAdjust="spacingAndGlyphs">2</text>
<line x1="342.80" y1="595.50" x2="345.80" y2="595.50" stroke="#0e0e0e" stroke-width="0.8"/>
<text x="339.60" y="598.50" font-size="8.5" fill="#2a2a2a" stroke="#2a2a2a" stroke-width="0.22" text-anchor="end" textLength="4.40" lengthAdjust="spacingAndGlyphs">4</text>
<line x1="342.80" y1="581.50" x2="345.80" y2="581.50" stroke="#0e0e0e" stroke-width="0.8"/>
<text x="339.60" y="584.50" font-size="8.5" fill="#2a2a2a" stroke="#2a2a2a" stroke-width="0.22" text-anchor="end" textLength="4.40" lengthAdjust="spacingAndGlyphs">6</text>
<line x1="342.80" y1="567.50" x2="345.80" y2="567.50" stroke="#0e0e0e" stroke-width="0.8"/>
<text x="339.60" y="570.50" font-size="8.5" fill="#2a2a2a" stroke="#2a2a2a" stroke-width="0.22" text-anchor="end" textLength="4.40" lengthAdjust="spacingAndGlyphs">8</text>
<line x1="342.80" y1="553.50" x2="345.80" y2="553.50" stroke="#0e0e0e" stroke-width="0.8"/>
<text x="339.60" y="556.50" font-size="8.5" fill="#2a2a2a" stroke="#2a2a2a" stroke-width="0.22" text-anchor="end" textLength="8.80" lengthAdjust="spacingAndGlyphs">10</text>
<line x1="368.80" y1="623.50" x2="368.80" y2="626.10" stroke="#0e0e0e" stroke-width="0.8"/>
<line x1="358.80" y1="616.50" x2="379.70" y2="566.80" stroke="#14589a" stroke-width="1.15"/>
<circle cx="379.7" cy="566.80" r="1.1" fill="#14589a"/>
<line x1="358.80" y1="616.50" x2="379.70" y2="585.70" stroke="#14589a" stroke-width="1.15"/>
<circle cx="379.7" cy="585.70" r="1.1" fill="#14589a"/>
<line x1="358.80" y1="616.50" x2="379.70" y2="598.30" stroke="#14589a" stroke-width="1.15"/>
<circle cx="379.7" cy="598.30" r="1.1" fill="#14589a"/>
<line x1="358.80" y1="616.50" x2="379.70" y2="604.60" stroke="#14589a" stroke-width="1.15"/>
<circle cx="379.7" cy="604.60" r="1.1" fill="#14589a"/>
<line x1="358.80" y1="616.50" x2="379.70" y2="612.30" stroke="#14589a" stroke-width="1.15"/>
<circle cx="379.7" cy="612.30" r="1.1" fill="#14589a"/>
<circle cx="358.8" cy="616.50" r="1.4" fill="#e0102e"/>
<line x1="358.00" y1="555.00" x2="380.00" y2="555.00" stroke="#333" stroke-width="1.5"/>
<polygon points="369.00,548.40 369.58,549.80 371.09,549.92 369.94,550.91 370.29,552.38 369.00,551.59 367.71,552.38 368.06,550.91 366.91,549.92 368.42,549.80" fill="#333"/>
<text x="350.80" y="631.40" font-size="5.6" fill="#444" stroke="#444" stroke-width="0.22" textLength="13.20" lengthAdjust="spacingAndGlyphs">mean</text>
<text x="345.10" y="636.80" font-size="5.6" fill="#444" stroke="#444" stroke-width="0.22" textLength="24.60" lengthAdjust="spacingAndGlyphs">normalized</text>
<text x="350.00" y="641.90" font-size="5.6" fill="#444" stroke="#444" stroke-width="0.22" textLength="14.80" lengthAdjust="spacingAndGlyphs">control</text>
<text x="374.40" y="631.40" font-size="5.6" fill="#444" stroke="#444" stroke-width="0.22" textLength="20.20" lengthAdjust="spacingAndGlyphs">duvelisib</text>
<text x="359.15" y="656.50" font-size="9.0" fill="#222" stroke="#222" stroke-width="0.22" textLength="22.10" lengthAdjust="spacingAndGlyphs">Day 15</text>
<text x="320.30" y="588.75" font-size="9.6" fill="#333" stroke="#333" stroke-width="0.22" text-anchor="middle" textLength="18.50" lengthAdjust="spacingAndGlyphs" transform="rotate(-90 320.30 588.75)" dy="0">MFN2</text>
<text x="328.20" y="587.50" font-size="9.6" fill="#333" stroke="#333" stroke-width="0.22" text-anchor="middle" textLength="72.20" lengthAdjust="spacingAndGlyphs" transform="rotate(-90 328.20 587.50)" dy="0">normalized to loading</text>
<line x1="452.00" y1="552.40" x2="452.00" y2="624.30" stroke="#0e0e0e" stroke-width="1.3"/>
<line x1="451.40" y1="623.70" x2="498.80" y2="623.70" stroke="#0e0e0e" stroke-width="1.3"/>
<line x1="449.00" y1="623.70" x2="452.00" y2="623.70" stroke="#0e0e0e" stroke-width="0.8"/>
<text x="445.80" y="626.70" font-size="8.5" fill="#2a2a2a" stroke="#2a2a2a" stroke-width="0.22" text-anchor="end" textLength="10.70" lengthAdjust="spacingAndGlyphs">0.0</text>
<line x1="449.00" y1="600.13" x2="452.00" y2="600.13" stroke="#0e0e0e" stroke-width="0.8"/>
<text x="445.80" y="603.13" font-size="8.5" fill="#2a2a2a" stroke="#2a2a2a" stroke-width="0.22" text-anchor="end" textLength="10.70" lengthAdjust="spacingAndGlyphs">0.5</text>
<line x1="449.00" y1="576.57" x2="452.00" y2="576.57" stroke="#0e0e0e" stroke-width="0.8"/>
<text x="445.80" y="579.57" font-size="8.5" fill="#2a2a2a" stroke="#2a2a2a" stroke-width="0.22" text-anchor="end" textLength="10.70" lengthAdjust="spacingAndGlyphs">1.0</text>
<line x1="449.00" y1="553.00" x2="452.00" y2="553.00" stroke="#0e0e0e" stroke-width="0.8"/>
<text x="445.80" y="556.00" font-size="8.5" fill="#2a2a2a" stroke="#2a2a2a" stroke-width="0.22" text-anchor="end" textLength="10.70" lengthAdjust="spacingAndGlyphs">1.5</text>
<line x1="475.80" y1="623.70" x2="475.80" y2="626.30" stroke="#0e0e0e" stroke-width="0.8"/>
<line x1="465.40" y1="576.57" x2="486.30" y2="589.29" stroke="#14589a" stroke-width="1.15"/>
<circle cx="486.3" cy="589.29" r="1.1" fill="#14589a"/>
<line x1="465.40" y1="576.57" x2="486.30" y2="597.31" stroke="#14589a" stroke-width="1.15"/>
<circle cx="486.3" cy="597.31" r="1.1" fill="#14589a"/>
<line x1="465.40" y1="576.57" x2="486.30" y2="602.49" stroke="#14589a" stroke-width="1.15"/>
<circle cx="486.3" cy="602.49" r="1.1" fill="#14589a"/>
<circle cx="465.4" cy="576.57" r="1.4" fill="#e0102e"/>
<line x1="465.20" y1="559.20" x2="487.00" y2="559.20" stroke="#333" stroke-width="1.5"/>
<polygon points="476.10,552.60 476.68,554.00 478.19,554.12 477.04,555.11 477.39,556.58 476.10,555.79 474.81,556.58 475.16,555.11 474.01,554.12 475.52,554.00" fill="#333"/>
<text x="453.10" y="631.40" font-size="5.6" fill="#444" stroke="#444" stroke-width="0.22" textLength="13.20" lengthAdjust="spacingAndGlyphs">mean</text>
<text x="447.40" y="636.80" font-size="5.6" fill="#444" stroke="#444" stroke-width="0.22" textLength="24.60" lengthAdjust="spacingAndGlyphs">normalized</text>
<text x="452.30" y="641.90" font-size="5.6" fill="#444" stroke="#444" stroke-width="0.22" textLength="14.80" lengthAdjust="spacingAndGlyphs">control</text>
<text x="480.70" y="631.40" font-size="5.6" fill="#444" stroke="#444" stroke-width="0.22" textLength="20.20" lengthAdjust="spacingAndGlyphs">duvelisib</text>
<text x="465.05" y="656.50" font-size="9.0" fill="#222" stroke="#222" stroke-width="0.22" textLength="22.10" lengthAdjust="spacingAndGlyphs">Day 15</text>
<text x="419.20" y="590.00" font-size="9.6" fill="#333" stroke="#333" stroke-width="0.22" text-anchor="middle" textLength="44.00" lengthAdjust="spacingAndGlyphs" transform="rotate(-90 419.20 590.00)" dy="0">p.DRP1 S616</text>
<text x="428.80" y="587.50" font-size="9.6" fill="#333" stroke="#333" stroke-width="0.22" text-anchor="middle" textLength="72.20" lengthAdjust="spacingAndGlyphs" transform="rotate(-90 428.80 587.50)" dy="0">normalized to loading</text>
<rect x="0.55" y="0.55" width="518.90" height="663.90" fill="none" stroke="#000" stroke-width="1.3"/>
</svg></body></html>
